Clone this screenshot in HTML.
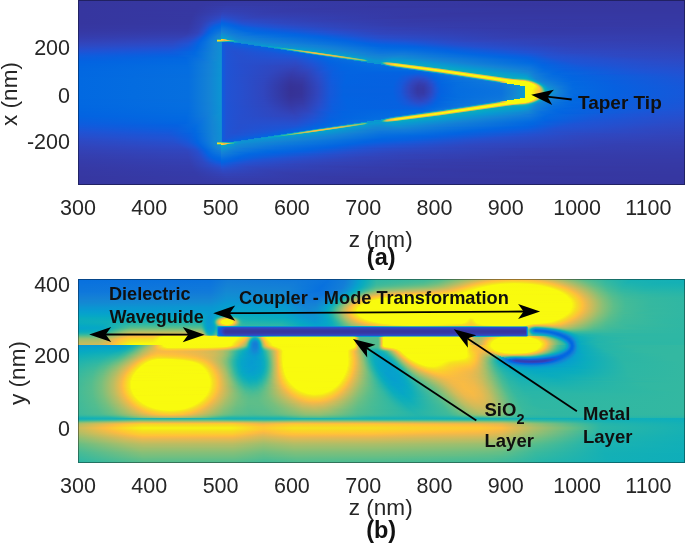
<!DOCTYPE html>
<html><head><meta charset="utf-8"><style>
html,body{margin:0;padding:0;background:#fff;width:685px;height:543px;overflow:hidden}
svg{display:block;position:absolute;left:0;top:0}
.hm{position:absolute;left:78px;width:607px;overflow:hidden}
.hm i{position:absolute;left:0;width:607px;height:1px;display:block}
text{font-family:"Liberation Sans",Arial,sans-serif}
.t{font-size:21.5px;fill:#262626}
.l{font-size:22.6px;fill:#262626}
.b{font-weight:bold;fill:#111;font-size:23.5px}
.ann{font-weight:bold;font-size:18.5px;fill:#101010}
</style></head><body>
<div class="hm" style="top:0;height:185px">
<i style="top:0px;height:3px;background:linear-gradient(90deg,#36369e 0.5px,#3638a2 125.5px,#3639a5 158.5px,#3636a0 571.5px,#3636a0 606.5px)"></i>
<i style="top:3px;height:3px;background:linear-gradient(90deg,#36369e 0.5px,#3638a2 122.5px,#353ba8 151.5px,#36369f 427.5px,#3637a0 606.5px)"></i>
<i style="top:6px;height:2px;background:linear-gradient(90deg,#36369e 0.5px,#3638a2 119.5px,#353dac 148.5px,#3637a1 311.5px,#3637a0 606.5px)"></i>
<i style="top:8px;height:2px;background:linear-gradient(90deg,#36369f 0.5px,#3638a2 118.5px,#343eb0 147.5px,#3639a5 236.5px,#3637a0 572.5px,#3637a1 606.5px)"></i>
<i style="top:10px;height:2px;background:linear-gradient(90deg,#36369f 0.5px,#3637a2 116.5px,#3341b4 146.5px,#353ba9 204.5px,#3637a0 453.5px,#3637a1 606.5px)"></i>
<i style="top:12px;background:linear-gradient(90deg,#36369f 0.5px,#3638a2 116.5px,#3341b4 142.5px,#3243b8 144.5px,#353cac 192.5px,#3637a1 405.5px,#3637a2 606.5px)"></i>
<i style="top:13px;background:linear-gradient(90deg,#36369f 0.5px,#3638a2 115.5px,#3342b7 142.5px,#3144bb 144.5px,#353eae 185.5px,#3637a1 379.5px,#3637a2 606.5px)"></i>
<i style="top:14px;background:linear-gradient(90deg,#36369f 0.5px,#3637a2 114.5px,#3243b9 142.5px,#2f46bf 144.5px,#343fb0 181.5px,#3638a2 363.5px,#3638a2 606.5px)"></i>
<i style="top:15px;background:linear-gradient(90deg,#36369f 0.5px,#3638a2 114.5px,#3145bc 142.5px,#2d48c3 143.5px,#3440b3 178.5px,#3638a3 349.5px,#3638a2 606.5px)"></i>
<i style="top:16px;background:linear-gradient(90deg,#36369f 0.5px,#3637a2 113.5px,#3242b8 133.5px,#2f47c0 142.5px,#2b4bc7 143.5px,#3341b6 175.5px,#3638a4 336.5px,#3638a3 606.5px)"></i>
<i style="top:17px;background:linear-gradient(90deg,#36369f 0.5px,#3638a2 113.5px,#3341b6 130.5px,#2d49c3 142.5px,#274dcb 143.5px,#3243b8 173.5px,#3639a5 325.5px,#3638a3 606.5px)"></i>
<i style="top:18px;background:linear-gradient(90deg,#36369f 0.5px,#3638a2 113.5px,#3342b6 129.5px,#2b4bc7 142.5px,#2351d1 143.5px,#3045bd 167.5px,#363aa6 307.5px,#3638a3 571.5px,#3638a3 606.5px)"></i>
<i style="top:19px;background:linear-gradient(90deg,#36369f 0.5px,#3638a2 112.5px,#3341b4 127.5px,#284dcb 141.5px,#274ecc 142.5px,#1d54d5 143.5px,#2e48c2 164.5px,#353dac 262.5px,#3638a2 462.5px,#3638a4 606.5px)"></i>
<i style="top:20px;background:linear-gradient(90deg,#36369f 0.5px,#3638a3 112.5px,#3341b4 126.5px,#2450cf 140.5px,#2351d0 142.5px,#1559da 143.5px,#2c4ac6 163.5px,#3340b4 232.5px,#3639a6 347.5px,#3638a4 606.5px)"></i>
<i style="top:21px;background:linear-gradient(90deg,#36369f 0.5px,#3638a2 111.5px,#3341b4 125.5px,#1f53d4 140.5px,#1d54d5 142.5px,#0d5dde 143.5px,#1956d8 151.5px,#294cc9 164.5px,#3341b6 231.5px,#363aa7 338.5px,#3639a4 582.5px,#3639a4 606.5px)"></i>
<i style="top:22px;background:linear-gradient(90deg,#36369f 0.5px,#3638a3 111.5px,#3340b4 124.5px,#254fce 134.5px,#1658d9 142.5px,#0661e0 143.5px,#1459db 152.5px,#254fce 163.5px,#2f46bf 199.5px,#353ba9 318.5px,#3638a4 535.5px,#3639a5 606.5px)"></i>
<i style="top:23px;background:linear-gradient(90deg,#36369f 0.5px,#3638a3 111.5px,#3440b3 123.5px,#264ecd 132.5px,#0f5cdd 141.5px,#0e5cde 142.5px,#0265e1 143.5px,#0860df 150.5px,#2251d2 164.5px,#2e48c1 203.5px,#353cab 315.5px,#3639a4 520.5px,#3639a5 606.5px)"></i>
<i style="top:24px;background:linear-gradient(90deg,#3636a0 0.5px,#3638a3 110.5px,#3440b2 122.5px,#284dca 130.5px,#0d5dde 138.5px,#0860df 142.5px,#0268e1 143.5px,#0661e0 152.5px,#1f53d4 167.5px,#2e48c2 212.5px,#353cac 314.5px,#3639a4 510.5px,#3639a5 606.5px)"></i>
<i style="top:25px;background:linear-gradient(90deg,#3637a0 0.5px,#3639a4 110.5px,#3341b4 122.5px,#284dca 129.5px,#0c5dde 136.5px,#0364e1 142.5px,#036ce0 143.5px,#0462e1 154.5px,#1d54d6 171.5px,#2d49c4 219.5px,#353dad 311.5px,#3639a5 498.5px,#363aa6 606.5px)"></i>
<i style="top:26px;background:linear-gradient(90deg,#3637a1 0.5px,#3639a5 110.5px,#3341b6 122.5px,#254fce 129.5px,#0a5fdf 135.5px,#0265e1 139.5px,#0267e1 142.5px,#066fdf 143.5px,#0462e1 157.5px,#1d54d6 179.5px,#3046be 244.5px,#353eae 319.5px,#3639a5 498.5px,#363aa6 606.5px)"></i>
<i style="top:27px;background:linear-gradient(90deg,#3637a1 0.5px,#3639a5 110.5px,#3341b5 121.5px,#254fce 128.5px,#0c5ede 133.5px,#0364e1 136.5px,#026ae1 142.5px,#0a72de 143.5px,#0365e1 158.5px,#2052d3 195.5px,#3243b8 272.5px,#353baa 373.5px,#363aa7 590.5px,#363aa7 606.5px)"></i>
<i style="top:28px;background:linear-gradient(90deg,#3637a2 0.5px,#3639a6 109.5px,#3341b4 120.5px,#264ecd 127.5px,#0b5edf 132.5px,#0265e1 135.5px,#046de0 142.5px,#0d76dc 143.5px,#0266e1 160.5px,#2251d1 213.5px,#3243b8 280.5px,#353aa8 419.5px,#353aa7 606.5px)"></i>
<i style="top:29px;background:linear-gradient(90deg,#3638a3 0.5px,#363aa7 109.5px,#3342b6 120.5px,#274ecc 126.5px,#0b5edf 131.5px,#0266e1 134.5px,#0770df 142.5px,#1079da 143.5px,#0267e1 162.5px,#115bdc 191.5px,#2d49c5 252.5px,#3340b4 312.5px,#363aa7 470.5px,#353ba8 606.5px)"></i>
<i style="top:30px;background:linear-gradient(90deg,#3638a3 0.5px,#353aa8 109.5px,#3243b8 120.5px,#2450cf 126.5px,#0661e0 131.5px,#036ae1 135.5px,#0a72de 142.5px,#137dd8 143.5px,#0268e1 166.5px,#0b5ede 192.5px,#2d49c5 260.5px,#3341b6 313.5px,#353aa8 464.5px,#353ba9 606.5px)"></i>
<i style="top:31px;background:linear-gradient(90deg,#3639a4 0.5px,#353ba9 109.5px,#3244ba 120.5px,#264fcd 125.5px,#0760e0 130.5px,#0269e1 133.5px,#0d75dc 142.5px,#1481d6 143.5px,#0269e1 168.5px,#0760e0 194.5px,#2351d1 243.5px,#3244ba 295.5px,#353ba9 453.5px,#353ba9 606.5px)"></i>
<i style="top:32px;background:linear-gradient(90deg,#3639a6 0.5px,#353cab 109.5px,#3243b9 119.5px,#274ecc 124.5px,#095fdf 129.5px,#0266e1 131.5px,#0f78db 141.5px,#0f78db 142.5px,#1485d4 143.5px,#0c74dd 157.5px,#0268e1 179.5px,#095fdf 210.5px,#254fce 255.5px,#3144bb 306.5px,#353baa 455.5px,#353baa 606.5px)"></i>
<i style="top:33px;background:linear-gradient(90deg,#363aa7 0.5px,#353dac 108.5px,#3045bd 119.5px,#2450d0 124.5px,#0a5fdf 128.5px,#0265e1 130.5px,#117bd9 141.5px,#127bd9 142.5px,#138ad3 143.5px,#1079da 155.5px,#036be0 178.5px,#0661e0 216.5px,#2152d3 255.5px,#3045bd 302.5px,#353cab 455.5px,#353caa 606.5px)"></i>
<i style="top:34px;background:linear-gradient(90deg,#353ba8 0.5px,#353eae 107.5px,#3046be 118.5px,#2350d0 123.5px,#0462e1 128.5px,#056de0 132.5px,#137dd8 140.5px,#137fd7 142.5px,#0f8fd2 143.5px,#137dd8 154.5px,#076fdf 174.5px,#0364e1 218.5px,#1b55d6 255.5px,#2f47c1 300.5px,#353dac 448.5px,#353cab 606.5px)"></i>
<i style="top:35px;background:linear-gradient(90deg,#353caa 0.5px,#343fb1 106.5px,#2f47c0 117.5px,#2351d1 122.5px,#0462e1 127.5px,#056de0 131.5px,#137fd7 139.5px,#1482d5 142.5px,#0b95d2 143.5px,#1484d4 152.5px,#0d75dc 167.5px,#0267e1 215.5px,#0860e0 238.5px,#264ecc 282.5px,#2d48c3 311.5px,#353eaf 430.5px,#353cac 606.5px)"></i>
<i style="top:36px;background:linear-gradient(90deg,#353cac 0.5px,#3440b3 104.5px,#2e48c2 116.5px,#1c55d6 122.5px,#0462e1 126.5px,#056de0 130.5px,#1480d6 138.5px,#1485d4 142.5px,#089ad0 143.5px,#108ed2 150.5px,#137ed7 159.5px,#046ce0 205.5px,#0562e0 242.5px,#264fcd 287.5px,#2c4ac6 312.5px,#343fb1 424.5px,#353dad 606.5px)"></i>
<i style="top:37px;background:linear-gradient(90deg,#353dae 0.5px,#3341b5 102.5px,#2c49c5 115.5px,#1a56d7 121.5px,#0363e1 125.5px,#056de0 129.5px,#1480d6 137.5px,#1388d3 142.5px,#069ece 143.5px,#0d93d2 150.5px,#1483d5 157.5px,#0d75dc 182.5px,#0265e1 242.5px,#1956d8 275.5px,#294cc9 302.5px,#343fb1 433.5px,#353dad 606.5px)"></i>
<i style="top:38px;background:linear-gradient(90deg,#343eb0 0.5px,#3243b8 100.5px,#2b4bc7 114.5px,#1857d8 120.5px,#0363e1 124.5px,#076fdf 129.5px,#1482d5 137.5px,#128ad3 142.5px,#06a7c6 143.5px,#06a1cc 145.5px,#0e92d2 152.5px,#1482d5 161.5px,#0265e1 249.5px,#125adc 274.5px,#254fce 299.5px,#3341b5 415.5px,#353eae 576.5px,#353eae 606.5px)"></i>
<i style="top:39px;background:linear-gradient(90deg,#3440b2 0.5px,#3244ba 98.5px,#2a4bc8 112.5px,#1b55d7 118.5px,#0363e1 123.5px,#066fdf 128.5px,#1482d5 136.5px,#1486d4 138.5px,#3ab99c 139.5px,#35b8a0 141.5px,#2ab6a6 142.5px,#f5e020 143.5px,#fad32a 144.5px,#fdbd3e 145.5px,#d4bb58 146.5px,#9ebe6d 147.5px,#4abc93 148.5px,#09abbf 149.5px,#079ecf 150.5px,#128bd2 157.5px,#137fd7 173.5px,#0364e1 258.5px,#1956d8 288.5px,#2251d1 304.5px,#3243b9 403.5px,#353eaf 540.5px,#353eaf 606.5px)"></i>
<i style="top:40px;background:linear-gradient(90deg,#3341b5 0.5px,#3045bd 96.5px,#284dcb 111.5px,#1957d8 117.5px,#0363e1 122.5px,#066edf 127.5px,#1481d6 135.5px,#1487d3 138.5px,#f5e11f 139.5px,#f5e11f 140.5px,#fbd02c 142.5px,#ffc436 143.5px,#f9bb43 144.5px,#d8ba56 146.5px,#f5ba47 147.5px,#fcbd3f 148.5px,#ebb94d 149.5px,#c8bc5d 150.5px,#96bf71 151.5px,#5abd8b 152.5px,#2cb7a5 154.5px,#23b5ab 155.5px,#0e92d2 156.5px,#1485d4 168.5px,#0364e1 266.5px,#1459da 289.5px,#1e54d5 305.5px,#3046be 386.5px,#343fb1 507.5px,#343eb0 606.5px)"></i>
<i style="top:41px;background:linear-gradient(90deg,#3342b7 0.5px,#2f47c0 95.5px,#264ecd 110.5px,#1757d9 116.5px,#0265e1 122.5px,#0a72de 128.5px,#1484d4 136.5px,#1388d3 138.5px,#8dbf74 139.5px,#8dbf74 140.5px,#86bf77 141.5px,#36b99f 146.5px,#13b0b6 149.5px,#0bacbd 150.5px,#0cadbc 151.5px,#15b0b5 152.5px,#18b1b3 155.5px,#09abbe 157.5px,#089bd0 159.5px,#0f8fd2 160.5px,#137fd7 191.5px,#0365e1 272.5px,#105bdd 290.5px,#1857d8 305.5px,#1f53d4 328.5px,#2f47c1 387.5px,#3440b2 504.5px,#343fb1 606.5px)"></i>
<i style="top:42px;background:linear-gradient(90deg,#3244ba 0.5px,#2e48c2 94.5px,#2450cf 109.5px,#125adc 116.5px,#0365e1 121.5px,#0971de 127.5px,#1483d5 135.5px,#108ed2 142.5px,#1389d3 143.5px,#0364e1 144.5px,#0c5ede 148.5px,#0363e1 154.5px,#046de0 155.5px,#1389d3 156.5px,#128bd3 159.5px,#0d92d2 164.5px,#1483d5 190.5px,#0972de 245.5px,#0364e1 280.5px,#125adc 304.5px,#1658d9 324.5px,#2a4cc9 369.5px,#3341b4 484.5px,#343fb2 606.5px)"></i>
<i style="top:43px;background:linear-gradient(90deg,#3145bd 0.5px,#2c4ac6 94.5px,#2053d4 110.5px,#0364e1 120.5px,#0770df 126.5px,#1483d5 135.5px,#108ed2 142.5px,#1389d3 143.5px,#0e5cde 144.5px,#1459db 145.5px,#0363e1 162.5px,#1388d3 163.5px,#1487d3 167.5px,#0d93d2 170.5px,#1483d5 202.5px,#0a72de 251.5px,#0265e1 286.5px,#0c5ede 305.5px,#125adc 327.5px,#264ecd 368.5px,#3342b7 469.5px,#3440b2 606.5px)"></i>
<i style="top:44px;background:linear-gradient(90deg,#2f47bf 0.5px,#2a4cc8 94.5px,#1c55d6 110.5px,#0265e1 120.5px,#0a73de 127.5px,#1485d4 136.5px,#108ed2 142.5px,#1389d3 143.5px,#0e5cde 144.5px,#1857d8 146.5px,#0363e1 169.5px,#1389d3 170.5px,#1487d3 174.5px,#0c93d2 177.5px,#1484d4 213.5px,#0a73dd 257.5px,#0364e1 291.5px,#0661e0 307.5px,#105bdd 334.5px,#264ecd 377.5px,#3242b8 476.5px,#3340b3 606.5px)"></i>
<i style="top:45px;background:linear-gradient(90deg,#2e48c2 0.5px,#274dcb 94.5px,#1b55d7 109.5px,#0364e1 119.5px,#0971de 126.5px,#1483d4 135.5px,#108ed2 142.5px,#1389d3 143.5px,#0e5cde 144.5px,#1c55d6 147.5px,#0363e1 175.5px,#1389d3 176.5px,#1388d3 180.5px,#079bd0 183.5px,#079bd0 186.5px,#0e91d2 188.5px,#137fd7 238.5px,#0265e1 295.5px,#0661e0 327.5px,#254fce 385.5px,#3243b9 479.5px,#3341b4 606.5px)"></i>
<i style="top:46px;background:linear-gradient(90deg,#2c4ac5 0.5px,#254fce 94.5px,#1956d8 108.5px,#0265e1 119.5px,#0b74dd 127.5px,#1485d4 136.5px,#108ed2 142.5px,#1389d3 143.5px,#0e5cde 144.5px,#1e54d5 148.5px,#0363e1 182.5px,#138ad3 183.5px,#1389d3 186.5px,#06a0cd 189.5px,#06a5c8 192.5px,#0998d1 195.5px,#0d92d2 197.5px,#137ed7 247.5px,#0266e1 299.5px,#0561e0 335.5px,#254fce 395.5px,#3243b9 492.5px,#3341b5 606.5px)"></i>
<i style="top:47px;background:linear-gradient(90deg,#2a4cc8 0.5px,#2251d2 95.5px,#1359db 109.5px,#0265e1 118.5px,#0a72de 126.5px,#1484d4 135.5px,#108ed2 142.5px,#1389d3 143.5px,#0e5cde 144.5px,#1f53d4 148.5px,#0860e0 183.5px,#0267e1 189.5px,#128bd2 190.5px,#128ad3 192.5px,#06a2cb 195.5px,#0dadbb 199.5px,#06a6c7 202.5px,#0a96d1 204.5px,#1480d6 250.5px,#0269e1 304.5px,#0363e1 341.5px,#2450cf 405.5px,#3244ba 498.5px,#3342b6 606.5px)"></i>
<i style="top:48px;background:linear-gradient(90deg,#274dcc 0.5px,#1f53d5 95.5px,#0d5dde 111.5px,#0267e1 119.5px,#1484d4 135.5px,#108ed2 142.5px,#1389d3 143.5px,#0e5cde 144.5px,#1f53d4 148.5px,#1857d8 169.5px,#0364e1 195.5px,#128cd2 196.5px,#128bd2 198.5px,#0e91d2 199.5px,#069fce 200.5px,#06a8c4 201.5px,#1eb3ae 203.5px,#33b8a0 205.5px,#35b8a0 206.5px,#24b5aa 208.5px,#09abbf 210.5px,#0899d1 212.5px,#1481d6 255.5px,#036be0 303.5px,#0268e1 334.5px,#0860df 359.5px,#2450cf 417.5px,#3145bc 499.5px,#3342b7 606.5px)"></i>
<i style="top:49px;background:linear-gradient(90deg,#254fcf 0.5px,#1c55d6 92.5px,#0c5ede 110.5px,#0267e1 118.5px,#1484d4 135.5px,#108ed2 142.5px,#1389d3 143.5px,#0e5cde 144.5px,#1f53d4 148.5px,#2053d4 160.5px,#0a5fdf 192.5px,#0364e1 201.5px,#056de0 202.5px,#118cd2 203.5px,#118cd2 204.5px,#0b95d2 205.5px,#06a3ca 206.5px,#0badbc 207.5px,#53bd8f 210.5px,#65be85 211.5px,#6fbf81 212.5px,#6ebf81 213.5px,#64be86 214.5px,#39b99d 216.5px,#0cadbb 218.5px,#06a5c9 219.5px,#089ad0 220.5px,#1481d5 261.5px,#056ee0 303.5px,#036be1 333.5px,#0761e0 366.5px,#2450cf 428.5px,#3046be 493.5px,#3243b8 606.5px)"></i>
<i style="top:50px;background:linear-gradient(90deg,#2251d2 0.5px,#1956d8 90.5px,#095fdf 110.5px,#0268e1 118.5px,#1484d4 135.5px,#108fd2 142.5px,#1389d3 143.5px,#0e5cde 144.5px,#1f53d4 148.5px,#2251d1 156.5px,#125adb 188.5px,#0364e1 207.5px,#046ce0 208.5px,#118dd2 209.5px,#118dd2 210.5px,#0a96d1 211.5px,#06a5c8 212.5px,#11afb8 213.5px,#2eb7a4 214.5px,#76bf7e 216.5px,#90bf73 217.5px,#9fbe6d 218.5px,#a6be6b 219.5px,#a4be6b 220.5px,#99bf6f 221.5px,#86bf78 222.5px,#67be85 223.5px,#22b4ac 225.5px,#0aacbe 226.5px,#06a2cc 227.5px,#079cd0 229.5px,#1482d5 267.5px,#0870df 303.5px,#066fdf 329.5px,#0363e1 369.5px,#2350d0 439.5px,#2e47c1 485.5px,#3243b9 606.5px)"></i>
<i style="top:51px;background:linear-gradient(90deg,#1f53d4 0.5px,#1459da 92.5px,#0267e1 116.5px,#0e76dc 127.5px,#1388d3 137.5px,#108fd2 142.5px,#1389d3 143.5px,#0e5cde 144.5px,#1f53d4 148.5px,#2350d0 156.5px,#1658d9 189.5px,#0364e1 213.5px,#036ae1 214.5px,#0e76dc 215.5px,#108ed2 216.5px,#0b95d2 217.5px,#06a5c8 218.5px,#13b0b6 219.5px,#36b99f 220.5px,#64be86 221.5px,#8dbf74 222.5px,#aabe69 223.5px,#bfbc61 224.5px,#cbbb5c 225.5px,#cebb5a 226.5px,#cabb5c 227.5px,#bebc61 228.5px,#aabe69 229.5px,#8ebf74 230.5px,#67be85 231.5px,#3cba9b 232.5px,#19b2b2 233.5px,#06a8c4 234.5px,#069ece 235.5px,#1482d5 273.5px,#0a73de 302.5px,#0a73dd 326.5px,#0265e1 372.5px,#2251d2 447.5px,#2d49c3 482.5px,#3244ba 606.5px)"></i>
<i style="top:52px;background:linear-gradient(90deg,#1b55d7 0.5px,#115bdc 92.5px,#0268e1 116.5px,#1485d4 135.5px,#108fd2 142.5px,#1389d3 143.5px,#0e5cde 144.5px,#1f53d4 148.5px,#2450d0 157.5px,#1956d8 191.5px,#0364e1 219.5px,#0267e1 220.5px,#1480d6 222.5px,#06a3cb 224.5px,#0faeb9 225.5px,#33b8a1 226.5px,#65be86 227.5px,#94bf72 228.5px,#b7bd64 229.5px,#d1bb59 230.5px,#e4b951 231.5px,#efb94b 232.5px,#f1b949 233.5px,#ecb94d 234.5px,#dfba53 235.5px,#cabb5c 236.5px,#abbe68 237.5px,#81bf7a 238.5px,#4cbc92 239.5px,#20b4ad 240.5px,#07a9c2 241.5px,#069fce 242.5px,#1482d5 279.5px,#0d75dc 302.5px,#0d76dc 326.5px,#0266e1 376.5px,#0b5edf 405.5px,#2350d0 454.5px,#2d48c3 493.5px,#3144bc 606.5px)"></i>
<i style="top:53px;background:linear-gradient(90deg,#1757d9 0.5px,#0d5dde 95.5px,#0269e1 116.5px,#1485d4 135.5px,#0f8fd2 142.5px,#1389d3 143.5px,#0e5cde 144.5px,#1f53d4 148.5px,#2450cf 158.5px,#1a56d7 196.5px,#0265e1 226.5px,#076fdf 227.5px,#127bd9 228.5px,#0f90d2 229.5px,#079ecf 230.5px,#09abbe 231.5px,#2ab6a6 232.5px,#5dbe89 233.5px,#92bf72 234.5px,#bbbd62 235.5px,#dcba54 236.5px,#f2b949 237.5px,#fcbd40 238.5px,#febf3d 239.5px,#fbbc40 240.5px,#f1b94a 241.5px,#ddba54 242.5px,#c3bc5f 243.5px,#a1be6c 244.5px,#76bf7e 245.5px,#43bb97 246.5px,#1bb2b0 247.5px,#06a8c4 248.5px,#069ece 249.5px,#1482d5 285.5px,#0f78db 301.5px,#117ada 324.5px,#0267e1 384.5px,#0a5fdf 413.5px,#1e54d5 452.5px,#2c4ac6 487.5px,#3045bd 606.5px)"></i>
<i style="top:54px;background:linear-gradient(90deg,#1459db 0.5px,#095fdf 99.5px,#0269e1 116.5px,#1485d4 135.5px,#0f8fd2 142.5px,#1389d3 143.5px,#0e5cde 144.5px,#1f53d4 148.5px,#2450cf 159.5px,#1a56d7 205.5px,#0266e1 231.5px,#036ae1 233.5px,#1484d4 235.5px,#0997d1 236.5px,#06a7c6 237.5px,#19b2b2 238.5px,#41ba98 239.5px,#74bf7f 240.5px,#9fbe6d 241.5px,#c0bc60 242.5px,#d9ba55 243.5px,#ebb94d 244.5px,#f5ba47 245.5px,#f7ba45 246.5px,#f3b948 247.5px,#e6b950 248.5px,#d3bb58 249.5px,#b8bd63 250.5px,#96bf71 251.5px,#6abe83 252.5px,#3bb99c 253.5px,#16b1b4 254.5px,#06a7c6 255.5px,#069ece 256.5px,#1480d6 290.5px,#127dd8 305.5px,#127cd8 326.5px,#0267e1 393.5px,#0a5fdf 424.5px,#1857d8 451.5px,#264fcd 469.5px,#2f47c1 541.5px,#3046be 606.5px)"></i>
<i style="top:55px;background:linear-gradient(90deg,#105bdd 0.5px,#0761e0 98.5px,#046ce0 118.5px,#1484d4 134.5px,#0f90d2 142.5px,#1389d3 143.5px,#0e5cde 144.5px,#1f53d4 148.5px,#254fce 159.5px,#1b55d6 210.5px,#0265e1 234.5px,#0269e1 239.5px,#066fdf 240.5px,#117ad9 241.5px,#1388d3 242.5px,#089ad0 243.5px,#06a8c4 244.5px,#1bb2b0 245.5px,#42bb98 246.5px,#73bf7f 247.5px,#9dbf6e 248.5px,#bcbd62 249.5px,#d3bb58 250.5px,#e4b951 251.5px,#ecb94c 252.5px,#eeb94b 253.5px,#e8b94e 254.5px,#dbba55 255.5px,#c8bc5d 256.5px,#adbe68 257.5px,#8bbf75 258.5px,#33b8a1 260.5px,#12afb7 261.5px,#06a5c8 262.5px,#069ece 263.5px,#1485d4 289.5px,#137fd6 304.5px,#1482d5 323.5px,#0267e1 404.5px,#0a5fdf 436.5px,#1459da 452.5px,#2450cf 470.5px,#2e48c2 543.5px,#2f46bf 606.5px)"></i>
<i style="top:56px;background:linear-gradient(90deg,#0e5dde 0.5px,#0562e0 98.5px,#046de0 118.5px,#1484d4 134.5px,#0f90d2 142.5px,#1389d3 143.5px,#0e5cde 144.5px,#1f53d4 148.5px,#254fce 160.5px,#1d54d5 214.5px,#0265e1 238.5px,#036be1 246.5px,#127cd8 248.5px,#0d92d2 249.5px,#079cd0 250.5px,#07a9c2 251.5px,#1db3af 252.5px,#43bb97 253.5px,#72bf80 254.5px,#99bf70 255.5px,#b7bd64 256.5px,#cdbb5b 257.5px,#dcba54 258.5px,#e3b951 259.5px,#e4b951 260.5px,#deba54 261.5px,#d0bb5a 262.5px,#babd62 263.5px,#9dbe6e 264.5px,#78bf7d 265.5px,#4bbc93 266.5px,#24b5aa 267.5px,#0aacbe 268.5px,#06a1cc 269.5px,#1389d3 289.5px,#1483d5 304.5px,#1487d3 321.5px,#0a73de 371.5px,#0265e1 421.5px,#0d5dde 450.5px,#2252d2 470.5px,#2d49c3 542.5px,#2f47c0 606.5px)"></i>
<i style="top:57px;background:linear-gradient(90deg,#0b5edf 0.5px,#0265e1 106.5px,#0871de 121.5px,#1486d4 135.5px,#0f90d2 142.5px,#1389d3 143.5px,#0e5cde 144.5px,#1f53d4 148.5px,#254fce 161.5px,#2053d4 216.5px,#0265e1 241.5px,#046de0 253.5px,#137ed7 255.5px,#0d93d2 256.5px,#079ecf 257.5px,#07aac1 258.5px,#1eb3ae 259.5px,#43bb97 260.5px,#6fbf81 261.5px,#94bf72 262.5px,#aebe67 263.5px,#c1bc60 264.5px,#cdbb5b 265.5px,#d2bb59 266.5px,#cfbb5a 267.5px,#c7bc5d 268.5px,#b7bd64 269.5px,#a1be6c 270.5px,#83bf79 271.5px,#35b8a0 273.5px,#16b1b4 274.5px,#06a8c5 275.5px,#079dcf 276.5px,#0f90d2 288.5px,#1388d3 295.5px,#1487d3 304.5px,#118dd2 318.5px,#127cd8 353.5px,#0267e1 423.5px,#0760e0 449.5px,#2152d3 473.5px,#2d49c4 554.5px,#2e48c1 606.5px)"></i>
<i style="top:58px;background:linear-gradient(90deg,#095fdf 0.5px,#0267e1 107.5px,#0a73de 122.5px,#1486d3 135.5px,#0f90d2 142.5px,#1389d3 143.5px,#0e5cde 144.5px,#1f53d4 148.5px,#254fce 161.5px,#2251d1 217.5px,#0364e1 243.5px,#066ee0 260.5px,#1480d6 262.5px,#0c94d2 263.5px,#069ece 264.5px,#07a9c2 265.5px,#1ab2b1 266.5px,#39b99d 267.5px,#81bf7a 269.5px,#9abf6f 270.5px,#acbe68 271.5px,#b6bd64 272.5px,#babd63 273.5px,#b7bd64 274.5px,#adbe68 275.5px,#9dbf6e 276.5px,#85bf78 277.5px,#41ba98 279.5px,#22b4ac 280.5px,#0bacbd 281.5px,#06a3cb 282.5px,#079cd0 284.5px,#118dd2 294.5px,#128ad3 303.5px,#0c93d2 315.5px,#1480d6 352.5px,#0267e1 434.5px,#0761e0 452.5px,#2053d3 477.5px,#2c49c5 568.5px,#2e48c2 606.5px)"></i>
<i style="top:59px;background:linear-gradient(90deg,#0760e0 0.5px,#0268e1 108.5px,#0d75dc 124.5px,#1388d3 136.5px,#0e91d2 142.5px,#1389d3 143.5px,#0e5cde 144.5px,#1f53d4 148.5px,#254fce 161.5px,#254fce 217.5px,#1559da 232.5px,#0365e1 247.5px,#066fdf 267.5px,#0d75dc 268.5px,#0b95d2 269.5px,#0b94d2 270.5px,#079cd0 271.5px,#06a7c5 272.5px,#13b0b6 273.5px,#4bbc93 275.5px,#6bbe83 276.5px,#83bf78 277.5px,#94bf72 278.5px,#9ebe6e 279.5px,#a0be6d 280.5px,#9cbf6e 281.5px,#90bf73 282.5px,#7cbf7b 283.5px,#40ba99 285.5px,#07aac1 287.5px,#089ad0 288.5px,#0e91d2 295.5px,#0f8fd2 303.5px,#0899d1 314.5px,#108fd2 334.5px,#137ed7 366.5px,#0267e1 444.5px,#0760e0 455.5px,#1f53d4 481.5px,#2c4ac6 573.5px,#2d49c4 606.5px)"></i>
<i style="top:60px;background:linear-gradient(90deg,#0561e0 0.5px,#0269e1 108.5px,#0f77db 125.5px,#1389d3 136.5px,#0e91d2 142.5px,#1389d3 143.5px,#0e5cde 144.5px,#1f53d4 148.5px,#264fcd 162.5px,#284dcb 217.5px,#1957d8 232.5px,#0364e1 249.5px,#066fdf 274.5px,#0d75dc 275.5px,#0b95d1 276.5px,#089ad0 278.5px,#06a5c8 279.5px,#0cadbb 280.5px,#4fbc90 283.5px,#63be86 284.5px,#71bf80 285.5px,#77bf7e 286.5px,#5ebe89 287.5px,#2bb6a6 288.5px,#08abc0 289.5px,#089ad0 290.5px,#0c94d2 303.5px,#069ece 313.5px,#0997d1 331.5px,#1483d5 363.5px,#0365e1 453.5px,#1e54d5 484.5px,#2b4bc7 577.5px,#2d49c5 606.5px)"></i>
<i style="top:61px;background:linear-gradient(90deg,#0363e1 0.5px,#0269e1 108.5px,#137dd8 129.5px,#0f8fd2 140.5px,#0e91d2 142.5px,#1389d3 143.5px,#0e5cde 144.5px,#1f53d4 148.5px,#264fcd 162.5px,#2a4cc9 217.5px,#1957d8 234.5px,#0364e1 251.5px,#076fdf 281.5px,#0c74dd 282.5px,#0a96d1 283.5px,#0b96d1 285.5px,#06a0cd 286.5px,#06a4c9 287.5px,#079ccf 289.5px,#0c93d2 290.5px,#0d93d2 294.5px,#089ad0 295.5px,#0899d1 303.5px,#06a3ca 314.5px,#089ad0 336.5px,#1483d5 371.5px,#0266e1 454.5px,#1e54d5 490.5px,#2b4bc8 585.5px,#2c4ac6 606.5px)"></i>
<i style="top:62px;background:linear-gradient(90deg,#0363e1 0.5px,#026ae1 108.5px,#137dd7 129.5px,#0f8fd2 140.5px,#0e91d2 142.5px,#1389d3 143.5px,#0e5cde 144.5px,#1f53d4 148.5px,#264fcd 162.5px,#2c4ac6 217.5px,#1a56d7 235.5px,#0363e1 252.5px,#076fdf 288.5px,#0997d1 289.5px,#0d93d2 301.5px,#079dcf 302.5px,#07aac1 303.5px,#1db3af 304.5px,#58bd8c 306.5px,#73bf7f 307.5px,#85bf78 308.5px,#85bf78 309.5px,#4fbc91 312.5px,#18b1b3 315.5px,#0bacbd 316.5px,#06a8c4 317.5px,#0b95d2 351.5px,#1482d5 381.5px,#0269e1 453.5px,#0860df 465.5px,#1d54d5 495.5px,#2a4cc9 586.5px,#2b4bc7 606.5px)"></i>
<i style="top:63px;background:linear-gradient(90deg,#0364e1 0.5px,#036ae1 108.5px,#137ed7 129.5px,#0e91d2 141.5px,#0e92d2 142.5px,#1389d3 143.5px,#0e5cde 144.5px,#1f53d4 148.5px,#264ecd 162.5px,#2d49c4 217.5px,#1f53d4 234.5px,#0562e0 251.5px,#046ce0 285.5px,#0770df 295.5px,#0998d1 296.5px,#0b96d1 302.5px,#06a2cc 303.5px,#14b0b5 304.5px,#43bb97 305.5px,#80bf7a 306.5px,#b2bd66 307.5px,#daba55 308.5px,#f1b94a 309.5px,#fabc42 311.5px,#f5ba47 314.5px,#e2b951 316.5px,#d0bb59 317.5px,#9cbf6e 319.5px,#38b99d 322.5px,#1fb3ae 323.5px,#0cadbc 324.5px,#07a9c3 326.5px,#0b95d2 359.5px,#1482d5 389.5px,#036be1 453.5px,#0661e0 466.5px,#1c55d6 498.5px,#284dcb 580.5px,#2a4bc8 606.5px)"></i>
<i style="top:64px;background:linear-gradient(90deg,#0265e1 0.5px,#036be0 109.5px,#1480d6 130.5px,#0d92d2 142.5px,#1389d3 143.5px,#0e5cde 144.5px,#1f53d4 148.5px,#264ecd 162.5px,#2e48c1 217.5px,#2251d1 233.5px,#0860df 250.5px,#0266e1 264.5px,#0770df 302.5px,#0999d1 303.5px,#079dcf 305.5px,#0dadbb 306.5px,#3bba9c 307.5px,#82bf79 308.5px,#b4bd65 309.5px,#efb94b 311.5px,#ffc238 312.5px,#f5e81a 315.5px,#f7f313 316.5px,#f7f611 317.5px,#f6dc23 320.5px,#fec635 322.5px,#f8bb44 323.5px,#b4bd65 326.5px,#79bf7d 328.5px,#36b99f 330.5px,#1db3af 331.5px,#0cadbc 332.5px,#07a9c3 334.5px,#0b95d2 367.5px,#1482d5 397.5px,#066fdf 451.5px,#0364e1 464.5px,#1a56d7 500.5px,#264ecc 573.5px,#294cc9 606.5px)"></i>
<i style="top:65px;background:linear-gradient(90deg,#0265e1 0.5px,#046ce0 109.5px,#1480d6 130.5px,#0d92d2 142.5px,#1389d3 143.5px,#0e5cde 144.5px,#1f53d4 148.5px,#264ecd 162.5px,#2e47c1 202.5px,#2f47c0 220.5px,#2052d3 236.5px,#0760e0 252.5px,#0267e1 270.5px,#066edf 305.5px,#0b73dd 306.5px,#1482d5 307.5px,#0998d1 308.5px,#06a8c5 309.5px,#19b2b2 310.5px,#3fba99 311.5px,#70bf81 312.5px,#9abf6f 313.5px,#e1ba52 315.5px,#fdbe3e 316.5px,#fcce2e 317.5px,#f5e41d 319.5px,#f8f710 321.5px,#f9fb0e 324.5px,#f6ef16 326.5px,#fbd02c 329.5px,#ffc436 330.5px,#f6ba46 331.5px,#b1bd66 334.5px,#76bf7e 336.5px,#35b8a0 338.5px,#1db3af 339.5px,#0badbc 340.5px,#07a9c3 342.5px,#0b95d2 375.5px,#1483d5 405.5px,#0971de 451.5px,#0265e1 464.5px,#1a56d7 508.5px,#264fcd 576.5px,#284dca 606.5px)"></i>
<i style="top:66px;background:linear-gradient(90deg,#0266e1 0.5px,#046ce0 109.5px,#1480d6 130.5px,#0d92d2 142.5px,#1389d3 143.5px,#0e5cde 144.5px,#1f53d4 148.5px,#264ecd 162.5px,#2f47c0 200.5px,#3045bd 219.5px,#2350d0 235.5px,#0a5fdf 251.5px,#0265e1 264.5px,#056de0 309.5px,#0972de 310.5px,#127dd8 311.5px,#1389d3 312.5px,#0997d1 313.5px,#06a4ca 314.5px,#0dadbb 315.5px,#28b6a7 316.5px,#74bf7f 318.5px,#b5bd64 320.5px,#e9b94e 322.5px,#fcbd3f 323.5px,#fdca31 324.5px,#f5ed17 327.5px,#f9fb0e 329.5px,#f8f810 333.5px,#f7d925 336.5px,#ffc238 338.5px,#f3ba48 339.5px,#aebe67 342.5px,#73bf7f 344.5px,#33b8a0 346.5px,#1cb3b0 347.5px,#0bacbd 348.5px,#06a9c3 351.5px,#0b95d2 383.5px,#1483d5 414.5px,#0b74dd 451.5px,#0267e1 464.5px,#1757d9 506.5px,#2450d0 566.5px,#274dcb 606.5px)"></i>
<i style="top:67px;background:linear-gradient(90deg,#0266e1 0.5px,#046de0 110.5px,#1480d6 130.5px,#0d92d2 142.5px,#1389d3 143.5px,#0e5cde 144.5px,#1f53d4 148.5px,#264ecd 162.5px,#2e47c1 197.5px,#3244ba 217.5px,#264ecc 234.5px,#0b5edf 251.5px,#0364e1 264.5px,#046de0 315.5px,#127cd8 317.5px,#1485d4 318.5px,#079dcf 320.5px,#06a7c6 321.5px,#0faeb9 322.5px,#25b5a9 323.5px,#44bb96 324.5px,#8fbf74 326.5px,#c9bc5c 328.5px,#f8ba44 330.5px,#fec634 331.5px,#f5ea19 334.5px,#f9fb0e 336.5px,#f8f810 341.5px,#f7d826 344.5px,#fec13a 346.5px,#f1b94a 347.5px,#acbe68 350.5px,#71bf80 352.5px,#32b8a1 354.5px,#1bb2b0 355.5px,#0bacbd 356.5px,#07a9c3 359.5px,#0b95d2 391.5px,#1482d5 423.5px,#0e76dc 451.5px,#0268e1 464.5px,#0b5edf 483.5px,#2152d2 554.5px,#264ecd 606.5px)"></i>
<i style="top:68px;background:linear-gradient(90deg,#0267e1 0.5px,#046de0 110.5px,#1480d6 130.5px,#0d93d2 142.5px,#1389d3 143.5px,#0e5cde 144.5px,#1f53d4 148.5px,#264ecd 163.5px,#2f47c0 196.5px,#3242b7 216.5px,#294cc9 233.5px,#0c5ede 251.5px,#0364e1 264.5px,#046ce0 322.5px,#1484d4 325.5px,#079bd0 327.5px,#06a5c8 328.5px,#0cadbc 329.5px,#20b4ad 330.5px,#3dba9b 331.5px,#86bf77 333.5px,#c2bc5f 335.5px,#f2b949 337.5px,#ffc338 338.5px,#f5e81b 341.5px,#f9fb0e 343.5px,#f8f810 349.5px,#f5e21f 351.5px,#febf3c 354.5px,#eeb94b 355.5px,#a9be69 358.5px,#6ebf82 360.5px,#2fb7a3 362.5px,#17b1b3 363.5px,#08aac1 364.5px,#0998d1 395.5px,#1484d4 429.5px,#1078da 451.5px,#0268e1 466.5px,#135adb 508.5px,#2152d2 564.5px,#254fce 606.5px)"></i>
<i style="top:69px;background:linear-gradient(90deg,#0267e1 0.5px,#056de0 110.5px,#1481d6 130.5px,#0d93d2 142.5px,#1389d3 143.5px,#0e5cde 144.5px,#1f53d4 148.5px,#264ecd 163.5px,#2f47c0 195.5px,#3341b5 215.5px,#2d49c4 231.5px,#0e5dde 250.5px,#0364e1 264.5px,#046ce0 329.5px,#1483d5 332.5px,#089ad1 334.5px,#09abbe 336.5px,#1bb2b0 337.5px,#36b99f 338.5px,#7dbf7b 340.5px,#bbbd62 342.5px,#ecb94c 344.5px,#febf3c 345.5px,#f5e41d 348.5px,#f9fb0e 350.5px,#f8f810 357.5px,#f5e11f 359.5px,#fdca31 361.5px,#fcbd3f 362.5px,#cfbb5a 364.5px,#97bf70 366.5px,#31b8a2 369.5px,#18b2b2 370.5px,#09abbf 371.5px,#089ad0 400.5px,#1483d4 438.5px,#1079da 452.5px,#0269e1 467.5px,#0a5fdf 488.5px,#2053d4 561.5px,#244fcf 606.5px)"></i>
<i style="top:70px;background:linear-gradient(90deg,#0267e1 0.5px,#056ee0 110.5px,#1481d6 130.5px,#0d93d2 142.5px,#1389d3 143.5px,#0e5cde 144.5px,#1f53d4 148.5px,#264ecd 163.5px,#2f47c0 193.5px,#3440b3 215.5px,#2f47c0 230.5px,#1658da 246.5px,#0363e1 262.5px,#036be0 336.5px,#1482d5 339.5px,#128cd2 340.5px,#06a2cb 342.5px,#08aac1 343.5px,#17b1b3 344.5px,#2fb7a3 345.5px,#96bf71 348.5px,#e6b950 351.5px,#fabc41 352.5px,#fec832 353.5px,#f5e11f 355.5px,#f9fa0e 357.5px,#f9fb0e 364.5px,#f5e41d 366.5px,#fdca30 368.5px,#fcbd3f 369.5px,#cfbb5a 371.5px,#98bf70 373.5px,#33b8a1 376.5px,#1ab2b1 377.5px,#09acbe 378.5px,#079bd0 406.5px,#1483d5 447.5px,#046ce0 465.5px,#0661e0 486.5px,#1e54d5 560.5px,#2450d0 606.5px)"></i>
<i style="top:71px;background:linear-gradient(90deg,#0268e1 0.5px,#056ee0 110.5px,#1481d6 130.5px,#0d93d2 142.5px,#1389d3 143.5px,#0e5cde 144.5px,#1f53d4 148.5px,#264ecd 163.5px,#2f47c0 192.5px,#343fb0 214.5px,#3045bd 229.5px,#1e54d5 243.5px,#0860df 256.5px,#0364e1 271.5px,#0267e1 342.5px,#0972de 344.5px,#1480d6 346.5px,#138ad3 347.5px,#06a0cd 349.5px,#07a9c3 350.5px,#13b0b6 351.5px,#29b6a7 352.5px,#6cbf83 354.5px,#acbe68 356.5px,#f6ba46 359.5px,#ffc536 360.5px,#f5ed17 363.5px,#f9fb0e 364.5px,#f9fb0e 371.5px,#f5e51d 373.5px,#fdcb30 375.5px,#fcbd3f 376.5px,#d0bb59 378.5px,#99bf6f 380.5px,#35b8a0 383.5px,#1cb3b0 384.5px,#0aacbd 385.5px,#06a0cd 406.5px,#1482d5 450.5px,#066fdf 463.5px,#0364e1 481.5px,#1c55d6 560.5px,#2351d1 606.5px)"></i>
<i style="top:72px;background:linear-gradient(90deg,#0268e1 0.5px,#056ee0 110.5px,#1481d6 130.5px,#0d93d2 142.5px,#1389d3 143.5px,#0e5cde 144.5px,#1f53d4 148.5px,#264ecd 163.5px,#2f47c0 191.5px,#353dae 214.5px,#3243b9 228.5px,#2152d3 242.5px,#095fdf 256.5px,#0364e1 270.5px,#0363e1 332.5px,#0268e1 348.5px,#036ae1 350.5px,#137fd6 353.5px,#1388d3 354.5px,#06a0cd 356.5px,#06a7c5 357.5px,#0faeb9 358.5px,#24b5aa 359.5px,#40ba99 360.5px,#aabe69 363.5px,#e2b951 365.5px,#fabb42 366.5px,#fec931 367.5px,#f5e51c 369.5px,#f7f412 370.5px,#f9fb0e 371.5px,#f9fb0e 378.5px,#f7f313 379.5px,#f7d826 381.5px,#fdcb30 382.5px,#fcbd3f 383.5px,#d1bb59 385.5px,#9bbf6f 387.5px,#37b99e 390.5px,#1eb3ae 391.5px,#0cadbc 392.5px,#06a8c5 399.5px,#0c94d2 434.5px,#1486d4 450.5px,#0971de 462.5px,#0266e1 479.5px,#1c55d6 566.5px,#2251d2 606.5px)"></i>
<i style="top:73px;background:linear-gradient(90deg,#0268e1 0.5px,#056ee0 110.5px,#1481d5 130.5px,#0c93d2 142.5px,#1389d3 143.5px,#0e5cde 144.5px,#1f53d4 148.5px,#264ecd 163.5px,#2f47c0 190.5px,#353cac 213.5px,#3341b6 227.5px,#2450cf 241.5px,#0a5fdf 255.5px,#0364e1 269.5px,#0462e1 327.5px,#0a5fdf 341.5px,#0269e1 352.5px,#0870df 358.5px,#137ed7 360.5px,#1487d3 361.5px,#06a1cc 362.5px,#06a1cc 363.5px,#06a8c4 364.5px,#13b0b6 365.5px,#2cb7a5 366.5px,#76bf7e 368.5px,#b9bd63 370.5px,#eeb94b 372.5px,#fec239 373.5px,#f5ed17 376.5px,#f9fb0e 377.5px,#f9fb0e 385.5px,#f7f412 386.5px,#f7d826 388.5px,#fdcb30 389.5px,#fcbd3f 390.5px,#e9b94e 391.5px,#9cbf6e 394.5px,#39b99d 397.5px,#1fb4ad 398.5px,#0dadbb 399.5px,#07aac1 402.5px,#0a97d1 437.5px,#118cd2 449.5px,#117bd9 456.5px,#0269e1 475.5px,#1459db 537.5px,#2152d3 606.5px)"></i>
<i style="top:74px;background:linear-gradient(90deg,#0268e1 0.5px,#066edf 110.5px,#1481d5 130.5px,#0c93d2 142.5px,#1389d3 143.5px,#0e5cde 144.5px,#1f53d4 148.5px,#264ecc 163.5px,#2f47c0 189.5px,#353baa 213.5px,#3440b2 226.5px,#254fce 241.5px,#0b5edf 255.5px,#0363e1 269.5px,#0562e0 324.5px,#125adc 340.5px,#0267e1 353.5px,#0b73dd 365.5px,#1483d5 367.5px,#118dd2 368.5px,#06a2cb 369.5px,#06a4c9 370.5px,#0bacbd 371.5px,#1fb3ad 372.5px,#3dba9b 373.5px,#89bf76 375.5px,#c7bc5d 377.5px,#f9bb43 379.5px,#fec932 380.5px,#f5e51c 382.5px,#f7f512 383.5px,#f9fb0e 385.5px,#f9fb0e 392.5px,#f7f512 393.5px,#f7d826 395.5px,#fdbe3e 397.5px,#e9b94e 398.5px,#9dbe6e 401.5px,#3bb99c 404.5px,#21b4ac 405.5px,#0eaeba 406.5px,#08abc0 408.5px,#0998d1 444.5px,#108ed2 450.5px,#137dd8 456.5px,#0269e1 476.5px,#0c5dde 520.5px,#2053d3 606.5px)"></i>
<i style="top:75px;background:linear-gradient(90deg,#0268e1 0.5px,#066edf 110.5px,#1481d5 130.5px,#0c93d2 142.5px,#1389d3 143.5px,#0e5cde 144.5px,#1f53d4 148.5px,#264ecc 163.5px,#2f46bf 189.5px,#353aa8 213.5px,#343fb0 226.5px,#284dcb 240.5px,#0c5dde 254.5px,#0363e1 268.5px,#0661e0 322.5px,#1b55d7 340.5px,#0e5cde 348.5px,#0265e1 354.5px,#0e77db 372.5px,#1388d3 374.5px,#06a3ca 376.5px,#07a9c3 377.5px,#14b0b5 378.5px,#2eb7a4 379.5px,#9abf6f 382.5px,#eeb94b 385.5px,#fec13a 386.5px,#f5ed17 389.5px,#f9fb0e 390.5px,#f9fb0e 399.5px,#f7f511 400.5px,#f7d925 402.5px,#fdbe3e 404.5px,#eab94e 405.5px,#9ebe6d 408.5px,#3dba9b 411.5px,#23b5ab 412.5px,#10afb8 413.5px,#09abbf 414.5px,#0899d1 448.5px,#1482d5 455.5px,#0871de 467.5px,#0265e1 488.5px,#1d54d5 595.5px,#1f53d4 606.5px)"></i>
<i style="top:76px;background:linear-gradient(90deg,#0268e1 0.5px,#066edf 110.5px,#1481d5 130.5px,#0c93d2 142.5px,#1389d3 143.5px,#0e5cde 144.5px,#1f53d4 148.5px,#264ecc 163.5px,#2f47bf 188.5px,#3639a6 213.5px,#353eae 226.5px,#294dca 240.5px,#0d5dde 254.5px,#0363e1 268.5px,#0561e0 320.5px,#1857d8 332.5px,#2251d1 340.5px,#1956d8 347.5px,#0364e1 355.5px,#0d76dc 377.5px,#127cd8 379.5px,#1484d4 380.5px,#0f90d2 381.5px,#06a4ca 382.5px,#06a5c8 383.5px,#0cadbb 384.5px,#21b4ac 385.5px,#3fba9a 386.5px,#89bf76 388.5px,#c7bc5d 390.5px,#f9bb43 392.5px,#fec832 393.5px,#f5e51c 395.5px,#f7f511 396.5px,#f9fb0e 398.5px,#f9fb0e 406.5px,#f7f611 407.5px,#f7d925 409.5px,#fdbe3e 411.5px,#eab94d 412.5px,#a0be6d 415.5px,#3fba99 418.5px,#25b5a9 419.5px,#11afb7 420.5px,#09acbe 421.5px,#079ecf 448.5px,#1481d5 456.5px,#066fdf 471.5px,#0364e1 494.5px,#1e54d5 606.5px)"></i>
<i style="top:77px;background:linear-gradient(90deg,#0269e1 0.5px,#066edf 110.5px,#1482d5 130.5px,#0c94d2 142.5px,#1389d3 143.5px,#0e5cde 144.5px,#1f53d4 148.5px,#274ecc 163.5px,#2f47c0 187.5px,#3638a4 212.5px,#353cab 225.5px,#2a4cc9 240.5px,#0d5dde 254.5px,#0363e1 269.5px,#0661e0 319.5px,#1857d8 330.5px,#274ecc 339.5px,#2152d3 347.5px,#0363e1 356.5px,#0b73dd 376.5px,#1079da 385.5px,#128bd3 387.5px,#0a97d1 388.5px,#06a5c9 389.5px,#07aac1 390.5px,#16b1b3 391.5px,#30b7a3 392.5px,#9bbf6f 395.5px,#edb94c 398.5px,#fec13a 399.5px,#f5ed17 402.5px,#f9fb0e 403.5px,#f9fb0e 413.5px,#f8f710 414.5px,#f7d925 416.5px,#fdbe3d 418.5px,#ebb94d 419.5px,#a1be6c 422.5px,#41ba99 425.5px,#26b5a9 426.5px,#13b0b6 427.5px,#0aacbd 428.5px,#06a3cb 448.5px,#0b96d1 452.5px,#1484d4 456.5px,#0a73dd 468.5px,#0266e1 489.5px,#1d54d5 606.5px)"></i>
<i style="top:78px;background:linear-gradient(90deg,#0269e1 0.5px,#066fdf 110.5px,#1482d5 130.5px,#0c94d2 142.5px,#1389d3 143.5px,#0e5cde 144.5px,#1f53d4 148.5px,#274ecc 163.5px,#2f46bf 187.5px,#3638a2 212.5px,#353aa8 224.5px,#2c4ac6 239.5px,#0f5cdd 253.5px,#0363e1 268.5px,#0661e0 318.5px,#1757d9 328.5px,#2b4bc7 338.5px,#294cc9 345.5px,#1a56d7 351.5px,#0363e1 357.5px,#0a72de 376.5px,#0e77db 391.5px,#1486d3 393.5px,#079dcf 395.5px,#06a6c6 396.5px,#0eaeba 397.5px,#23b5ab 398.5px,#41ba99 399.5px,#8abf76 401.5px,#c7bc5d 403.5px,#f8bb44 405.5px,#fec833 406.5px,#f5e51c 408.5px,#f7f611 409.5px,#f9fb0e 411.5px,#f8f710 421.5px,#f7d925 423.5px,#fdbe3d 425.5px,#ebb94d 426.5px,#89bf76 430.5px,#4dbc92 432.5px,#20b4ad 434.5px,#17b1b3 435.5px,#15b1b4 442.5px,#06a8c5 449.5px,#0997d1 453.5px,#1483d4 457.5px,#0a72de 471.5px,#0266e1 493.5px,#1c55d6 606.5px)"></i>
<i style="top:79px;background:linear-gradient(90deg,#0269e1 0.5px,#066fdf 110.5px,#1482d5 130.5px,#0c94d2 142.5px,#1389d3 143.5px,#0e5cde 144.5px,#1f53d4 148.5px,#274ecc 163.5px,#2f47c0 186.5px,#3637a0 212.5px,#363aa6 224.5px,#2b4bc7 240.5px,#105cdd 253.5px,#0363e1 268.5px,#0561e0 317.5px,#1857d9 327.5px,#2d49c3 337.5px,#2e48c2 344.5px,#2053d4 351.5px,#0363e1 358.5px,#0871de 376.5px,#0e77db 397.5px,#1483d5 399.5px,#0899d1 401.5px,#06a6c7 402.5px,#08abc0 403.5px,#19b2b2 404.5px,#32b8a1 405.5px,#9bbf6f 408.5px,#edb94c 411.5px,#fec03a 412.5px,#f5ed17 415.5px,#f9fb0e 416.5px,#f8f810 428.5px,#f6dd22 430.5px,#fec634 432.5px,#fbbd40 433.5px,#cfbb5a 436.5px,#8abf76 440.5px,#74bf7f 441.5px,#65be86 442.5px,#45bb96 446.5px,#0aacbe 451.5px,#079cd0 454.5px,#1484d4 458.5px,#0b73dd 472.5px,#0266e1 493.5px,#1b55d6 606.5px)"></i>
<i style="top:80px;background:linear-gradient(90deg,#0269e1 0.5px,#066fdf 110.5px,#1482d5 130.5px,#0c94d2 142.5px,#1389d3 143.5px,#0e5cde 144.5px,#2053d4 148.5px,#274ecc 163.5px,#2f46bf 186.5px,#36369f 212.5px,#3639a4 224.5px,#2c4ac6 240.5px,#105bdd 253.5px,#0363e1 268.5px,#0661e0 317.5px,#1757d9 326.5px,#2e48c3 335.5px,#3144bb 342.5px,#2a4bc8 349.5px,#0a5fdf 357.5px,#0266e1 361.5px,#0971de 381.5px,#0f78db 404.5px,#1388d3 406.5px,#069fce 408.5px,#06a7c5 409.5px,#10afb8 410.5px,#25b5a9 411.5px,#43bb97 412.5px,#8bbf75 414.5px,#e1ba52 417.5px,#f8bb44 418.5px,#fec832 419.5px,#f5e61c 421.5px,#f8f710 422.5px,#f9fb0e 427.5px,#f9fb0e 437.5px,#f6dd22 441.5px,#fec139 444.5px,#f4ba47 445.5px,#e0ba53 446.5px,#c6bc5e 447.5px,#a1be6c 448.5px,#6dbf82 450.5px,#2fb7a3 452.5px,#18b1b2 453.5px,#09abbf 454.5px,#079cd0 456.5px,#1487d3 459.5px,#1079da 467.5px,#0267e1 492.5px,#0a5edf 534.5px,#1a56d7 606.5px)"></i>
<i style="top:81px;background:linear-gradient(90deg,#0269e1 0.5px,#066fdf 110.5px,#1482d5 130.5px,#0c94d2 142.5px,#1389d3 143.5px,#0e5cde 144.5px,#2053d4 148.5px,#274ecc 163.5px,#2f47c0 185.5px,#36359d 212.5px,#3638a3 224.5px,#2c4ac5 240.5px,#115bdd 253.5px,#0363e1 267.5px,#0661e0 316.5px,#1758d9 325.5px,#2e48c1 334.5px,#3342b6 341.5px,#2e47c1 348.5px,#1c55d6 354.5px,#0363e1 360.5px,#0770df 377.5px,#0f77db 410.5px,#1484d4 412.5px,#089bd0 414.5px,#09acbe 416.5px,#1cb3af 417.5px,#38b99e 418.5px,#85bf78 420.5px,#c8bc5d 422.5px,#e5b950 423.5px,#fdbe3e 424.5px,#f5e020 426.5px,#f6f214 427.5px,#f9fb0e 428.5px,#f9fb0e 447.5px,#f5ea19 448.5px,#f9d528 449.5px,#fcbd3f 450.5px,#d3bb58 451.5px,#87bf77 453.5px,#2db7a4 455.5px,#11afb8 456.5px,#06a7c6 457.5px,#0c94d2 459.5px,#1483d5 462.5px,#036be1 487.5px,#0760e0 527.5px,#1a56d7 606.5px)"></i>
<i style="top:82px;background:linear-gradient(90deg,#0269e1 0.5px,#066fdf 110.5px,#1482d5 130.5px,#0c94d2 142.5px,#1389d3 143.5px,#0e5cde 144.5px,#2053d4 148.5px,#274ecc 163.5px,#2f46bf 185.5px,#36349c 212.5px,#3637a1 224.5px,#2d49c4 240.5px,#115bdc 253.5px,#0363e1 267.5px,#0661e0 316.5px,#1956d8 325.5px,#3046be 334.5px,#343fb2 341.5px,#3145bc 348.5px,#2053d4 354.5px,#0760e0 359.5px,#0269e1 365.5px,#1079da 417.5px,#128ad3 419.5px,#06a0cd 421.5px,#3cba9b 422.5px,#76bf7e 423.5px,#abbe69 424.5px,#d6ba57 425.5px,#fbbc41 426.5px,#fad22a 427.5px,#f5e71b 428.5px,#f9fb0e 429.5px,#f9fb0e 450.5px,#f8f611 451.5px,#f7da25 452.5px,#fcbd3f 453.5px,#d8ba56 454.5px,#adbe68 455.5px,#79bf7d 456.5px,#40ba99 457.5px,#19b2b2 458.5px,#07a9c3 459.5px,#06a0cd 460.5px,#1487d3 463.5px,#127cd8 470.5px,#0268e1 494.5px,#095fdf 535.5px,#1956d8 606.5px)"></i>
<i style="top:83px;background:linear-gradient(90deg,#0269e1 0.5px,#066fdf 110.5px,#1482d5 130.5px,#0c94d2 142.5px,#1389d3 143.5px,#0e5cde 144.5px,#2053d4 148.5px,#274ecc 164.5px,#3046be 186.5px,#36349a 212.5px,#3637a0 224.5px,#2d49c3 240.5px,#115bdc 253.5px,#0363e1 267.5px,#0661e0 315.5px,#1757d9 324.5px,#3046be 333.5px,#353eae 340.5px,#3440b3 346.5px,#264ecc 353.5px,#095fdf 359.5px,#0266e1 363.5px,#0770df 383.5px,#117ada 423.5px,#1486d4 425.5px,#079cd0 427.5px,#06a5c8 428.5px,#f9fb0e 429.5px,#f9fb0e 453.5px,#f5e51d 454.5px,#fdcb30 455.5px,#ebb94d 456.5px,#bcbd62 457.5px,#84bf78 458.5px,#45bb96 459.5px,#1ab2b1 460.5px,#06a8c3 461.5px,#069fce 462.5px,#1487d3 465.5px,#0a73dd 481.5px,#0268e1 496.5px,#095fdf 536.5px,#1857d8 606.5px)"></i>
<i style="top:84px;background:linear-gradient(90deg,#0269e1 0.5px,#066fdf 110.5px,#1482d5 130.5px,#0c94d2 142.5px,#1389d3 143.5px,#0e5cde 144.5px,#2053d4 148.5px,#274ecc 164.5px,#2f46bf 185.5px,#363399 212.5px,#36359d 223.5px,#2f47c0 239.5px,#1459db 252.5px,#0462e1 265.5px,#0661e0 315.5px,#1658da 323.5px,#3046bf 332.5px,#353cab 340.5px,#343eb0 346.5px,#294cca 353.5px,#0b5edf 359.5px,#0265e1 363.5px,#066fdf 382.5px,#0f78db 423.5px,#1485d4 431.5px,#06a1cc 434.5px,#07a9c3 435.5px,#f9fb0e 436.5px,#f9fb0e 455.5px,#f5e51c 456.5px,#fdcb30 457.5px,#e6b94f 458.5px,#b3bd65 459.5px,#76bf7e 460.5px,#37b99e 461.5px,#10afb8 462.5px,#06a5c8 463.5px,#079bd0 464.5px,#1487d3 467.5px,#0c75dc 481.5px,#0268e1 495.5px,#0860df 536.5px,#1857d8 606.5px)"></i>
<i style="top:85px;background:linear-gradient(90deg,#0269e1 0.5px,#066fdf 110.5px,#1482d5 130.5px,#0c94d2 142.5px,#1389d3 143.5px,#0e5cde 144.5px,#2053d4 148.5px,#274ecc 164.5px,#3046be 185.5px,#363398 212.5px,#36359c 223.5px,#2f47c0 239.5px,#1459da 252.5px,#0462e1 265.5px,#0562e0 314.5px,#1758d9 323.5px,#3145bc 332.5px,#353aa8 340.5px,#353dad 346.5px,#2b4bc8 353.5px,#0d5dde 359.5px,#0265e1 363.5px,#066fdf 381.5px,#0e77db 423.5px,#1388d3 434.5px,#0d92d2 439.5px,#06a5c8 441.5px,#f9fb0e 442.5px,#f9fb0e 456.5px,#f6ef16 457.5px,#f8d727 458.5px,#fabc41 459.5px,#cbbb5c 460.5px,#91bf73 461.5px,#4dbc92 462.5px,#1cb3b0 463.5px,#07a9c3 464.5px,#069fce 465.5px,#138ad3 468.5px,#0f78db 480.5px,#0269e1 494.5px,#0760e0 535.5px,#1757d9 606.5px)"></i>
<i style="top:86px;background:linear-gradient(90deg,#0269e1 0.5px,#066fdf 110.5px,#1482d5 130.5px,#0c94d2 142.5px,#1389d3 143.5px,#0e5cde 144.5px,#2053d4 148.5px,#274ecc 164.5px,#3046be 185.5px,#363297 212.5px,#36349c 223.5px,#2f46bf 239.5px,#1459da 252.5px,#0462e0 265.5px,#0561e0 314.5px,#1459da 322.5px,#2e48c2 330.5px,#363aa7 339.5px,#353ba8 345.5px,#2c4ac6 353.5px,#0e5dde 359.5px,#0364e1 363.5px,#066edf 380.5px,#0d76dc 423.5px,#1388d3 435.5px,#079dcf 446.5px,#f9fb0e 447.5px,#f8f80f 456.5px,#f5e81a 458.5px,#f8d627 459.5px,#fdbd3e 460.5px,#d0bb59 461.5px,#97bf70 462.5px,#54bd8e 463.5px,#20b4ad 464.5px,#07aac1 465.5px,#06a1cd 466.5px,#118dd2 469.5px,#127cd9 479.5px,#026ae1 494.5px,#0760e0 536.5px,#1758d9 606.5px)"></i>
<i style="top:87px;background:linear-gradient(90deg,#0269e1 0.5px,#066fdf 110.5px,#1482d5 130.5px,#0c94d2 142.5px,#1389d3 143.5px,#0e5cde 144.5px,#2053d4 148.5px,#274ecc 164.5px,#3046be 185.5px,#363297 212.5px,#36349b 223.5px,#2f46bf 239.5px,#1559da 252.5px,#0462e0 265.5px,#0561e0 314.5px,#1559da 322.5px,#2e48c1 330.5px,#3639a5 339.5px,#363aa6 345.5px,#2f46bf 352.5px,#1b56d7 357.5px,#0363e1 362.5px,#056ee0 378.5px,#0d75dc 423.5px,#1487d3 435.5px,#079bd0 446.5px,#f9fb0e 447.5px,#f9f90f 455.5px,#f6db23 459.5px,#fccd2e 460.5px,#f4ba47 461.5px,#c6bc5e 462.5px,#8dbf75 463.5px,#4abc94 464.5px,#1bb2b0 465.5px,#07a9c3 466.5px,#06a0cd 467.5px,#108ed2 470.5px,#137dd7 479.5px,#036ae1 494.5px,#0760e0 536.5px,#1658d9 606.5px)"></i>
<i style="top:88px;background:linear-gradient(90deg,#0269e1 0.5px,#066fdf 110.5px,#1482d5 130.5px,#0c94d2 142.5px,#1389d3 143.5px,#0e5cde 144.5px,#2053d4 148.5px,#274ecc 164.5px,#3046be 185.5px,#363296 212.5px,#36349a 223.5px,#3046be 239.5px,#1559da 252.5px,#0462e0 265.5px,#0661e0 314.5px,#1658da 322.5px,#2f47c0 330.5px,#3638a4 339.5px,#3639a5 345.5px,#3046be 352.5px,#1c55d6 357.5px,#0462e1 362.5px,#056de0 377.5px,#0c74dd 423.5px,#1487d3 436.5px,#079bd0 446.5px,#f9fb0e 447.5px,#f9fb0e 454.5px,#f6dc23 458.5px,#fcce2d 460.5px,#fec03b 461.5px,#dfba53 462.5px,#afbe67 463.5px,#73bf7f 464.5px,#36b89f 465.5px,#11afb7 466.5px,#06a7c6 467.5px,#0998d1 469.5px,#1487d3 475.5px,#0c74dd 485.5px,#0269e1 497.5px,#0760e0 538.5px,#1658d9 606.5px)"></i>
<i style="top:89px;background:linear-gradient(90deg,#0269e1 0.5px,#066fdf 110.5px,#1482d5 130.5px,#0c94d2 142.5px,#1389d3 143.5px,#0e5cde 144.5px,#2053d4 148.5px,#274ecc 164.5px,#3046be 185.5px,#363296 212.5px,#36349a 223.5px,#3046be 239.5px,#1559da 252.5px,#0562e0 265.5px,#0661e0 314.5px,#1658da 322.5px,#2f47c0 330.5px,#3638a3 339.5px,#3639a4 345.5px,#3046be 352.5px,#1c55d6 357.5px,#0462e1 362.5px,#056de0 377.5px,#0b74dd 423.5px,#1486d4 436.5px,#079bd0 446.5px,#f9fb0e 447.5px,#f8f80f 454.5px,#f5df21 457.5px,#fec13a 461.5px,#eab94d 462.5px,#c2bc5f 463.5px,#8dbf74 464.5px,#4ebc91 465.5px,#1fb3ad 466.5px,#08abc0 467.5px,#079dcf 469.5px,#1389d3 475.5px,#1079da 483.5px,#036ae1 495.5px,#0760e0 538.5px,#1658da 606.5px)"></i>
<i style="top:90px;background:linear-gradient(90deg,#0269e1 0.5px,#066fdf 110.5px,#1482d5 130.5px,#0c94d2 142.5px,#1389d3 143.5px,#0e5cde 144.5px,#2053d4 148.5px,#274ecc 164.5px,#3046be 185.5px,#363196 212.5px,#36349a 223.5px,#3046be 239.5px,#1559da 252.5px,#0562e0 265.5px,#0661e0 314.5px,#1658da 322.5px,#2f47c0 330.5px,#3638a3 339.5px,#3639a4 345.5px,#3046be 352.5px,#1c55d6 357.5px,#0462e1 362.5px,#056de0 377.5px,#0b73dd 423.5px,#1485d4 436.5px,#0998d1 445.5px,#079bd0 446.5px,#f9fb0e 447.5px,#f9fb0e 453.5px,#f6dc23 457.5px,#fdbe3d 461.5px,#edb94c 462.5px,#cabb5c 463.5px,#9bbf6f 464.5px,#5ebe89 465.5px,#2ab6a6 466.5px,#0dadbb 467.5px,#06a6c7 468.5px,#089ad0 470.5px,#1484d4 478.5px,#046ce0 492.5px,#0661e0 536.5px,#1658da 606.5px)"></i>
<i style="top:91px;height:2px;background:linear-gradient(90deg,#0269e1 0.5px,#066fdf 110.5px,#1482d5 130.5px,#0c94d2 142.5px,#1389d3 143.5px,#0e5cde 144.5px,#2053d4 148.5px,#274ecc 164.5px,#3046be 185.5px,#363296 212.5px,#36349a 223.5px,#3046be 239.5px,#1559da 252.5px,#0562e0 265.5px,#0661e0 314.5px,#1558da 322.5px,#2e47c1 330.5px,#3639a4 339.5px,#3639a5 345.5px,#3046be 352.5px,#1c55d6 357.5px,#0462e1 362.5px,#056de0 377.5px,#0b73dd 423.5px,#1485d4 436.5px,#0b95d2 444.5px,#079bd0 446.5px,#f9fb0e 447.5px,#f9fb0e 453.5px,#f7db24 457.5px,#ffc337 460.5px,#fbbd40 461.5px,#edb94c 462.5px,#cdbb5b 463.5px,#a0be6d 464.5px,#66be85 465.5px,#30b7a3 466.5px,#10afb8 467.5px,#06a7c5 468.5px,#079bd0 470.5px,#1485d4 478.5px,#046ce0 492.5px,#0661e0 536.5px,#1658da 606.5px)"></i>
<i style="top:93px;background:linear-gradient(90deg,#0269e1 0.5px,#066fdf 110.5px,#1482d5 130.5px,#0c94d2 142.5px,#1389d3 143.5px,#0e5cde 144.5px,#2053d4 148.5px,#274ecc 164.5px,#3046be 185.5px,#363296 212.5px,#36349a 223.5px,#3046be 239.5px,#1559da 252.5px,#0462e0 265.5px,#0561e0 314.5px,#1559da 322.5px,#2e48c2 330.5px,#363aa6 339.5px,#353aa8 345.5px,#2c4ac5 353.5px,#0e5cde 359.5px,#0364e1 363.5px,#056ee0 380.5px,#0b73dd 423.5px,#1485d4 436.5px,#0998d1 445.5px,#079bd0 446.5px,#f9fb0e 447.5px,#f9fb0e 453.5px,#f6dc23 457.5px,#fdbe3d 461.5px,#edb94c 462.5px,#cabb5c 463.5px,#9bbf6f 464.5px,#5ebe89 465.5px,#2ab6a6 466.5px,#0dadbb 467.5px,#06a6c7 468.5px,#089ad0 470.5px,#1484d4 478.5px,#046ce0 492.5px,#0661e0 536.5px,#1658da 606.5px)"></i>
<i style="top:94px;background:linear-gradient(90deg,#0269e1 0.5px,#066fdf 110.5px,#1482d5 130.5px,#0c94d2 142.5px,#1389d3 143.5px,#0e5cde 144.5px,#2053d4 148.5px,#274ecc 164.5px,#3046be 185.5px,#363297 212.5px,#36349b 223.5px,#2f46bf 239.5px,#1559da 252.5px,#0462e0 265.5px,#0561e0 314.5px,#1459db 322.5px,#2d49c4 330.5px,#353ba9 339.5px,#353baa 345.5px,#2b4ac7 353.5px,#0d5dde 359.5px,#0364e1 363.5px,#056ee0 381.5px,#0b74dd 423.5px,#1486d4 436.5px,#079bd0 446.5px,#f9fb0e 447.5px,#f8f80f 454.5px,#f5df21 457.5px,#fec13a 461.5px,#eab94d 462.5px,#c2bc5f 463.5px,#8dbf74 464.5px,#4ebc91 465.5px,#1fb4ad 466.5px,#08abc0 467.5px,#079dcf 469.5px,#1389d3 475.5px,#1079da 483.5px,#036ae1 495.5px,#0761e0 537.5px,#1658da 606.5px)"></i>
<i style="top:95px;background:linear-gradient(90deg,#0269e1 0.5px,#066fdf 110.5px,#1482d5 130.5px,#0c94d2 142.5px,#1389d3 143.5px,#0e5cde 144.5px,#2053d4 148.5px,#274ecc 164.5px,#3046be 185.5px,#363297 212.5px,#36349c 223.5px,#2f46bf 239.5px,#1459da 252.5px,#0462e0 265.5px,#0661e0 315.5px,#1658d9 323.5px,#3046be 332.5px,#353caa 340.5px,#353eaf 346.5px,#2a4cc9 353.5px,#0c5dde 359.5px,#0265e1 363.5px,#056ee0 381.5px,#0c74dd 423.5px,#1487d3 436.5px,#079bd0 446.5px,#f9fb0e 447.5px,#f9fb0e 454.5px,#f6dc23 458.5px,#fcce2d 460.5px,#fec03b 461.5px,#dfba53 462.5px,#afbe67 463.5px,#73bf7f 464.5px,#36b89f 465.5px,#11afb7 466.5px,#06a7c6 467.5px,#0998d1 469.5px,#1487d3 475.5px,#0c74dd 485.5px,#0269e1 497.5px,#0860e0 539.5px,#1658d9 606.5px)"></i>
<i style="top:96px;background:linear-gradient(90deg,#0269e1 0.5px,#066fdf 110.5px,#1482d5 130.5px,#0c94d2 142.5px,#1389d3 143.5px,#0e5cde 144.5px,#2053d4 148.5px,#274ecc 164.5px,#3046be 185.5px,#363398 212.5px,#36359c 223.5px,#2f47c0 239.5px,#1459da 252.5px,#0462e1 265.5px,#0661e0 315.5px,#1857d8 324.5px,#3045bd 333.5px,#353dad 340.5px,#3440b2 346.5px,#274dcb 353.5px,#0b5edf 359.5px,#0265e1 363.5px,#066edf 382.5px,#0d75dc 423.5px,#1487d3 435.5px,#079bd0 446.5px,#f9fb0e 447.5px,#f9f90f 455.5px,#f6db23 459.5px,#fccd2e 460.5px,#f4ba47 461.5px,#c6bc5e 462.5px,#8dbf75 463.5px,#4abc93 464.5px,#1bb2b0 465.5px,#07a9c3 466.5px,#06a0cd 467.5px,#108fd2 470.5px,#137ed7 479.5px,#036ae1 494.5px,#0761e0 536.5px,#1658d9 606.5px)"></i>
<i style="top:97px;background:linear-gradient(90deg,#0269e1 0.5px,#066fdf 110.5px,#1482d5 130.5px,#0c94d2 142.5px,#1389d3 143.5px,#0e5cde 144.5px,#2053d4 148.5px,#274ecc 164.5px,#2f46bf 185.5px,#363399 212.5px,#36359d 223.5px,#2f47c0 239.5px,#1459db 252.5px,#0462e1 265.5px,#0661e0 315.5px,#1658d9 324.5px,#2f47c0 333.5px,#343fb1 341.5px,#3144bb 348.5px,#2152d2 354.5px,#0661e0 360.5px,#036be0 369.5px,#0d76dc 423.5px,#1388d3 435.5px,#079dcf 446.5px,#f9fb0e 447.5px,#f8f80f 456.5px,#f5e81a 458.5px,#f8d627 459.5px,#fdbd3e 460.5px,#d0bb59 461.5px,#98bf70 462.5px,#54bd8e 463.5px,#20b4ad 464.5px,#07aac1 465.5px,#06a1cd 466.5px,#118dd2 469.5px,#127cd9 479.5px,#026ae1 494.5px,#0760e0 536.5px,#1758d9 606.5px)"></i>
<i style="top:98px;background:linear-gradient(90deg,#0269e1 0.5px,#066fdf 110.5px,#1482d5 130.5px,#0c94d2 142.5px,#1389d3 143.5px,#0e5cde 144.5px,#2053d4 148.5px,#274ecc 164.5px,#3046be 186.5px,#36349a 212.5px,#3637a0 224.5px,#2d49c3 240.5px,#115bdc 253.5px,#0363e1 267.5px,#0661e0 316.5px,#1857d8 325.5px,#2f47c0 334.5px,#3341b5 341.5px,#2f46bf 348.5px,#1e54d5 354.5px,#0462e1 360.5px,#056ee0 376.5px,#0e77db 423.5px,#1388d3 434.5px,#0d92d2 439.5px,#06a5c8 441.5px,#f9fb0e 442.5px,#f9fb0e 456.5px,#f6ef16 457.5px,#f8d727 458.5px,#fbbc41 459.5px,#cbbb5c 460.5px,#91bf73 461.5px,#4dbc92 462.5px,#1cb3b0 463.5px,#07a9c3 464.5px,#069fce 465.5px,#138ad3 468.5px,#0f78db 480.5px,#0269e1 494.5px,#0860e0 536.5px,#1757d9 606.5px)"></i>
<i style="top:99px;background:linear-gradient(90deg,#0268e1 0.5px,#066edf 110.5px,#1482d5 130.5px,#0c94d2 142.5px,#1389d3 143.5px,#0e5cde 144.5px,#2053d4 148.5px,#274ecc 163.5px,#2f46bf 185.5px,#36349c 212.5px,#3637a1 224.5px,#2d49c4 240.5px,#115bdc 253.5px,#0363e1 267.5px,#0661e0 316.5px,#1957d8 326.5px,#2e48c1 335.5px,#3243b9 342.5px,#2c4ac6 349.5px,#1558da 355.5px,#0363e1 360.5px,#066edf 378.5px,#0f78db 423.5px,#1485d4 431.5px,#06a1cc 434.5px,#07a9c3 435.5px,#f9fb0e 436.5px,#f9fb0e 455.5px,#f5e51c 456.5px,#fdcb30 457.5px,#e6b94f 458.5px,#b3bd65 459.5px,#76bf7e 460.5px,#37b99e 461.5px,#11afb8 462.5px,#06a5c8 463.5px,#079bd0 464.5px,#1487d3 467.5px,#0d75dc 481.5px,#0269e1 495.5px,#0860df 536.5px,#1757d9 606.5px)"></i>
<i style="top:100px;background:linear-gradient(90deg,#0268e1 0.5px,#066edf 110.5px,#1482d5 130.5px,#0c94d2 142.5px,#1389d3 143.5px,#0e5cde 144.5px,#2053d4 148.5px,#274ecc 163.5px,#2f47c0 185.5px,#36359d 212.5px,#3638a3 224.5px,#2c4ac5 240.5px,#115bdd 253.5px,#0363e1 267.5px,#0561e0 316.5px,#1658d9 326.5px,#2d49c3 336.5px,#3046bf 343.5px,#264fcd 350.5px,#0a5fdf 357.5px,#0265e1 361.5px,#076fdf 381.5px,#117ada 423.5px,#1486d4 425.5px,#079cd0 427.5px,#06a5c8 428.5px,#f9fb0e 429.5px,#f9fb0e 453.5px,#f5e51d 454.5px,#fdcb30 455.5px,#ebb94d 456.5px,#bcbd62 457.5px,#84bf78 458.5px,#46bb96 459.5px,#1ab2b1 460.5px,#07a9c3 461.5px,#069fce 462.5px,#1487d3 465.5px,#0b73dd 481.5px,#0267e1 497.5px,#095fdf 537.5px,#1857d8 606.5px)"></i>
<i style="top:101px;background:linear-gradient(90deg,#0268e1 0.5px,#066edf 110.5px,#1482d5 130.5px,#0c94d2 142.5px,#1389d3 143.5px,#0e5cde 144.5px,#2053d4 148.5px,#274ecc 163.5px,#2f46bf 186.5px,#36369f 212.5px,#3639a4 224.5px,#2c4ac6 240.5px,#105bdd 253.5px,#0363e1 268.5px,#0661e0 317.5px,#1658d9 327.5px,#2c4ac6 337.5px,#2d49c4 344.5px,#1f53d4 351.5px,#0462e1 358.5px,#056ee0 371.5px,#1079da 417.5px,#128ad3 419.5px,#06a0cd 421.5px,#3dba9b 422.5px,#76bf7e 423.5px,#abbe69 424.5px,#d6ba57 425.5px,#fbbc41 426.5px,#fad22a 427.5px,#f5e71b 428.5px,#f9fb0e 429.5px,#f9fb0e 450.5px,#f8f611 451.5px,#f7da25 452.5px,#fcbd3f 453.5px,#d8ba56 454.5px,#adbe68 455.5px,#7abf7d 456.5px,#41ba99 457.5px,#19b2b2 458.5px,#07a9c3 459.5px,#06a0cd 460.5px,#1487d3 463.5px,#127cd8 470.5px,#0268e1 494.5px,#095fdf 535.5px,#1957d8 606.5px)"></i>
<i style="top:102px;background:linear-gradient(90deg,#0268e1 0.5px,#066ee0 110.5px,#1481d5 130.5px,#0c94d2 142.5px,#1389d3 143.5px,#0e5cde 144.5px,#1f53d4 148.5px,#274ecc 163.5px,#2f47c0 186.5px,#3637a0 212.5px,#363aa6 224.5px,#2b4ac7 240.5px,#105bdd 253.5px,#0363e1 268.5px,#0661e0 318.5px,#1957d8 329.5px,#2a4cc8 339.5px,#254fce 347.5px,#0562e0 357.5px,#046de0 368.5px,#0f77db 410.5px,#1484d4 412.5px,#089bd0 414.5px,#09acbe 416.5px,#1cb3af 417.5px,#38b99e 418.5px,#85bf78 420.5px,#c8bc5d 422.5px,#e5b950 423.5px,#fdbe3e 424.5px,#f5e020 426.5px,#f6f214 427.5px,#f9fb0e 428.5px,#f9fb0e 447.5px,#f5ea19 448.5px,#f9d528 449.5px,#fcbd3f 450.5px,#d3bb58 451.5px,#87bf77 453.5px,#2eb7a4 455.5px,#11afb7 456.5px,#06a7c6 457.5px,#0b95d2 459.5px,#1484d4 462.5px,#036be0 487.5px,#0760e0 528.5px,#1956d8 606.5px)"></i>
<i style="top:103px;background:linear-gradient(90deg,#0268e1 0.5px,#056ee0 110.5px,#1481d5 130.5px,#0c94d2 142.5px,#1389d3 143.5px,#0e5cde 144.5px,#1f53d4 148.5px,#274ecc 163.5px,#2f46bf 187.5px,#3638a2 212.5px,#353aa8 224.5px,#2b4bc8 240.5px,#0f5cdd 253.5px,#0363e1 268.5px,#0661e0 319.5px,#1857d9 330.5px,#264fcd 339.5px,#2052d3 347.5px,#0363e1 357.5px,#0871de 378.5px,#0f78db 404.5px,#1388d3 406.5px,#069fce 408.5px,#06a7c5 409.5px,#10afb8 410.5px,#25b5a9 411.5px,#43bb97 412.5px,#8bbf75 414.5px,#e1ba52 417.5px,#f8bb44 418.5px,#fec832 419.5px,#f5e61c 421.5px,#f8f710 422.5px,#f9fb0e 427.5px,#f9fb0e 437.5px,#f6dd22 441.5px,#fec139 444.5px,#f4ba47 445.5px,#e0ba53 446.5px,#c6bc5e 447.5px,#a2be6c 448.5px,#6ebf82 450.5px,#30b7a2 452.5px,#19b2b2 453.5px,#09abbf 454.5px,#079ccf 456.5px,#1487d3 459.5px,#117ada 467.5px,#0268e1 492.5px,#0a5fdf 534.5px,#1a56d7 606.5px)"></i>
<i style="top:104px;background:linear-gradient(90deg,#0268e1 0.5px,#056ee0 110.5px,#1481d5 130.5px,#0c94d2 142.5px,#1389d3 143.5px,#0e5cde 144.5px,#1f53d4 148.5px,#274ecc 163.5px,#2f47c0 187.5px,#3638a4 212.5px,#353cab 225.5px,#2a4cc9 240.5px,#0d5dde 254.5px,#0363e1 269.5px,#0561e0 319.5px,#1857d8 332.5px,#2152d2 341.5px,#1757d9 348.5px,#0364e1 356.5px,#0972de 378.5px,#0e77db 397.5px,#1483d5 399.5px,#0899d1 401.5px,#06a7c6 402.5px,#08abc0 403.5px,#19b2b2 404.5px,#32b8a1 405.5px,#9bbf6f 408.5px,#edb94c 411.5px,#fec03a 412.5px,#f5ed17 415.5px,#f9fb0e 416.5px,#f8f810 428.5px,#f6dd22 430.5px,#fec634 432.5px,#fbbd40 433.5px,#cfbb5a 436.5px,#8abf76 440.5px,#74bf7f 441.5px,#65be85 442.5px,#46bb96 446.5px,#0aacbd 451.5px,#06a2cb 453.5px,#1484d4 458.5px,#0b74dd 472.5px,#0267e1 493.5px,#0b5edf 534.5px,#1b55d7 606.5px)"></i>
<i style="top:105px;background:linear-gradient(90deg,#0267e1 0.5px,#056ee0 110.5px,#1481d6 130.5px,#0c93d2 142.5px,#1389d3 143.5px,#0e5cde 144.5px,#1f53d4 148.5px,#264ecc 163.5px,#2f47bf 188.5px,#3639a5 213.5px,#353eae 226.5px,#294cca 240.5px,#0d5dde 254.5px,#0363e1 269.5px,#0661e0 321.5px,#1b55d6 341.5px,#0a5fdf 351.5px,#0266e1 357.5px,#0d75dc 385.5px,#0e77db 391.5px,#1486d3 393.5px,#079dcf 395.5px,#06a6c6 396.5px,#0eaeba 397.5px,#23b5ab 398.5px,#41ba99 399.5px,#8abf76 401.5px,#c7bc5d 403.5px,#f8bb44 405.5px,#fec833 406.5px,#f5e51c 408.5px,#f7f611 409.5px,#f9fb0e 411.5px,#f8f710 421.5px,#f7d925 423.5px,#fdbe3d 425.5px,#ebb94d 426.5px,#89bf76 430.5px,#4dbc92 432.5px,#20b4ad 434.5px,#18b1b2 435.5px,#16b1b4 442.5px,#06a8c4 449.5px,#0998d1 453.5px,#1484d4 457.5px,#0a73de 471.5px,#0266e1 493.5px,#0d5dde 539.5px,#1c55d6 606.5px)"></i>
<i style="top:106px;background:linear-gradient(90deg,#0267e1 0.5px,#056ee0 110.5px,#1481d6 130.5px,#0c93d2 142.5px,#1389d3 143.5px,#0e5cde 144.5px,#1f53d4 148.5px,#264ecc 163.5px,#2f46bf 189.5px,#353aa8 213.5px,#343fb0 226.5px,#264ecd 241.5px,#0b5ede 255.5px,#0363e1 270.5px,#0661e0 323.5px,#1559da 341.5px,#0265e1 354.5px,#0d75dc 381.5px,#1079da 385.5px,#128bd3 387.5px,#0a97d1 388.5px,#06a5c8 389.5px,#07aac1 390.5px,#16b1b3 391.5px,#30b7a3 392.5px,#9bbf6f 395.5px,#edb94c 398.5px,#fec13a 399.5px,#f5ed17 402.5px,#f9fb0e 403.5px,#f9fb0e 413.5px,#f8f710 414.5px,#f7d925 416.5px,#fdbe3d 418.5px,#ebb94d 419.5px,#a1be6c 422.5px,#41ba99 425.5px,#26b5a9 426.5px,#13b0b6 427.5px,#0bacbd 428.5px,#06a3ca 448.5px,#0e92d2 453.5px,#1482d5 457.5px,#066edf 475.5px,#0364e1 502.5px,#1c55d6 606.5px)"></i>
<i style="top:107px;background:linear-gradient(90deg,#0267e1 0.5px,#056de0 110.5px,#1481d6 130.5px,#0c93d2 142.5px,#1389d3 143.5px,#0e5cde 144.5px,#1f53d4 148.5px,#264ecc 163.5px,#2f47c0 189.5px,#353baa 213.5px,#3440b2 226.5px,#254fce 241.5px,#0b5edf 255.5px,#0363e1 270.5px,#0661e0 326.5px,#0d5dde 342.5px,#0267e1 354.5px,#0e76dc 378.5px,#1484d4 380.5px,#0f90d2 381.5px,#06a4c9 382.5px,#06a5c8 383.5px,#0cadbb 384.5px,#21b4ac 385.5px,#3fba9a 386.5px,#89bf76 388.5px,#c7bc5d 390.5px,#f9bb43 392.5px,#fec832 393.5px,#f5e51c 395.5px,#f7f511 396.5px,#f9fb0e 398.5px,#f9fb0e 406.5px,#f7f611 407.5px,#f7d925 409.5px,#fdbe3e 411.5px,#eab94d 412.5px,#a0be6d 415.5px,#3fba99 418.5px,#25b5a9 419.5px,#11afb7 420.5px,#0aacbe 421.5px,#079cd0 449.5px,#1482d5 456.5px,#0770df 471.5px,#0265e1 494.5px,#1d54d5 606.5px)"></i>
<i style="top:108px;background:linear-gradient(90deg,#0266e1 0.5px,#056de0 110.5px,#1481d6 130.5px,#0c93d2 142.5px,#1389d3 143.5px,#0e5cde 144.5px,#1f53d4 148.5px,#264ecd 163.5px,#2f47c0 190.5px,#353cac 213.5px,#3341b6 227.5px,#2450cf 241.5px,#0b5edf 255.5px,#0363e1 270.5px,#0661e0 330.5px,#0760e0 343.5px,#036ae1 355.5px,#0e77db 372.5px,#1388d3 374.5px,#0b95d2 375.5px,#06a4ca 376.5px,#07a9c3 377.5px,#14b0b5 378.5px,#2eb7a4 379.5px,#9abf6f 382.5px,#eeb94b 385.5px,#fec13a 386.5px,#f5ed17 389.5px,#f9fb0e 390.5px,#f9fb0e 399.5px,#f7f511 400.5px,#f7d925 402.5px,#fdbe3e 404.5px,#eab94e 405.5px,#9ebe6d 408.5px,#3dba9b 411.5px,#23b5ab 412.5px,#10afb8 413.5px,#09abbf 415.5px,#089ad1 448.5px,#1483d5 455.5px,#0a72de 466.5px,#0266e1 487.5px,#1e54d5 606.5px)"></i>
<i style="top:109px;background:linear-gradient(90deg,#0266e1 0.5px,#046de0 110.5px,#1481d6 130.5px,#0c93d2 142.5px,#1389d3 143.5px,#0e5cde 144.5px,#1f53d4 148.5px,#264ecd 163.5px,#2f47c0 191.5px,#353dae 214.5px,#3243b9 228.5px,#1f53d4 243.5px,#095fdf 256.5px,#0364e1 271.5px,#0265e1 346.5px,#0b74dd 365.5px,#1483d5 367.5px,#118dd2 368.5px,#06a3cb 369.5px,#06a4c9 370.5px,#0bacbd 371.5px,#1fb3ad 372.5px,#3dba9b 373.5px,#89bf76 375.5px,#c7bc5d 377.5px,#f9bb43 379.5px,#fec932 380.5px,#f5e51c 382.5px,#f7f512 383.5px,#f9fb0e 385.5px,#f9fb0e 392.5px,#f7f512 393.5px,#f7d826 395.5px,#fdbe3e 397.5px,#e9b94e 398.5px,#9dbe6e 401.5px,#3bb99c 404.5px,#21b4ac 405.5px,#0eaeba 406.5px,#09abbf 408.5px,#0998d1 445.5px,#118cd2 451.5px,#127cd8 457.5px,#0269e1 478.5px,#0a5fdf 518.5px,#1f53d4 606.5px)"></i>
<i style="top:110px;background:linear-gradient(90deg,#0266e1 0.5px,#046ce0 109.5px,#137fd7 129.5px,#0d93d2 142.5px,#1389d3 143.5px,#0e5cde 144.5px,#1f53d4 148.5px,#264ecd 163.5px,#2f47c0 192.5px,#343fb0 214.5px,#3045bd 229.5px,#1e54d5 243.5px,#0960df 256.5px,#0364e1 271.5px,#0268e1 346.5px,#0971de 358.5px,#137ed7 360.5px,#1487d3 361.5px,#06a2cb 362.5px,#06a2cb 363.5px,#06a8c4 364.5px,#13b0b6 365.5px,#2cb7a5 366.5px,#76bf7e 368.5px,#b9bd63 370.5px,#eeb94b 372.5px,#fec239 373.5px,#f5ed17 376.5px,#f9fb0e 377.5px,#f9fb0e 385.5px,#f7f412 386.5px,#f7d826 388.5px,#fdcb30 389.5px,#fcbd3f 390.5px,#e9b94e 391.5px,#9cbf6e 394.5px,#39b99d 397.5px,#1fb4ad 398.5px,#0dadbb 399.5px,#07a9c2 404.5px,#0a96d1 440.5px,#118ed2 449.5px,#127cd8 456.5px,#0269e1 476.5px,#0b5edf 516.5px,#2053d4 604.5px,#2052d3 606.5px)"></i>
<i style="top:111px;background:linear-gradient(90deg,#0265e1 0.5px,#046ce0 109.5px,#137fd7 129.5px,#0d93d2 142.5px,#1389d3 143.5px,#0e5cde 144.5px,#1f53d4 148.5px,#264ecd 163.5px,#2f47c0 193.5px,#3440b2 215.5px,#2f47c0 230.5px,#1459da 247.5px,#0363e1 263.5px,#036be1 346.5px,#0871de 351.5px,#137fd6 353.5px,#1388d3 354.5px,#06a1cc 356.5px,#06a7c5 357.5px,#0faeb9 358.5px,#24b5aa 359.5px,#40ba99 360.5px,#aabe69 363.5px,#e2b951 365.5px,#fabb42 366.5px,#fec931 367.5px,#f5e51c 369.5px,#f7f412 370.5px,#f9fb0e 371.5px,#f9fb0e 378.5px,#f7f313 379.5px,#f7d826 381.5px,#fdcb30 382.5px,#fcbd3f 383.5px,#d1bb59 385.5px,#9bbf6f 387.5px,#37b99e 390.5px,#1eb3ae 391.5px,#0cadbc 392.5px,#06a5c8 405.5px,#0e91d2 440.5px,#1487d3 450.5px,#0a72de 462.5px,#0266e1 480.5px,#1d54d6 580.5px,#2152d2 606.5px)"></i>
<i style="top:112px;background:linear-gradient(90deg,#0265e1 0.5px,#036ce0 109.5px,#137ed7 129.5px,#0d93d2 142.5px,#1389d3 143.5px,#0e5cde 144.5px,#1f53d4 148.5px,#264ecd 163.5px,#2f47c0 195.5px,#3341b5 215.5px,#2d49c4 231.5px,#0e5cde 250.5px,#0363e1 265.5px,#046ce0 343.5px,#1480d6 346.5px,#138ad3 347.5px,#06a0cd 349.5px,#07a9c3 350.5px,#13b0b6 351.5px,#29b6a7 352.5px,#6cbf83 354.5px,#acbe68 356.5px,#f6ba46 359.5px,#ffc536 360.5px,#f5ed17 363.5px,#f9fb0e 364.5px,#f9fb0e 371.5px,#f5e51d 373.5px,#fdcb30 375.5px,#fcbd3f 376.5px,#d0bb59 378.5px,#99bf6f 380.5px,#35b8a0 383.5px,#1cb3b0 384.5px,#0aacbd 385.5px,#069fce 409.5px,#1484d4 450.5px,#0870df 463.5px,#0265e1 482.5px,#1c55d6 569.5px,#2251d2 606.5px)"></i>
<i style="top:113px;background:linear-gradient(90deg,#0364e1 0.5px,#036be0 109.5px,#137ed7 129.5px,#0d92d2 141.5px,#0d93d2 142.5px,#1389d3 143.5px,#0e5cde 144.5px,#1f53d4 148.5px,#264ecd 163.5px,#2f47c0 196.5px,#3342b7 216.5px,#2a4cc9 233.5px,#0c5dde 251.5px,#0364e1 265.5px,#046ce0 336.5px,#1482d5 339.5px,#128cd2 340.5px,#06a2cb 342.5px,#08aac1 343.5px,#17b1b3 344.5px,#2fb7a3 345.5px,#96bf71 348.5px,#e6b950 351.5px,#fabc41 352.5px,#fec832 353.5px,#f5e11f 355.5px,#f9fa0e 357.5px,#f9fb0e 364.5px,#f5e41d 366.5px,#fdca30 368.5px,#fcbd3f 369.5px,#cfbb5a 371.5px,#98bf70 373.5px,#33b8a1 376.5px,#1ab2b1 377.5px,#09acbe 378.5px,#079bd0 408.5px,#1481d6 450.5px,#056de0 465.5px,#0462e0 488.5px,#1c55d6 563.5px,#2351d1 606.5px)"></i>
<i style="top:114px;background:linear-gradient(90deg,#0364e1 0.5px,#036be1 109.5px,#137ed7 129.5px,#0e91d2 140.5px,#0d93d2 142.5px,#1389d3 143.5px,#0e5cde 144.5px,#1f53d4 148.5px,#264ecd 162.5px,#2f47c1 197.5px,#3244ba 217.5px,#264fcd 235.5px,#0a5fdf 252.5px,#0364e1 266.5px,#046de0 329.5px,#1483d5 332.5px,#089ad1 334.5px,#09abbe 336.5px,#1bb2b0 337.5px,#36b99f 338.5px,#7dbf7b 340.5px,#bbbd62 342.5px,#ecb94c 344.5px,#febf3c 345.5px,#f5e41d 348.5px,#f9fb0e 350.5px,#f8f810 357.5px,#f5e11f 359.5px,#fdca31 361.5px,#fcbd3f 362.5px,#cfbb5a 364.5px,#97bf70 366.5px,#31b8a2 369.5px,#18b2b2 370.5px,#09abbf 371.5px,#0998d1 405.5px,#1483d5 442.5px,#0f77db 454.5px,#0268e1 471.5px,#1b55d7 546.5px,#2350d0 606.5px)"></i>
<i style="top:115px;background:linear-gradient(90deg,#0363e1 0.5px,#036ae1 108.5px,#127cd8 128.5px,#118ed2 138.5px,#0d92d2 142.5px,#1389d3 143.5px,#0e5cde 144.5px,#1f53d4 148.5px,#264ecd 162.5px,#2f47c0 200.5px,#3045bd 219.5px,#2450cf 235.5px,#0a5fdf 252.5px,#0364e1 265.5px,#046de0 322.5px,#1484d4 325.5px,#079bd0 327.5px,#06a5c8 328.5px,#0cadbc 329.5px,#20b4ad 330.5px,#3dba9b 331.5px,#86bf77 333.5px,#c2bc5f 335.5px,#f2b949 337.5px,#ffc338 338.5px,#f5e81b 341.5px,#f9fb0e 343.5px,#f8f810 349.5px,#f5e21f 351.5px,#febf3c 354.5px,#eeb94b 355.5px,#a9be69 358.5px,#6ebf82 360.5px,#2fb7a3 362.5px,#17b1b3 363.5px,#08aac0 364.5px,#0997d1 398.5px,#1483d4 433.5px,#117ada 451.5px,#0269e1 468.5px,#1559da 523.5px,#2251d1 586.5px,#2450cf 606.5px)"></i>
<i style="top:116px;background:linear-gradient(90deg,#0363e1 0.5px,#026ae1 108.5px,#127cd8 128.5px,#118dd2 138.5px,#0d92d2 142.5px,#1389d3 143.5px,#0e5cde 144.5px,#1f53d4 148.5px,#264ecd 162.5px,#2f47c0 202.5px,#2f47c0 220.5px,#2152d2 236.5px,#0960df 252.5px,#0265e1 266.5px,#056de0 315.5px,#127cd8 317.5px,#1485d4 318.5px,#079dcf 320.5px,#06a7c6 321.5px,#0faeb9 322.5px,#25b5a9 323.5px,#44bb96 324.5px,#8fbf74 326.5px,#c9bc5c 328.5px,#f8ba44 330.5px,#fec634 331.5px,#f5ea19 334.5px,#f9fb0e 336.5px,#f8f810 341.5px,#f7d826 344.5px,#fec13a 346.5px,#f1b94a 347.5px,#acbe68 350.5px,#71bf80 352.5px,#32b8a1 354.5px,#1bb2b0 355.5px,#0bacbd 356.5px,#06a3ca 371.5px,#128ad3 410.5px,#1079da 450.5px,#0268e1 467.5px,#1559da 519.5px,#2251d2 574.5px,#254fce 606.5px)"></i>
<i style="top:117px;background:linear-gradient(90deg,#0562e0 0.5px,#0269e1 108.5px,#117ad9 127.5px,#128cd2 137.5px,#0d92d2 142.5px,#1389d3 143.5px,#0e5cde 144.5px,#1f53d4 148.5px,#264ecd 162.5px,#2e47c1 217.5px,#2350d0 233.5px,#0960df 251.5px,#0265e1 265.5px,#056de0 309.5px,#0972de 310.5px,#127dd8 311.5px,#1389d3 312.5px,#0997d1 313.5px,#06a4ca 314.5px,#0dadbb 315.5px,#28b6a7 316.5px,#74bf7f 318.5px,#b5bd64 320.5px,#e9b94e 322.5px,#fcbd3f 323.5px,#fdca31 324.5px,#f5ed17 327.5px,#f9fb0e 329.5px,#f8f810 333.5px,#f7d925 336.5px,#ffc238 338.5px,#f3ba48 339.5px,#aebe67 342.5px,#73bf7f 344.5px,#33b8a0 346.5px,#1cb3b0 347.5px,#0bacbd 348.5px,#06a7c5 355.5px,#0c93d2 388.5px,#1482d5 420.5px,#0d75dc 451.5px,#0268e1 465.5px,#1559da 513.5px,#2251d2 565.5px,#264ecd 606.5px)"></i>
<i style="top:118px;background:linear-gradient(90deg,#0661e0 0.5px,#0269e1 108.5px,#0f77db 125.5px,#1389d3 136.5px,#0d92d2 142.5px,#1389d3 143.5px,#0e5cde 144.5px,#1f53d4 148.5px,#264ecd 162.5px,#2d48c3 217.5px,#1f53d4 235.5px,#0661e0 252.5px,#026ae1 288.5px,#066edf 305.5px,#0b73dd 306.5px,#1482d5 307.5px,#0998d1 308.5px,#06a8c5 309.5px,#19b2b2 310.5px,#3fba99 311.5px,#70bf81 312.5px,#9abf6f 313.5px,#e1ba52 315.5px,#fdbe3e 316.5px,#fcce2e 317.5px,#f5e41d 319.5px,#f8f710 321.5px,#f9fb0e 324.5px,#f6ef16 326.5px,#fbd02c 329.5px,#ffc436 330.5px,#f6ba46 331.5px,#b1bd66 334.5px,#76bf7e 336.5px,#35b8a0 338.5px,#1db3af 339.5px,#0badbc 340.5px,#07a9c3 344.5px,#0b95d2 378.5px,#1482d5 410.5px,#0b73dd 451.5px,#0267e1 465.5px,#1857d8 517.5px,#2350d0 569.5px,#274ecc 606.5px)"></i>
<i style="top:119px;background:linear-gradient(90deg,#0760e0 0.5px,#0268e1 108.5px,#0f77db 125.5px,#1389d3 136.5px,#0e92d2 142.5px,#1389d3 143.5px,#0e5cde 144.5px,#1f53d4 148.5px,#264ecd 162.5px,#2c4ac5 217.5px,#1d55d6 235.5px,#0462e1 253.5px,#056ee0 296.5px,#0770df 302.5px,#089ad0 303.5px,#079dcf 305.5px,#0dadbb 306.5px,#3bba9c 307.5px,#82bf79 308.5px,#b4bd65 309.5px,#efb94b 311.5px,#ffc238 312.5px,#f5e81a 315.5px,#f7f313 316.5px,#f7f611 317.5px,#f6dc23 320.5px,#fec635 322.5px,#f8bb44 323.5px,#b4bd65 326.5px,#79bf7d 328.5px,#36b99f 330.5px,#1db3af 331.5px,#0cadbc 332.5px,#07a9c2 335.5px,#0b96d1 369.5px,#1482d5 401.5px,#0871de 451.5px,#0265e1 466.5px,#1d54d5 525.5px,#284dcb 606.5px)"></i>
<i style="top:120px;background:linear-gradient(90deg,#0960df 0.5px,#0268e1 108.5px,#0c74dd 123.5px,#1487d3 135.5px,#0e92d2 142.5px,#1389d3 143.5px,#0e5cde 144.5px,#1f53d4 148.5px,#264fcd 162.5px,#2a4bc8 218.5px,#1857d8 236.5px,#0364e1 254.5px,#0770df 295.5px,#089ad0 296.5px,#0998d1 302.5px,#06a2cc 303.5px,#14b0b5 304.5px,#43bb97 305.5px,#80bf7a 306.5px,#b2bd66 307.5px,#daba55 308.5px,#f1b94a 309.5px,#fabc42 311.5px,#f5ba47 314.5px,#e2b951 316.5px,#d0bb59 317.5px,#9cbf6e 319.5px,#38b99d 322.5px,#1fb3ae 323.5px,#0cadbc 324.5px,#07a9c2 327.5px,#0b96d1 361.5px,#1483d5 392.5px,#056ee0 452.5px,#0363e1 468.5px,#1956d7 508.5px,#264fcd 573.5px,#294cca 606.5px)"></i>
<i style="top:121px;background:linear-gradient(90deg,#0a5fdf 0.5px,#0267e1 107.5px,#0a73dd 122.5px,#1485d4 134.5px,#0e91d2 142.5px,#1389d3 143.5px,#0e5cde 144.5px,#1f53d4 148.5px,#264fcd 162.5px,#284dca 218.5px,#1957d8 234.5px,#0364e1 253.5px,#076fdf 288.5px,#0899d1 289.5px,#0b95d2 301.5px,#079ecf 302.5px,#07aac1 303.5px,#1db3af 304.5px,#58bd8c 306.5px,#73bf7f 307.5px,#85bf78 308.5px,#85bf78 309.5px,#4fbc91 312.5px,#18b1b3 315.5px,#0bacbd 316.5px,#07a9c3 317.5px,#0b95d1 353.5px,#1483d5 384.5px,#036ae1 454.5px,#0760e0 469.5px,#1c55d6 510.5px,#294cca 593.5px,#2a4cc9 606.5px)"></i>
<i style="top:122px;background:linear-gradient(90deg,#0c5ede 0.5px,#0266e1 107.5px,#0a72de 122.5px,#1485d4 134.5px,#0e91d2 142.5px,#1389d3 143.5px,#0e5cde 144.5px,#1f53d4 148.5px,#264fcd 162.5px,#264ecd 218.5px,#1757d9 233.5px,#0364e1 251.5px,#076fdf 281.5px,#0c74dd 282.5px,#0999d1 283.5px,#0998d1 285.5px,#06a4c9 287.5px,#0a96d1 290.5px,#0c94d2 294.5px,#079cd0 295.5px,#079bd0 303.5px,#06a4c9 315.5px,#0c93d2 348.5px,#1481d6 379.5px,#0268e1 454.5px,#095fdf 468.5px,#1d54d5 506.5px,#2a4bc8 598.5px,#2b4bc8 606.5px)"></i>
<i style="top:123px;background:linear-gradient(90deg,#0d5dde 0.5px,#0265e1 106.5px,#0871de 121.5px,#1485d4 134.5px,#0e91d2 142.5px,#1389d3 143.5px,#0e5cde 144.5px,#1f53d4 148.5px,#264fcd 162.5px,#2450cf 218.5px,#125adc 234.5px,#0365e1 249.5px,#076fdf 274.5px,#0d75dc 275.5px,#0998d1 276.5px,#089ad0 278.5px,#06a5c8 279.5px,#0cadbb 280.5px,#4fbc90 283.5px,#63be86 284.5px,#71bf80 285.5px,#77bf7e 286.5px,#5ebe89 287.5px,#2bb6a6 288.5px,#08abc0 289.5px,#079cd0 290.5px,#0a97d1 303.5px,#06a0cd 315.5px,#108fd2 346.5px,#137dd7 380.5px,#0266e1 454.5px,#1d54d6 497.5px,#2a4cc9 583.5px,#2c4ac6 606.5px)"></i>
<i style="top:124px;background:linear-gradient(90deg,#0f5cde 0.5px,#0462e1 98.5px,#056de0 118.5px,#1484d4 134.5px,#0e91d2 142.5px,#1389d3 143.5px,#0e5cde 144.5px,#1f53d4 148.5px,#254fce 161.5px,#2251d1 217.5px,#0364e1 245.5px,#066fdf 267.5px,#0d75dc 268.5px,#0997d1 269.5px,#079cd0 271.5px,#06a7c5 272.5px,#13b0b6 273.5px,#4bbc93 275.5px,#6bbe83 276.5px,#83bf78 277.5px,#94bf72 278.5px,#9ebe6e 279.5px,#a0be6d 280.5px,#9cbf6e 281.5px,#90bf73 282.5px,#7cbf7b 283.5px,#40ba99 285.5px,#07aac1 287.5px,#079ccf 288.5px,#0d93d2 296.5px,#0e92d2 303.5px,#089bd0 314.5px,#0f90d2 336.5px,#137ed7 369.5px,#0265e1 454.5px,#1e54d5 493.5px,#2b4bc7 584.5px,#2c4ac5 606.5px)"></i>
<i style="top:125px;background:linear-gradient(90deg,#115bdc 0.5px,#0561e0 98.5px,#046de0 118.5px,#1484d4 134.5px,#0e91d2 142.5px,#1389d3 143.5px,#0e5cde 144.5px,#1f53d4 148.5px,#254fce 161.5px,#2053d4 217.5px,#0364e1 243.5px,#066edf 260.5px,#1480d6 262.5px,#0a97d1 263.5px,#069ece 264.5px,#07a9c2 265.5px,#1ab2b1 266.5px,#39b99d 267.5px,#81bf7a 269.5px,#9abf6f 270.5px,#acbe68 271.5px,#b6bd64 272.5px,#babd63 273.5px,#b7bd64 274.5px,#adbe68 275.5px,#9dbf6e 276.5px,#85bf78 277.5px,#41ba98 279.5px,#22b4ac 280.5px,#0bacbd 281.5px,#06a3cb 282.5px,#0f90d2 293.5px,#118dd2 303.5px,#0b96d1 315.5px,#1481d5 354.5px,#0267e1 447.5px,#0860df 458.5px,#1f53d4 491.5px,#2c4ac6 587.5px,#2d49c4 606.5px)"></i>
<i style="top:126px;background:linear-gradient(90deg,#135adb 0.5px,#0661e0 99.5px,#046ce0 118.5px,#1484d4 134.5px,#0e90d2 142.5px,#1389d3 143.5px,#0e5cde 144.5px,#1f53d4 148.5px,#254fce 161.5px,#1d54d5 215.5px,#0265e1 240.5px,#046de0 253.5px,#137ed7 255.5px,#0a96d1 256.5px,#079ecf 257.5px,#07aac1 258.5px,#1eb3ae 259.5px,#43bb97 260.5px,#6fbf81 261.5px,#94bf72 262.5px,#aebe67 263.5px,#c1bc60 264.5px,#cdbb5b 265.5px,#d2bb59 266.5px,#cfbb5a 267.5px,#c7bc5d 268.5px,#b7bd64 269.5px,#a1be6c 270.5px,#83bf79 271.5px,#35b8a0 273.5px,#16b1b4 274.5px,#06a8c5 275.5px,#069fce 276.5px,#0d93d2 288.5px,#138ad3 296.5px,#128ad3 305.5px,#108fd2 320.5px,#137ed7 354.5px,#0267e1 436.5px,#0561e0 453.5px,#1e54d5 483.5px,#2c4ac6 573.5px,#2d49c3 606.5px)"></i>
<i style="top:127px;background:linear-gradient(90deg,#1558da 0.5px,#0860df 99.5px,#036be1 117.5px,#1484d4 134.5px,#0f90d2 142.5px,#1389d3 143.5px,#0e5cde 144.5px,#1f53d4 148.5px,#254fce 160.5px,#1b55d6 212.5px,#0265e1 237.5px,#036be0 246.5px,#127cd8 248.5px,#0b95d2 249.5px,#079cd0 250.5px,#07a9c2 251.5px,#1db3af 252.5px,#43bb97 253.5px,#72bf80 254.5px,#99bf70 255.5px,#b7bd64 256.5px,#cdbb5b 257.5px,#dcba54 258.5px,#e3b951 259.5px,#e4b951 260.5px,#deba54 261.5px,#d0bb5a 262.5px,#babd62 263.5px,#9dbe6e 264.5px,#78bf7d 265.5px,#4bbc93 266.5px,#24b5aa 267.5px,#0aacbe 268.5px,#06a1cc 269.5px,#108ed2 288.5px,#1485d4 298.5px,#1389d3 322.5px,#0c74dd 372.5px,#0266e1 429.5px,#0661e0 450.5px,#1f53d4 480.5px,#2c4ac5 569.5px,#2e48c2 606.5px)"></i>
<i style="top:128px;background:linear-gradient(90deg,#1857d9 0.5px,#0a5fdf 98.5px,#0269e1 116.5px,#1484d4 134.5px,#0f90d2 142.5px,#1389d3 143.5px,#0e5cde 144.5px,#1f53d4 148.5px,#254fce 159.5px,#1a56d7 207.5px,#0266e1 234.5px,#0269e1 239.5px,#066fdf 240.5px,#117ad9 241.5px,#1388d3 242.5px,#089ad0 243.5px,#06a8c4 244.5px,#1bb2b0 245.5px,#42bb98 246.5px,#73bf7f 247.5px,#9dbf6e 248.5px,#bcbd62 249.5px,#d3bb58 250.5px,#e4b951 251.5px,#ecb94c 252.5px,#eeb94b 253.5px,#e8b94e 254.5px,#dbba55 255.5px,#c8bc5d 256.5px,#adbe68 257.5px,#8bbf75 258.5px,#33b8a1 260.5px,#12afb7 261.5px,#06a5c8 262.5px,#069fce 264.5px,#1488d3 289.5px,#1482d5 304.5px,#1484d4 323.5px,#0267e1 417.5px,#0860e0 448.5px,#2152d3 477.5px,#2d49c4 567.5px,#2e47c1 606.5px)"></i>
<i style="top:129px;background:linear-gradient(90deg,#1a56d7 0.5px,#0c5dde 96.5px,#0269e1 116.5px,#1484d4 134.5px,#0f90d2 142.5px,#1389d3 143.5px,#0e5cde 144.5px,#1f53d4 148.5px,#2450cf 159.5px,#1a56d7 200.5px,#0266e1 230.5px,#036ae1 233.5px,#1484d4 235.5px,#0997d1 236.5px,#06a7c6 237.5px,#19b2b2 238.5px,#41ba98 239.5px,#74bf7f 240.5px,#9fbe6d 241.5px,#c0bc60 242.5px,#d9ba55 243.5px,#ebb94d 244.5px,#f5ba47 245.5px,#f7ba45 246.5px,#f3b948 247.5px,#e6b950 248.5px,#d3bb58 249.5px,#b8bd63 250.5px,#96bf71 251.5px,#6abe83 252.5px,#3bb99c 253.5px,#16b1b4 254.5px,#06a7c6 255.5px,#06a0cd 256.5px,#1480d6 294.5px,#1480d6 307.5px,#127dd8 331.5px,#0267e1 405.5px,#0a5fdf 443.5px,#2251d1 477.5px,#2e48c3 567.5px,#2f47c0 606.5px)"></i>
<i style="top:130px;background:linear-gradient(90deg,#1c55d6 0.5px,#0f5cdd 93.5px,#0269e1 117.5px,#1483d4 134.5px,#0f90d2 142.5px,#1389d3 143.5px,#0e5cde 144.5px,#1f53d4 148.5px,#2450cf 158.5px,#1a56d7 193.5px,#0266e1 226.5px,#076fdf 227.5px,#127bd9 228.5px,#0d93d2 229.5px,#079ecf 230.5px,#09abbe 231.5px,#2ab6a6 232.5px,#5dbe89 233.5px,#92bf72 234.5px,#bbbd62 235.5px,#dcba54 236.5px,#f2b949 237.5px,#fcbd40 238.5px,#febf3d 239.5px,#fbbc40 240.5px,#f1b94a 241.5px,#ddba54 242.5px,#c3bc5f 243.5px,#a1be6c 244.5px,#76bf7e 245.5px,#43bb97 246.5px,#1bb2b0 247.5px,#06a8c4 248.5px,#06a0cd 249.5px,#1480d6 289.5px,#127cd8 305.5px,#117ad9 328.5px,#0267e1 396.5px,#0a5fdf 432.5px,#1459da 452.5px,#2450cf 475.5px,#2e48c1 566.5px,#2f46bf 606.5px)"></i>
<i style="top:131px;background:linear-gradient(90deg,#1f53d5 0.5px,#115adc 92.5px,#0268e1 116.5px,#1485d4 135.5px,#0f90d2 142.5px,#1389d3 143.5px,#0e5cde 144.5px,#1f53d4 148.5px,#2450d0 157.5px,#1957d8 190.5px,#0267e1 220.5px,#1480d6 222.5px,#06a3cb 224.5px,#0faeb9 225.5px,#33b8a1 226.5px,#65be86 227.5px,#94bf72 228.5px,#b7bd64 229.5px,#d1bb59 230.5px,#e4b951 231.5px,#efb94b 232.5px,#f1b949 233.5px,#ecb94d 234.5px,#dfba53 235.5px,#cabb5c 236.5px,#abbe68 237.5px,#81bf7a 238.5px,#4cbc92 239.5px,#20b4ad 240.5px,#07a9c2 241.5px,#06a0cd 242.5px,#1482d5 284.5px,#0f78db 302.5px,#0f78db 326.5px,#0267e1 387.5px,#0b5edf 422.5px,#1957d8 452.5px,#264ecc 478.5px,#2f46bf 586.5px,#3046be 606.5px)"></i>
<i style="top:132px;background:linear-gradient(90deg,#2152d3 0.5px,#1459db 92.5px,#0267e1 116.5px,#1485d4 135.5px,#0f8fd2 142.5px,#1389d3 143.5px,#0e5cde 144.5px,#1f53d4 148.5px,#2350d0 156.5px,#1658d9 188.5px,#0265e1 213.5px,#036ae1 214.5px,#0e76dc 215.5px,#0e92d2 216.5px,#0b95d2 217.5px,#06a5c8 218.5px,#13b0b6 219.5px,#36b99f 220.5px,#64be86 221.5px,#8dbf74 222.5px,#aabe69 223.5px,#bfbc61 224.5px,#cbbb5c 225.5px,#cebb5a 226.5px,#cabb5c 227.5px,#bebc61 228.5px,#aabe69 229.5px,#8ebf74 230.5px,#67be85 231.5px,#3cba9b 232.5px,#19b2b2 233.5px,#06a8c4 234.5px,#06a0cd 235.5px,#1482d5 278.5px,#0d76dc 303.5px,#0b74dd 330.5px,#0265e1 382.5px,#135adb 433.5px,#294dca 480.5px,#3045bd 595.5px,#3045bd 606.5px)"></i>
<i style="top:133px;background:linear-gradient(90deg,#2251d1 0.5px,#1758d9 90.5px,#0561e0 111.5px,#036be0 120.5px,#1483d5 134.5px,#0f8fd2 142.5px,#1389d3 143.5px,#0e5cde 144.5px,#1f53d4 148.5px,#2251d1 156.5px,#135adb 187.5px,#0365e1 207.5px,#046ce0 208.5px,#0e91d2 209.5px,#0a96d1 211.5px,#06a5c8 212.5px,#11afb8 213.5px,#2eb7a4 214.5px,#76bf7e 216.5px,#90bf73 217.5px,#9fbe6d 218.5px,#a6be6b 219.5px,#a4be6b 220.5px,#99bf6f 221.5px,#86bf78 222.5px,#67be85 223.5px,#22b4ac 225.5px,#0aacbe 226.5px,#06a2cc 227.5px,#1481d5 272.5px,#0b73dd 303.5px,#0871de 330.5px,#0364e1 377.5px,#2052d3 451.5px,#2d49c4 500.5px,#3144bc 606.5px)"></i>
<i style="top:134px;background:linear-gradient(90deg,#2450cf 0.5px,#1956d7 89.5px,#0960df 110.5px,#0268e1 118.5px,#1483d5 134.5px,#0f8fd2 142.5px,#1389d3 143.5px,#0e5cde 144.5px,#1f53d4 148.5px,#2053d4 160.5px,#0a5fdf 191.5px,#0365e1 201.5px,#056de0 202.5px,#0f90d2 203.5px,#0b95d2 205.5px,#06a3ca 206.5px,#0badbc 207.5px,#53bd8f 210.5px,#65be85 211.5px,#6fbf81 212.5px,#6ebf81 213.5px,#64be86 214.5px,#39b99d 216.5px,#0cadbb 218.5px,#06a5c9 219.5px,#079dcf 220.5px,#1481d6 266.5px,#0870df 303.5px,#046de0 335.5px,#0462e1 376.5px,#254fce 456.5px,#2f47c0 521.5px,#3244bb 606.5px)"></i>
<i style="top:135px;background:linear-gradient(90deg,#254fce 0.5px,#1b55d6 90.5px,#0a5fdf 110.5px,#0268e1 118.5px,#1485d4 135.5px,#108fd2 142.5px,#1389d3 143.5px,#0e5cde 144.5px,#1f53d4 148.5px,#1857d8 169.5px,#0365e1 195.5px,#0f90d2 196.5px,#0e91d2 199.5px,#069fce 200.5px,#06a8c4 201.5px,#1eb3ae 203.5px,#33b8a0 205.5px,#35b8a0 206.5px,#24b5aa 208.5px,#09abbf 210.5px,#089bd0 212.5px,#1481d6 260.5px,#066edf 304.5px,#0267e1 346.5px,#0960df 375.5px,#2450d0 446.5px,#2e48c2 494.5px,#3243b9 606.5px)"></i>
<i style="top:136px;background:linear-gradient(90deg,#274ecc 0.5px,#1d54d6 92.5px,#0b5ede 110.5px,#0267e1 118.5px,#1485d4 135.5px,#108fd2 142.5px,#1389d3 143.5px,#0e5cde 144.5px,#1f53d4 148.5px,#0860df 182.5px,#0267e1 189.5px,#108fd2 190.5px,#0f8fd2 193.5px,#089bd0 194.5px,#08aac0 197.5px,#0bacbd 200.5px,#06a0cd 203.5px,#0998d1 204.5px,#1480d6 254.5px,#046ce0 304.5px,#0363e1 352.5px,#2450d0 432.5px,#2f47c0 499.5px,#3243b8 606.5px)"></i>
<i style="top:137px;background:linear-gradient(90deg,#294dca 0.5px,#1e54d5 94.5px,#0d5dde 110.5px,#0265e1 117.5px,#0972de 125.5px,#1485d4 135.5px,#108fd2 142.5px,#1389d3 143.5px,#0e5cde 144.5px,#1e54d5 148.5px,#0363e1 182.5px,#108ed2 183.5px,#0f90d2 187.5px,#06a0cd 189.5px,#06a5c8 192.5px,#0a96d1 196.5px,#1480d6 248.5px,#026ae1 304.5px,#0661e0 351.5px,#2450cf 420.5px,#3046be 505.5px,#3242b7 606.5px)"></i>
<i style="top:138px;background:linear-gradient(90deg,#2a4bc8 0.5px,#2053d4 95.5px,#0e5cde 110.5px,#0266e1 118.5px,#0d75dc 127.5px,#1487d3 136.5px,#108fd2 142.5px,#1389d3 143.5px,#0e5cde 144.5px,#1c55d6 147.5px,#0363e1 175.5px,#118dd2 176.5px,#108fd2 181.5px,#079dcf 184.5px,#0c94d2 190.5px,#1480d6 241.5px,#0267e1 303.5px,#0761e0 342.5px,#2450cf 409.5px,#3145bc 510.5px,#3342b7 606.5px)"></i>
<i style="top:139px;background:linear-gradient(90deg,#2c4ac6 0.5px,#2152d2 95.5px,#125adc 109.5px,#0265e1 118.5px,#0a73dd 126.5px,#1485d4 135.5px,#108fd2 142.5px,#1389d3 143.5px,#0e5cde 144.5px,#1857d8 146.5px,#0363e1 169.5px,#118cd2 170.5px,#118dd2 175.5px,#0c94d2 179.5px,#1481d6 229.5px,#0265e1 298.5px,#0761e0 332.5px,#2450cf 398.5px,#3244bb 509.5px,#3341b6 606.5px)"></i>
<i style="top:140px;background:linear-gradient(90deg,#2d49c5 0.5px,#2351d1 95.5px,#1658d9 108.5px,#0266e1 119.5px,#0e76dc 128.5px,#1388d3 137.5px,#108fd2 142.5px,#1389d3 143.5px,#0e5cde 144.5px,#1459db 145.5px,#0363e1 162.5px,#128cd2 163.5px,#118cd2 168.5px,#0d93d2 172.5px,#1482d5 215.5px,#0770df 265.5px,#0363e1 298.5px,#095fdf 327.5px,#254fce 388.5px,#3244ba 496.5px,#3341b5 606.5px)"></i>
<i style="top:141px;background:linear-gradient(90deg,#2d48c3 0.5px,#254fce 94.5px,#1956d8 108.5px,#0265e1 119.5px,#0b74dd 127.5px,#1486d3 136.5px,#108fd2 142.5px,#1389d3 143.5px,#0364e1 144.5px,#0c5ede 148.5px,#0363e1 154.5px,#046de0 155.5px,#118cd2 156.5px,#128bd2 159.5px,#0d93d2 165.5px,#1482d5 203.5px,#0971de 254.5px,#0364e1 289.5px,#0860df 307.5px,#1758d9 342.5px,#294cc9 397.5px,#3342b7 521.5px,#3340b4 606.5px)"></i>
<i style="top:142px;background:linear-gradient(90deg,#2e48c1 0.5px,#274ecc 94.5px,#1a56d7 109.5px,#0364e1 119.5px,#0871de 126.5px,#1484d4 135.5px,#1389d3 138.5px,#8dbf74 139.5px,#8dbf74 140.5px,#86bf77 141.5px,#36b99f 146.5px,#13b0b6 149.5px,#0bacbd 150.5px,#0cadbc 151.5px,#15b0b5 152.5px,#18b1b3 155.5px,#09abbe 157.5px,#089bd0 159.5px,#0d93d2 160.5px,#1483d5 189.5px,#0871de 248.5px,#0364e1 284.5px,#0d5dde 306.5px,#1658d9 332.5px,#294cc9 385.5px,#3342b7 511.5px,#3440b3 606.5px)"></i>
<i style="top:143px;background:linear-gradient(90deg,#2f47c0 0.5px,#274dcb 97.5px,#1c55d6 110.5px,#0364e1 120.5px,#0972de 127.5px,#1485d4 136.5px,#1389d3 138.5px,#f5e11f 139.5px,#f5e11f 140.5px,#fbd02c 142.5px,#ffc436 143.5px,#f9bb43 144.5px,#d8ba56 146.5px,#f5ba47 147.5px,#fcbd3f 148.5px,#ebb94d 149.5px,#c8bc5d 150.5px,#96bf71 151.5px,#5abd8b 152.5px,#2cb7a5 154.5px,#23b5ab 155.5px,#0b95d2 156.5px,#1388d3 169.5px,#0a73dd 235.5px,#0365e1 275.5px,#125adc 305.5px,#1d54d5 334.5px,#2e48c2 404.5px,#3340b3 547.5px,#3440b2 606.5px)"></i>
<i style="top:144px;background:linear-gradient(90deg,#3046be 0.5px,#294cca 99.5px,#1c55d6 112.5px,#0364e1 121.5px,#0870df 127.5px,#1484d4 136.5px,#1388d3 138.5px,#3ab99c 139.5px,#35b8a0 141.5px,#2ab6a6 142.5px,#f5e020 143.5px,#fad32a 144.5px,#fdbd3e 145.5px,#d4bb58 146.5px,#9ebe6d 147.5px,#4abc93 148.5px,#09abbf 149.5px,#079ece 150.5px,#1388d3 162.5px,#0972de 229.5px,#0364e1 269.5px,#1857d8 305.5px,#2e48c2 391.5px,#3440b3 530.5px,#343fb1 606.5px)"></i>
<i style="top:145px;background:linear-gradient(90deg,#3145bd 0.5px,#2b4bc8 100.5px,#1e54d5 113.5px,#0364e1 122.5px,#0871de 128.5px,#1482d5 136.5px,#128cd2 142.5px,#06a7c6 143.5px,#069fce 148.5px,#1388d3 159.5px,#0e76dc 199.5px,#0265e1 260.5px,#1359db 288.5px,#1d54d5 306.5px,#2f47c0 390.5px,#343fb2 536.5px,#343fb0 606.5px)"></i>
<i style="top:146px;background:linear-gradient(90deg,#3144bb 0.5px,#2c4ac6 102.5px,#1e54d5 115.5px,#0364e1 123.5px,#0971de 129.5px,#1483d5 137.5px,#138ad3 142.5px,#06a0cd 143.5px,#0b96d1 150.5px,#1485d4 158.5px,#0d75dc 194.5px,#0364e1 254.5px,#1a56d7 289.5px,#2252d2 310.5px,#3046be 390.5px,#343fb0 544.5px,#343eaf 606.5px)"></i>
<i style="top:147px;background:linear-gradient(90deg,#3243ba 0.5px,#2d49c5 104.5px,#2053d4 116.5px,#0364e1 124.5px,#0971de 130.5px,#1482d5 138.5px,#1487d3 142.5px,#079cd0 143.5px,#0e91d2 150.5px,#1482d5 158.5px,#0971de 198.5px,#0363e1 249.5px,#1f53d4 289.5px,#3046be 378.5px,#343fb0 524.5px,#353eaf 606.5px)"></i>
<i style="top:148px;background:linear-gradient(90deg,#3243b8 0.5px,#2d48c3 106.5px,#2152d2 117.5px,#0364e1 125.5px,#076fdf 130.5px,#1481d5 139.5px,#1484d4 142.5px,#0997d1 143.5px,#138ad3 151.5px,#1079da 165.5px,#0267e1 229.5px,#0860df 250.5px,#274dcb 301.5px,#3340b3 442.5px,#353dae 606.5px)"></i>
<i style="top:149px;background:linear-gradient(90deg,#3342b7 0.5px,#2e47c1 107.5px,#254fce 117.5px,#0e5cde 123.5px,#0266e1 127.5px,#1480d6 140.5px,#1481d5 142.5px,#0d92d2 143.5px,#137fd7 155.5px,#0871de 180.5px,#0364e1 231.5px,#2053d4 276.5px,#2b4bc8 311.5px,#3440b2 441.5px,#353dad 606.5px)"></i>
<i style="top:150px;background:linear-gradient(90deg,#3341b5 0.5px,#2f46bf 108.5px,#264fcd 118.5px,#1359db 123.5px,#0364e1 127.5px,#0972de 133.5px,#137ed7 142.5px,#118dd2 143.5px,#117bd9 156.5px,#046ce0 189.5px,#0661e0 230.5px,#264ecd 284.5px,#2f47c0 334.5px,#343eaf 473.5px,#353dac 606.5px)"></i>
<i style="top:151px;background:linear-gradient(90deg,#3341b4 0.5px,#3046be 109.5px,#264ecd 119.5px,#135adb 124.5px,#0364e1 128.5px,#0b73dd 135.5px,#127bd9 142.5px,#1388d3 143.5px,#0f77db 157.5px,#0269e1 189.5px,#0760e0 223.5px,#2450cf 271.5px,#2e48c2 311.5px,#353eaf 455.5px,#353cac 606.5px)"></i>
<i style="top:152px;background:linear-gradient(90deg,#3440b3 0.5px,#3145bc 109.5px,#284dcb 119.5px,#1758d9 124.5px,#0363e1 128.5px,#076fdf 134.5px,#1078da 142.5px,#1484d4 143.5px,#0871de 161.5px,#0265e1 195.5px,#115bdc 232.5px,#284dcb 272.5px,#3045bd 325.5px,#353dad 472.5px,#353cab 606.5px)"></i>
<i style="top:153px;background:linear-gradient(90deg,#343fb2 0.5px,#3144bb 109.5px,#284dcb 120.5px,#1559da 125.5px,#0363e1 129.5px,#0972de 137.5px,#0d76dc 142.5px,#1480d6 143.5px,#036ae1 170.5px,#0760e0 201.5px,#2251d1 250.5px,#3046be 304.5px,#353dac 467.5px,#353caa 606.5px)"></i>
<i style="top:154px;background:linear-gradient(90deg,#343fb0 0.5px,#3243b9 109.5px,#294cc9 120.5px,#1956d8 125.5px,#0364e1 130.5px,#0b73dd 142.5px,#127cd8 143.5px,#0268e1 168.5px,#0960df 194.5px,#2c4ac6 268.5px,#3342b7 334.5px,#353cab 493.5px,#353baa 606.5px)"></i>
<i style="top:155px;background:linear-gradient(90deg,#343eaf 0.5px,#3243b8 109.5px,#294cca 121.5px,#1857d8 126.5px,#0364e1 131.5px,#0871df 142.5px,#1079da 143.5px,#0267e1 165.5px,#0b5ede 190.5px,#2b4bc7 258.5px,#3342b7 322.5px,#353caa 482.5px,#353ba9 606.5px)"></i>
<i style="top:156px;background:linear-gradient(90deg,#353eae 0.5px,#3342b7 110.5px,#2b4bc7 121.5px,#1757d9 127.5px,#0363e1 132.5px,#056ee0 142.5px,#0d76dc 143.5px,#0266e1 162.5px,#2251d1 224.5px,#3145bc 285.5px,#353baa 449.5px,#353ba9 606.5px)"></i>
<i style="top:157px;background:linear-gradient(90deg,#353dad 0.5px,#3342b6 110.5px,#2b4bc8 122.5px,#1757d9 128.5px,#0364e1 134.5px,#036be0 142.5px,#0a72de 143.5px,#0265e1 160.5px,#2251d1 213.5px,#3243ba 285.5px,#353ba9 455.5px,#353ba8 606.5px)"></i>
<i style="top:158px;background:linear-gradient(90deg,#353dac 0.5px,#3341b5 110.5px,#2c4ac5 122.5px,#1757d9 129.5px,#0363e1 135.5px,#0268e1 142.5px,#076fdf 143.5px,#0363e1 159.5px,#2052d3 196.5px,#3244ba 276.5px,#353ba9 440.5px,#353aa8 606.5px)"></i>
<i style="top:159px;background:linear-gradient(90deg,#353cab 0.5px,#3340b3 110.5px,#2c4ac5 123.5px,#1857d8 130.5px,#0363e1 137.5px,#0266e1 142.5px,#046ce0 143.5px,#0562e0 157.5px,#1f53d4 185.5px,#3145bc 257.5px,#353dad 357.5px,#363aa7 559.5px,#363aa7 606.5px)"></i>
<i style="top:160px;background:linear-gradient(90deg,#353caa 0.5px,#3440b3 111.5px,#2c4ac5 124.5px,#1658d9 132.5px,#0462e0 140.5px,#0363e1 142.5px,#0269e1 143.5px,#0661e0 154.5px,#1f53d4 176.5px,#2e48c2 231.5px,#343eaf 325.5px,#363aa7 516.5px,#363aa7 606.5px)"></i>
<i style="top:161px;background:linear-gradient(90deg,#353baa 0.5px,#343fb2 111.5px,#2d48c3 124.5px,#1558da 134.5px,#095fdf 142.5px,#0266e1 143.5px,#0661e0 151.5px,#1f53d4 169.5px,#2e48c3 216.5px,#353dae 324.5px,#363aa6 522.5px,#363aa6 606.5px)"></i>
<i style="top:162px;background:linear-gradient(90deg,#353ba9 0.5px,#343fb0 111.5px,#2e48c2 125.5px,#125adb 138.5px,#0e5cde 142.5px,#0363e1 143.5px,#1957d8 158.5px,#264ecd 176.5px,#3342b7 255.5px,#353ba8 389.5px,#3639a6 606.5px)"></i>
<i style="top:163px;background:linear-gradient(90deg,#353ba8 0.5px,#343fb0 112.5px,#2e48c2 126.5px,#1956d8 138.5px,#1558da 142.5px,#095fdf 143.5px,#1758d9 153.5px,#254fce 167.5px,#3145bd 220.5px,#353cab 335.5px,#3639a5 556.5px,#3639a5 606.5px)"></i>
<i style="top:164px;background:linear-gradient(90deg,#363aa7 0.5px,#353eaf 112.5px,#2e48c1 127.5px,#1d54d5 140.5px,#1c55d6 142.5px,#0f5cdd 143.5px,#264ecd 162.5px,#3144bb 214.5px,#353baa 340.5px,#3639a5 577.5px,#3639a5 606.5px)"></i>
<i style="top:165px;background:linear-gradient(90deg,#363aa7 0.5px,#353dae 112.5px,#2e47c1 128.5px,#2251d2 141.5px,#2152d2 142.5px,#1758d9 143.5px,#2b4bc7 166.5px,#3341b4 241.5px,#363aa6 386.5px,#3639a4 606.5px)"></i>
<i style="top:166px;background:linear-gradient(90deg,#363aa6 0.5px,#353dad 113.5px,#2d48c3 131.5px,#254fce 142.5px,#1d54d5 143.5px,#2d48c3 168.5px,#343eaf 259.5px,#3638a4 469.5px,#3639a4 606.5px)"></i>
<i style="top:167px;background:linear-gradient(90deg,#3639a5 0.5px,#353dac 113.5px,#294cca 142.5px,#2351d1 143.5px,#2f46bf 170.5px,#353cab 282.5px,#3638a3 523.5px,#3638a4 606.5px)"></i>
<i style="top:168px;background:linear-gradient(90deg,#3639a5 0.5px,#353cac 114.5px,#2c4ac6 142.5px,#274ecc 143.5px,#3244ba 179.5px,#363aa7 332.5px,#3638a3 606.5px)"></i>
<i style="top:169px;background:linear-gradient(90deg,#3639a4 0.5px,#353cab 114.5px,#2d48c3 142.5px,#2a4bc8 144.5px,#3342b7 182.5px,#3639a6 346.5px,#3638a3 606.5px)"></i>
<i style="top:170px;background:linear-gradient(90deg,#3638a4 0.5px,#353cab 115.5px,#2f47c0 142.5px,#2d49c4 144.5px,#3341b4 186.5px,#3639a4 366.5px,#3638a3 606.5px)"></i>
<i style="top:171px;background:linear-gradient(90deg,#3638a3 0.5px,#353baa 115.5px,#3045bd 142.5px,#2e47c1 144.5px,#343fb1 193.5px,#3638a3 394.5px,#3638a2 606.5px)"></i>
<i style="top:172px;background:linear-gradient(90deg,#3638a3 0.5px,#353ba9 116.5px,#3244ba 142.5px,#3046be 145.5px,#353eae 201.5px,#3637a2 441.5px,#3638a2 606.5px)"></i>
<i style="top:173px;background:linear-gradient(90deg,#3638a3 0.5px,#353ba9 117.5px,#3244ba 146.5px,#353dac 208.5px,#3637a1 463.5px,#3638a2 606.5px)"></i>
<i style="top:174px;height:2px;background:linear-gradient(90deg,#3638a2 0.5px,#353ba8 118.5px,#3342b7 147.5px,#353caa 218.5px,#3637a1 489.5px,#3637a2 606.5px)"></i>
<i style="top:176px;height:2px;background:linear-gradient(90deg,#3637a1 0.5px,#363aa7 119.5px,#3440b2 148.5px,#363aa6 247.5px,#3637a1 589.5px,#3637a1 606.5px)"></i>
<i style="top:178px;height:2px;background:linear-gradient(90deg,#3637a1 0.5px,#363aa7 121.5px,#353eae 149.5px,#3638a3 284.5px,#3637a1 606.5px)"></i>
<i style="top:180px;height:2px;background:linear-gradient(90deg,#3637a0 0.5px,#363aa6 123.5px,#353cab 151.5px,#3637a1 351.5px,#3637a0 606.5px)"></i>
<i style="top:182px;height:3px;background:linear-gradient(90deg,#3637a0 0.5px,#3639a5 126.5px,#353aa8 157.5px,#3636a0 499.5px,#3637a0 606.5px)"></i>
</div>
<div class="hm" style="top:279px;height:184px">
<i style="top:0px;background:linear-gradient(90deg,#0770df 0.5px,#0a72de 132.5px,#127dd8 150.5px,#1078da 219.5px,#0b73dd 251.5px,#137dd8 267.5px,#118ed2 274.5px,#06a2cb 281.5px,#0cadbc 287.5px,#31b8a2 299.5px,#3fba99 348.5px,#55bd8d 364.5px,#89bf76 382.5px,#d9ba56 408.5px,#f7ba45 424.5px,#fcbd3f 440.5px,#efb94b 454.5px,#c3bc5f 472.5px,#55bd8d 506.5px,#2ab6a6 531.5px,#15b1b4 555.5px,#13b0b6 606.5px)"></i>
<i style="top:1px;background:linear-gradient(90deg,#0871de 0.5px,#0b73dd 132.5px,#137dd7 150.5px,#1079da 218.5px,#0a73de 249.5px,#137ed7 267.5px,#108fd2 274.5px,#06a3cb 281.5px,#0dadbb 287.5px,#30b7a3 298.5px,#43bb97 348.5px,#5abd8b 363.5px,#95bf71 382.5px,#e9b94e 408.5px,#fdbe3e 418.5px,#fec931 434.5px,#fec239 451.5px,#f4ba47 460.5px,#b8bd63 480.5px,#59bd8b 507.5px,#2fb7a3 529.5px,#17b1b3 553.5px,#13b0b6 606.5px)"></i>
<i style="top:2px;background:linear-gradient(90deg,#0971de 0.5px,#0b74dd 132.5px,#137ed7 149.5px,#117ad9 216.5px,#0a72de 248.5px,#127dd8 266.5px,#118dd2 273.5px,#06a1cc 280.5px,#0aacbd 286.5px,#32b8a2 298.5px,#46bb96 346.5px,#5ebe89 361.5px,#97bf70 379.5px,#f7ba45 407.5px,#ffc436 414.5px,#f8d628 432.5px,#fbd02c 449.5px,#fdbe3d 462.5px,#dbba55 474.5px,#5bbd8b 509.5px,#32b8a1 528.5px,#19b2b2 551.5px,#14b0b6 606.5px)"></i>
<i style="top:3px;background:linear-gradient(90deg,#0972de 0.5px,#0c74dd 132.5px,#137fd6 149.5px,#127bd9 215.5px,#0972de 247.5px,#137dd8 266.5px,#118ed2 273.5px,#06a2cb 280.5px,#0cadbc 286.5px,#34b8a0 298.5px,#4bbc93 345.5px,#64be86 360.5px,#a3be6c 379.5px,#f8ba45 402.5px,#fec536 408.5px,#f5e21f 428.5px,#f5e31e 443.5px,#fdc931 462.5px,#fabc41 469.5px,#c4bc5e 484.5px,#5fbe89 510.5px,#36b99f 527.5px,#1bb2b0 549.5px,#15b0b5 587.5px,#14b0b5 606.5px)"></i>
<i style="top:4px;background:linear-gradient(90deg,#0a72de 0.5px,#0d75dc 132.5px,#1480d6 149.5px,#127cd8 214.5px,#0972de 246.5px,#137ed7 266.5px,#108fd2 273.5px,#06a3ca 280.5px,#0dadbb 286.5px,#36b99f 298.5px,#52bd8f 345.5px,#6bbf83 359.5px,#acbe68 378.5px,#f9bb43 398.5px,#fec833 404.5px,#f5eb18 422.5px,#f8f710 436.5px,#f5eb18 450.5px,#fdca30 467.5px,#fcbd40 473.5px,#d2bb59 484.5px,#63be87 511.5px,#39b99d 527.5px,#1db3af 548.5px,#16b1b3 580.5px,#15b1b4 606.5px)"></i>
<i style="top:5px;background:linear-gradient(90deg,#0b73dd 0.5px,#0d76dc 132.5px,#1481d6 149.5px,#137dd8 213.5px,#0971de 245.5px,#137fd7 266.5px,#118dd2 272.5px,#06a2cb 279.5px,#0cadbc 285.5px,#3bb99c 298.5px,#5bbe8a 345.5px,#7abf7d 360.5px,#bcbd61 379.5px,#f9bb43 394.5px,#fec634 399.5px,#f5eb18 414.5px,#f9fb0e 422.5px,#f8f810 453.5px,#f7db24 465.5px,#febe3d 476.5px,#dfba53 484.5px,#63be87 513.5px,#3bba9c 527.5px,#21b4ac 546.5px,#18b2b2 571.5px,#17b1b3 606.5px)"></i>
<i style="top:6px;background:linear-gradient(90deg,#0b74dd 0.5px,#0e76dc 132.5px,#1482d5 149.5px,#137ed7 212.5px,#0871de 244.5px,#137ed7 265.5px,#108fd2 272.5px,#06a1cc 278.5px,#0bacbd 284.5px,#40ba99 298.5px,#69be84 346.5px,#89bf76 361.5px,#cebb5a 380.5px,#fabc41 391.5px,#fec932 396.5px,#f5ea19 408.5px,#f9fb0e 414.5px,#f8f810 460.5px,#f7d925 470.5px,#fec03b 479.5px,#e8b94f 485.5px,#66be85 514.5px,#3fba9a 527.5px,#24b5aa 544.5px,#1ab2b1 567.5px,#18b2b2 606.5px)"></i>
<i style="top:7px;background:linear-gradient(90deg,#0c74dd 0.5px,#0e77db 132.5px,#1483d5 149.5px,#137fd7 211.5px,#0871de 243.5px,#137dd8 264.5px,#118ed2 271.5px,#06a3cb 278.5px,#0aacbd 283.5px,#48bb95 298.5px,#62be87 324.5px,#7cbf7b 349.5px,#a0be6d 364.5px,#ecb94c 384.5px,#febf3c 389.5px,#f6f015 405.5px,#f9fb0e 409.5px,#f8f80f 465.5px,#f6dc23 473.5px,#fec03b 482.5px,#e7b94f 488.5px,#69be84 515.5px,#40ba99 528.5px,#26b5a9 545.5px,#1cb3af 569.5px,#1ab2b1 606.5px)"></i>
<i style="top:8px;background:linear-gradient(90deg,#0c75dc 0.5px,#0f78db 132.5px,#1484d4 148.5px,#1480d6 210.5px,#0871de 242.5px,#137dd8 263.5px,#118dd2 270.5px,#06a2cb 277.5px,#0aacbd 282.5px,#4ebc91 297.5px,#5ebe89 305.5px,#8ebf74 350.5px,#b2bd66 365.5px,#f2b949 382.5px,#ffc338 387.5px,#f5ed17 400.5px,#f9fb0e 404.5px,#f8f90f 469.5px,#f7d925 477.5px,#febf3c 485.5px,#e4b951 491.5px,#6cbf82 516.5px,#43bb97 528.5px,#29b6a7 544.5px,#1eb3ae 567.5px,#1cb3b0 606.5px)"></i>
<i style="top:9px;background:linear-gradient(90deg,#0d75dc 0.5px,#0f78db 132.5px,#1485d4 148.5px,#1481d6 210.5px,#0871de 242.5px,#137ed7 263.5px,#0f90d2 270.5px,#06a2cb 276.5px,#0badbc 281.5px,#5bbe8a 297.5px,#6dbf82 305.5px,#8ebf74 334.5px,#a7be6a 354.5px,#cebb5a 369.5px,#f8ba45 380.5px,#ffc437 384.5px,#f5eb18 396.5px,#f9fb0e 400.5px,#f9fb0e 472.5px,#f6dd22 479.5px,#fec03b 487.5px,#eab94e 492.5px,#6fbf81 517.5px,#45bb96 529.5px,#2bb6a5 544.5px,#20b4ad 567.5px,#1eb3ae 606.5px)"></i>
<i style="top:10px;background:linear-gradient(90deg,#0d76dc 0.5px,#1079da 132.5px,#1486d4 148.5px,#1482d5 209.5px,#0871de 241.5px,#137ed7 261.5px,#118cd2 268.5px,#06a3cb 275.5px,#09abbf 279.5px,#32b8a1 287.5px,#6bbf83 297.5px,#80bf7a 305.5px,#9fbe6d 329.5px,#b9bd63 354.5px,#deba53 369.5px,#fcbd3f 378.5px,#fbd12b 385.5px,#f5ec17 393.5px,#f9fb0e 397.5px,#f9fb0e 475.5px,#f6db24 482.5px,#fec13a 489.5px,#efb94a 493.5px,#75bf7e 517.5px,#48bb94 529.5px,#2fb7a3 543.5px,#23b4ab 565.5px,#20b4ad 606.5px)"></i>
<i style="top:11px;background:linear-gradient(90deg,#0e76db 0.5px,#1079da 132.5px,#1487d3 148.5px,#1483d5 208.5px,#0871de 240.5px,#137dd8 259.5px,#118dd2 267.5px,#06a1cc 273.5px,#0bacbd 278.5px,#39b99d 286.5px,#75bf7f 295.5px,#8dbf74 302.5px,#b0bd66 324.5px,#d0bb5a 356.5px,#f5ba47 371.5px,#ffc436 377.5px,#f5ee16 390.5px,#f9fb0e 393.5px,#f8f90f 478.5px,#f6dc23 484.5px,#fec13a 491.5px,#efb94b 495.5px,#77bf7e 518.5px,#4cbc92 529.5px,#32b8a2 543.5px,#25b5a9 566.5px,#22b4ac 606.5px)"></i>
<i style="top:12px;background:linear-gradient(90deg,#0e77db 0.5px,#117ad9 132.5px,#1388d3 148.5px,#1485d4 207.5px,#0971de 239.5px,#127cd8 257.5px,#108ed2 266.5px,#06a2cb 272.5px,#09acbe 276.5px,#2bb6a5 282.5px,#77bf7d 292.5px,#9abf6f 299.5px,#c0bc60 318.5px,#e7b94f 358.5px,#fdbe3e 369.5px,#f9d429 379.5px,#f6ef16 387.5px,#f9fb0e 391.5px,#f9fb0e 480.5px,#f6dc23 486.5px,#fec03b 493.5px,#edb94c 497.5px,#78bf7d 519.5px,#4dbc92 530.5px,#34b8a0 543.5px,#28b6a8 565.5px,#24b5aa 606.5px)"></i>
<i style="top:13px;background:linear-gradient(90deg,#0f78db 0.5px,#117bd9 132.5px,#1389d3 148.5px,#1486d4 207.5px,#0b73dd 232.5px,#0d76dc 249.5px,#1389d3 263.5px,#06a1cd 270.5px,#09abbf 274.5px,#24b5aa 279.5px,#80bf7a 290.5px,#a7be6a 297.5px,#c7bc5d 309.5px,#e5b950 329.5px,#fabc41 358.5px,#fdcb30 370.5px,#f5ea19 382.5px,#f9fb0e 387.5px,#f9fb0e 482.5px,#f6dc23 488.5px,#febf3c 495.5px,#e4b950 500.5px,#75bf7f 521.5px,#4cbc93 532.5px,#34b8a0 546.5px,#29b6a7 573.5px,#26b5a9 606.5px)"></i>
<i style="top:14px;background:linear-gradient(90deg,#117ada 0.5px,#127cd8 132.5px,#128bd3 148.5px,#1487d3 206.5px,#0d76dc 228.5px,#0c74dd 245.5px,#1487d3 260.5px,#06a0cd 268.5px,#0badbc 273.5px,#2cb7a5 278.5px,#80bf7a 287.5px,#afbe67 294.5px,#cebb5a 302.5px,#f3ba48 320.5px,#fec13a 337.5px,#fbcf2c 364.5px,#f5e81b 377.5px,#f9fb0e 383.5px,#f9fa0e 484.5px,#f5de21 489.5px,#fec13a 496.5px,#edb94c 500.5px,#7fbf7a 520.5px,#52bd8f 531.5px,#3ab99d 543.5px,#2cb7a5 565.5px,#28b6a8 606.5px)"></i>
<i style="top:15px;background:linear-gradient(90deg,#117bd9 0.5px,#137ed7 132.5px,#128cd2 148.5px,#1388d3 206.5px,#0e77db 227.5px,#0c75dd 243.5px,#1487d3 258.5px,#06a2cc 267.5px,#0aacbd 271.5px,#2db7a4 276.5px,#87bf77 285.5px,#babd63 292.5px,#deba53 300.5px,#fcbd3f 312.5px,#fcce2d 329.5px,#f6de22 364.5px,#f7f412 376.5px,#f9fb0e 380.5px,#f8f810 486.5px,#f6dc23 491.5px,#fdbe3d 498.5px,#dcba54 504.5px,#75bf7e 523.5px,#4dbc92 534.5px,#37b99e 548.5px,#2cb6a5 582.5px,#2ab6a7 606.5px)"></i>
<i style="top:16px;background:linear-gradient(90deg,#127dd8 0.5px,#137fd6 132.5px,#118dd2 148.5px,#138ad3 205.5px,#0f78db 226.5px,#0d75dc 242.5px,#1487d3 256.5px,#06a1cc 265.5px,#09acbe 269.5px,#24b5aa 273.5px,#6fbf81 280.5px,#a8be6a 286.5px,#dbba55 294.5px,#fabc41 302.5px,#fdca31 310.5px,#f5e41d 332.5px,#f6ef15 364.5px,#f9fb0e 374.5px,#f9fb0e 487.5px,#f6dd22 492.5px,#febf3c 499.5px,#e3b951 504.5px,#7fbf7a 522.5px,#53bd8f 533.5px,#3bb99c 546.5px,#2fb7a3 573.5px,#2bb6a6 606.5px)"></i>
<i style="top:17px;background:linear-gradient(90deg,#137ed7 0.5px,#1481d6 132.5px,#108ed2 148.5px,#128bd2 205.5px,#1079da 225.5px,#0e76dc 241.5px,#1486d3 254.5px,#06a1cd 263.5px,#09abbf 267.5px,#24b5aa 271.5px,#5bbd8b 276.5px,#9ebe6e 282.5px,#daba55 290.5px,#fabc42 296.5px,#fec832 301.5px,#f5eb18 318.5px,#f9fb0e 330.5px,#f9fb0e 488.5px,#f5de21 493.5px,#febf3c 500.5px,#e3b951 505.5px,#7ebf7b 523.5px,#53bd8e 534.5px,#3cba9b 547.5px,#30b7a3 577.5px,#2db7a5 606.5px)"></i>
<i style="top:18px;background:linear-gradient(90deg,#1480d6 0.5px,#1482d5 132.5px,#0f90d2 148.5px,#118dd2 204.5px,#117bd9 224.5px,#0e77db 239.5px,#1486d3 252.5px,#06a1cd 261.5px,#08abc0 265.5px,#23b4ab 269.5px,#5cbe8a 274.5px,#99bf70 279.5px,#d5ba57 286.5px,#fbbc41 292.5px,#fdca31 296.5px,#f5ec18 308.5px,#f9fb0e 314.5px,#f9fb0e 489.5px,#f5de21 494.5px,#febf3d 501.5px,#e2b952 506.5px,#82bf79 523.5px,#56bd8d 534.5px,#3fba9a 546.5px,#32b8a1 572.5px,#2eb7a4 606.5px)"></i>
<i style="top:19px;background:linear-gradient(90deg,#1481d5 0.5px,#1484d4 132.5px,#0e91d2 148.5px,#118ed2 204.5px,#127cd8 223.5px,#0f78db 238.5px,#1388d3 251.5px,#06a0cd 259.5px,#08aac0 263.5px,#19b2b2 266.5px,#41bb98 270.5px,#91bf73 276.5px,#d4bb58 283.5px,#f9bb44 288.5px,#fec634 291.5px,#f5eb18 301.5px,#f9fb0e 306.5px,#f9fb0e 490.5px,#f6de22 495.5px,#fec238 501.5px,#f3ba48 504.5px,#9abf6f 519.5px,#62be87 531.5px,#46bb96 542.5px,#36b99f 561.5px,#2fb7a3 606.5px)"></i>
<i style="top:20px;background:linear-gradient(90deg,#1483d5 0.5px,#1486d4 132.5px,#0d92d2 148.5px,#108fd2 204.5px,#137dd8 223.5px,#1079da 238.5px,#128ad3 250.5px,#06a3cb 258.5px,#0bacbd 262.5px,#28b6a7 266.5px,#5abd8b 270.5px,#9dbe6e 275.5px,#e1b952 282.5px,#fdbe3e 286.5px,#f5e61b 295.5px,#f9fb0e 300.5px,#f9fb0e 491.5px,#f6dc22 496.5px,#fec13a 502.5px,#ebb94d 506.5px,#89bf76 523.5px,#5abd8b 534.5px,#42bb98 546.5px,#34b8a0 571.5px,#2fb7a3 606.5px)"></i>
<i style="top:21px;background:linear-gradient(90deg,#1485d4 0.5px,#1388d3 132.5px,#0c94d2 148.5px,#0f90d2 204.5px,#137ed7 223.5px,#117ad9 237.5px,#118cd2 249.5px,#06a2cb 256.5px,#0aacbe 260.5px,#26b5a9 264.5px,#57bd8d 268.5px,#9dbf6e 273.5px,#e4b950 280.5px,#fbbd40 283.5px,#fdcc30 286.5px,#f5ea19 292.5px,#f9fb0e 295.5px,#f8f90f 492.5px,#f7db24 497.5px,#febf3c 503.5px,#e2b952 508.5px,#86bf77 524.5px,#59bd8c 535.5px,#41ba98 547.5px,#34b8a0 573.5px,#2fb7a3 606.5px)"></i>
<i style="top:22px;background:linear-gradient(90deg,#1486d3 0.5px,#1389d3 132.5px,#0b96d1 148.5px,#0d92d2 204.5px,#137fd7 223.5px,#127cd8 237.5px,#128bd2 247.5px,#06a1cc 254.5px,#09abbf 258.5px,#23b4ab 262.5px,#44bb97 265.5px,#9abf6f 271.5px,#e6b950 278.5px,#fdbe3d 281.5px,#f6f015 290.5px,#f9fb0e 292.5px,#f9fb0e 492.5px,#f6dd22 497.5px,#fec13a 503.5px,#ebb94d 507.5px,#88bf76 524.5px,#5abd8b 535.5px,#42bb98 547.5px,#34b8a0 573.5px,#2fb7a3 606.5px)"></i>
<i style="top:23px;background:linear-gradient(90deg,#1388d3 0.5px,#128bd3 131.5px,#0998d1 148.5px,#0c94d2 204.5px,#1480d6 223.5px,#137dd8 236.5px,#118dd2 246.5px,#06a2cb 253.5px,#0bacbd 257.5px,#28b6a8 261.5px,#4bbc93 264.5px,#a2be6c 270.5px,#eeb94b 277.5px,#fdbe3d 279.5px,#f5ee16 287.5px,#f9fb0e 289.5px,#f8f90f 493.5px,#f7da24 498.5px,#fdbe3d 504.5px,#e0ba52 509.5px,#85bf78 525.5px,#58bd8c 536.5px,#41ba98 548.5px,#34b8a0 575.5px,#30b7a3 606.5px)"></i>
<i style="top:24px;background:linear-gradient(90deg,#128ad3 0.5px,#118dd2 131.5px,#0899d1 148.5px,#0a96d1 204.5px,#1481d6 224.5px,#1480d6 237.5px,#108ed2 245.5px,#06a3ca 252.5px,#0dadbb 256.5px,#2cb7a5 260.5px,#60be88 264.5px,#a8be6a 269.5px,#f5ba47 276.5px,#ffc337 278.5px,#f5e81a 284.5px,#f9fb0e 287.5px,#f9fb0e 493.5px,#f6db23 498.5px,#febf3c 504.5px,#e8b94e 508.5px,#8bbf75 524.5px,#5cbe8a 535.5px,#43bb97 547.5px,#35b8a0 572.5px,#30b7a3 606.5px)"></i>
<i style="top:25px;background:linear-gradient(90deg,#118dd2 0.5px,#0f90d2 132.5px,#079bd0 149.5px,#0998d1 204.5px,#1481d6 225.5px,#1482d5 237.5px,#0e92d2 245.5px,#06a4ca 251.5px,#09abbe 254.5px,#25b5a9 258.5px,#55bd8e 262.5px,#acbe68 268.5px,#f9bb43 275.5px,#fec734 277.5px,#f5e71b 282.5px,#f9fb0e 285.5px,#f9fb0e 493.5px,#f6dc23 498.5px,#fec03b 504.5px,#e9b94e 508.5px,#8cbf75 524.5px,#5dbe8a 535.5px,#43bb97 547.5px,#35b8a0 572.5px,#30b7a3 606.5px)"></i>
<i style="top:26px;background:linear-gradient(90deg,#0f8fd2 0.5px,#0d92d2 132.5px,#079dcf 149.5px,#0899d1 204.5px,#1482d5 226.5px,#1483d4 237.5px,#0b95d2 245.5px,#06a7c6 251.5px,#0eaeba 254.5px,#31b8a2 258.5px,#75bf7e 263.5px,#c6bc5e 269.5px,#f3b948 273.5px,#ffc338 275.5px,#f5eb18 281.5px,#f9fb0e 283.5px,#f9fb0e 493.5px,#f6dc23 498.5px,#fec03b 504.5px,#eab94e 508.5px,#8cbf75 524.5px,#5dbe89 535.5px,#44bb97 547.5px,#35b89f 571.5px,#30b7a3 606.5px)"></i>
<i style="top:27px;background:linear-gradient(90deg,#0d92d2 0.5px,#0b95d2 133.5px,#069ece 149.5px,#089ad0 205.5px,#1483d5 227.5px,#1487d3 238.5px,#06a1cc 248.5px,#09abbe 252.5px,#26b5a9 256.5px,#57bd8d 260.5px,#babd63 267.5px,#f3ba48 272.5px,#ffc337 274.5px,#f5e61c 279.5px,#f9fb0e 282.5px,#f9fb0e 493.5px,#f6dc23 498.5px,#fec03b 504.5px,#e9b94e 508.5px,#8cbf75 524.5px,#5ebe89 535.5px,#44bb97 547.5px,#35b89f 572.5px,#30b7a3 606.5px)"></i>
<i style="top:28px;background:linear-gradient(90deg,#0b95d2 0.5px,#0997d1 134.5px,#069fce 150.5px,#079cd0 205.5px,#1484d4 228.5px,#1389d3 238.5px,#06a1cd 247.5px,#09abbf 251.5px,#24b5aa 255.5px,#54bd8e 259.5px,#b7bd64 266.5px,#f2b949 271.5px,#ffc338 273.5px,#f5e61c 278.5px,#f8f710 280.5px,#f9fb0e 285.5px,#f9fa0e 493.5px,#f6db24 498.5px,#febf3c 504.5px,#e8b94e 508.5px,#8cbf75 524.5px,#5dbe89 535.5px,#44bb97 547.5px,#35b89f 572.5px,#30b7a3 606.5px)"></i>
<i style="top:29px;background:linear-gradient(90deg,#0a97d1 0.5px,#0998d1 134.5px,#06a1cc 149.5px,#079dcf 205.5px,#1484d4 230.5px,#118dd2 239.5px,#06a2cb 247.5px,#0badbd 251.5px,#2ab6a6 255.5px,#5ebe89 259.5px,#bfbc60 266.5px,#f9bb43 271.5px,#fec833 273.5px,#f5ec17 278.5px,#f9fb0e 280.5px,#f9fb0e 492.5px,#f5df21 497.5px,#ffc238 503.5px,#f3ba48 506.5px,#9abf6f 521.5px,#64be86 533.5px,#48bb94 544.5px,#38b99e 564.5px,#30b7a3 606.5px)"></i>
<i style="top:30px;background:linear-gradient(90deg,#0899d1 0.5px,#0899d1 134.5px,#06a2cb 148.5px,#069ece 206.5px,#1486d4 230.5px,#108ed2 239.5px,#06a4ca 247.5px,#09abbf 250.5px,#25b5aa 254.5px,#56bd8d 258.5px,#b9bd63 265.5px,#f4ba47 270.5px,#fcbd3f 271.5px,#fdcb30 273.5px,#f5e81a 277.5px,#f9fa0e 279.5px,#f9fb0e 492.5px,#f6dc23 497.5px,#fec13a 503.5px,#ebb94d 507.5px,#8abf76 524.5px,#5cbe8a 535.5px,#44bb97 547.5px,#35b89f 573.5px,#30b7a3 606.5px)"></i>
<i style="top:31px;background:linear-gradient(90deg,#079cd0 0.5px,#0998d1 129.5px,#06a3ca 148.5px,#06a0cd 206.5px,#1487d3 230.5px,#0f90d2 239.5px,#06a2cb 246.5px,#0aacbd 250.5px,#28b6a7 254.5px,#5bbe8a 258.5px,#b0bd66 264.5px,#f7ba45 270.5px,#febf3c 271.5px,#f5eb18 277.5px,#f9fb0e 279.5px,#f9fb0e 491.5px,#f5df21 496.5px,#febf3d 503.5px,#e2b952 508.5px,#88bf77 524.5px,#5bbe8a 535.5px,#43bb97 547.5px,#35b89f 573.5px,#30b7a3 606.5px)"></i>
<i style="top:32px;background:linear-gradient(90deg,#079ecf 0.5px,#089bd0 127.5px,#089ad0 134.5px,#06a5c9 144.5px,#06a2cc 206.5px,#0f90d2 222.5px,#1389d3 233.5px,#0999d1 242.5px,#08aac0 249.5px,#18b2b2 252.5px,#42bb98 256.5px,#a6be6b 263.5px,#f8bb44 270.5px,#fec733 272.5px,#f5ec18 277.5px,#f9fb0e 279.5px,#f8f90f 491.5px,#f6db23 496.5px,#fec03b 502.5px,#ebb94d 506.5px,#8bbf75 523.5px,#5dbe89 534.5px,#44bb97 546.5px,#35b89f 571.5px,#30b7a3 606.5px)"></i>
<i style="top:33px;background:linear-gradient(90deg,#06a0cd 0.5px,#079dcf 126.5px,#0899d1 133.5px,#06a6c7 143.5px,#06a4ca 205.5px,#0c93d2 221.5px,#128bd2 233.5px,#0899d1 242.5px,#08abc0 249.5px,#22b4ac 253.5px,#50bc90 257.5px,#b2bd65 264.5px,#f8ba44 270.5px,#fec734 272.5px,#f5eb18 277.5px,#f9fb0e 279.5px,#f9fa0e 490.5px,#f6dc23 495.5px,#fec139 501.5px,#f3b948 504.5px,#97bf70 520.5px,#62be87 532.5px,#48bb94 543.5px,#37b99e 564.5px,#30b7a3 606.5px)"></i>
<i style="top:34px;background:linear-gradient(90deg,#06a2cc 0.5px,#06a0cd 125.5px,#0899d1 133.5px,#06a7c6 142.5px,#06a5c8 204.5px,#0c94d2 222.5px,#118cd2 233.5px,#079ccf 243.5px,#08abc0 249.5px,#21b4ac 253.5px,#4fbc91 257.5px,#b0bd66 264.5px,#f6ba46 270.5px,#fdbe3d 271.5px,#f6f015 278.5px,#f8f90f 279.5px,#f9fa0e 489.5px,#f6dd22 494.5px,#fec239 500.5px,#f4ba47 503.5px,#9ebe6e 518.5px,#64be86 531.5px,#49bc94 542.5px,#38b99e 562.5px,#30b7a3 606.5px)"></i>
<i style="top:35px;background:linear-gradient(90deg,#06a4c9 0.5px,#06a2cc 125.5px,#0998d1 132.5px,#07a9c3 142.5px,#06a7c6 204.5px,#0b95d2 223.5px,#108ed2 234.5px,#06a1cc 245.5px,#0cadbc 250.5px,#29b6a7 254.5px,#5abd8b 258.5px,#b9bd63 265.5px,#f1b949 270.5px,#fec239 272.5px,#f5eb18 278.5px,#f9fb0e 280.5px,#f8f90f 488.5px,#f6dc23 493.5px,#fdbe3d 500.5px,#dcba54 506.5px,#82bf79 523.5px,#58bd8c 534.5px,#41ba98 547.5px,#34b8a0 578.5px,#30b7a3 606.5px)"></i>
<i style="top:36px;background:linear-gradient(90deg,#06a6c7 0.5px,#06a5c9 124.5px,#0998d1 132.5px,#06a3ca 137.5px,#10afb8 146.5px,#0daeba 153.5px,#08aac0 167.5px,#06a7c5 206.5px,#0b95d1 224.5px,#0f90d2 235.5px,#06a1cc 245.5px,#0bacbd 250.5px,#26b5a9 254.5px,#55bd8e 258.5px,#b3bd65 265.5px,#f5ba46 271.5px,#ffc436 273.5px,#f5ec18 279.5px,#f9fb0e 281.5px,#f9fb0e 486.5px,#f6db23 492.5px,#fec239 498.5px,#eeb94b 502.5px,#8cbf75 520.5px,#5cbe8a 532.5px,#44bb97 544.5px,#35b89f 570.5px,#30b7a3 606.5px)"></i>
<i style="top:37px;background:linear-gradient(90deg,#06a8c4 0.5px,#06a6c7 124.5px,#0998d1 131.5px,#06a1cc 136.5px,#09abbf 139.5px,#3dba9b 147.5px,#3dba9b 150.5px,#12afb7 157.5px,#09acbe 163.5px,#07a9c3 205.5px,#0a96d1 225.5px,#0e92d2 236.5px,#06a3ca 246.5px,#09acbe 250.5px,#23b4ab 254.5px,#4ebc91 258.5px,#b8bd63 266.5px,#f7ba45 272.5px,#ffc536 274.5px,#f5eb18 280.5px,#f9fa0e 282.5px,#f9f90f 485.5px,#f5de21 490.5px,#fec13a 497.5px,#edb94c 501.5px,#88bf77 520.5px,#5abd8b 532.5px,#42bb98 545.5px,#34b8a0 575.5px,#30b7a3 606.5px)"></i>
<i style="top:38px;background:linear-gradient(90deg,#08aac1 0.5px,#07a9c2 123.5px,#0998d1 130.5px,#079bd0 134.5px,#06a8c4 137.5px,#0badbc 138.5px,#26b5a9 140.5px,#79bf7d 144.5px,#98bf70 146.5px,#a5be6b 148.5px,#a1be6c 150.5px,#8bbf75 152.5px,#3bba9c 156.5px,#20b4ad 158.5px,#0faeb9 161.5px,#0badbc 188.5px,#06a7c5 211.5px,#0c94d2 229.5px,#0b95d1 239.5px,#06a5c9 247.5px,#0cadbc 251.5px,#27b5a8 255.5px,#54bd8e 259.5px,#afbe67 266.5px,#f7ba45 273.5px,#ffc436 275.5px,#f5e81b 281.5px,#f9fb0e 284.5px,#f9fb0e 483.5px,#f6db23 489.5px,#febf3c 496.5px,#e6b950 501.5px,#83bf79 520.5px,#57bd8c 532.5px,#40ba99 546.5px,#33b8a1 580.5px,#30b7a3 606.5px)"></i>
<i style="top:39px;background:linear-gradient(90deg,#09acbe 0.5px,#08abc0 123.5px,#089ad1 129.5px,#0899d1 133.5px,#06a7c6 136.5px,#0cadbc 137.5px,#1fb3ae 138.5px,#3bb99c 139.5px,#83bf79 141.5px,#bdbd61 143.5px,#e6b94f 145.5px,#f4ba47 146.5px,#febf3c 148.5px,#fcbd40 150.5px,#f4ba47 151.5px,#d4bb58 153.5px,#a3be6c 155.5px,#47bb95 158.5px,#32b8a2 159.5px,#1ab2b1 161.5px,#0faeb9 164.5px,#09abbf 206.5px,#0899d1 226.5px,#0c94d2 237.5px,#06a4c9 247.5px,#0aacbd 251.5px,#22b4ab 255.5px,#4bbc93 259.5px,#b0bd66 267.5px,#f5ba46 274.5px,#fec238 276.5px,#f5e91a 283.5px,#f9fb0e 286.5px,#f9fb0e 390.5px,#f6f115 392.5px,#f8f611 394.5px,#f9fb0e 397.5px,#f9fb0e 481.5px,#f6dd22 487.5px,#fec13a 494.5px,#eeb94b 498.5px,#87bf77 518.5px,#5abd8b 530.5px,#42bb98 543.5px,#34b8a0 572.5px,#2fb7a3 606.5px)"></i>
<i style="top:40px;background:linear-gradient(90deg,#0bacbd 0.5px,#0aacbd 123.5px,#079ccf 128.5px,#0998d1 132.5px,#06a4c9 135.5px,#09abbf 136.5px,#1eb3ae 137.5px,#43bb97 138.5px,#74bf7f 139.5px,#a1be6c 140.5px,#e7b94f 142.5px,#fec03b 143.5px,#f6de21 145.5px,#f6f313 147.5px,#f8f810 149.5px,#f5ea19 151.5px,#fbd02c 153.5px,#fec03b 154.5px,#e8b94f 155.5px,#81bf79 158.5px,#5cbe8a 159.5px,#3eba9a 160.5px,#2bb6a6 161.5px,#19b2b2 163.5px,#12afb7 168.5px,#0daeba 204.5px,#06a2cc 221.5px,#0b95d1 236.5px,#06a4ca 247.5px,#09abbf 251.5px,#1eb3ae 255.5px,#4fbc91 260.5px,#b1bd66 268.5px,#f9bb43 276.5px,#fec931 279.5px,#f5e81a 285.5px,#f9fb0e 288.5px,#f9fb0e 389.5px,#f5e919 392.5px,#f5ee16 394.5px,#f9fb0e 396.5px,#f9fa0e 479.5px,#f6dd22 485.5px,#fdbe3d 493.5px,#e0ba52 499.5px,#7dbf7b 519.5px,#54bd8e 531.5px,#3eba9a 546.5px,#31b8a2 587.5px,#2fb7a3 606.5px)"></i>
<i style="top:41px;background:linear-gradient(90deg,#0bacbd 0.5px,#11afb7 102.5px,#10afb8 122.5px,#06a5c8 126.5px,#0998d1 130.5px,#079cd0 133.5px,#06a8c5 135.5px,#13b0b6 136.5px,#36b99f 137.5px,#6dbf82 138.5px,#a3be6b 139.5px,#d0bb5a 140.5px,#f6ba46 141.5px,#fccd2e 142.5px,#f5e21e 143.5px,#f8f810 144.5px,#f8f810 153.5px,#f5e21e 154.5px,#fcce2e 155.5px,#f7ba45 156.5px,#5fbe89 160.5px,#40ba99 161.5px,#2db7a5 162.5px,#1cb3b0 164.5px,#16b1b4 171.5px,#11afb7 204.5px,#06a5c8 220.5px,#0a97d1 236.5px,#06a3ca 247.5px,#0bacbd 252.5px,#29b6a7 257.5px,#5dbe89 262.5px,#afbe67 269.5px,#f4ba47 277.5px,#ffc436 280.5px,#f5ea19 288.5px,#f9fb0e 291.5px,#f9fb0e 388.5px,#f8f710 389.5px,#f5e61c 391.5px,#f5e31e 393.5px,#f6ef16 395.5px,#f9fa0e 396.5px,#f9fb0e 476.5px,#f6dc23 483.5px,#febf3c 491.5px,#e2b952 497.5px,#7cbf7c 518.5px,#54bd8e 530.5px,#3eba9a 545.5px,#31b8a2 587.5px,#2fb7a3 606.5px)"></i>
<i style="top:42px;background:linear-gradient(90deg,#0aacbd 0.5px,#10afb8 36.5px,#17b1b3 66.5px,#15b1b4 122.5px,#06a6c7 126.5px,#089ad0 129.5px,#079dcf 133.5px,#07aac1 135.5px,#1bb2b0 136.5px,#48bb94 137.5px,#87bf77 138.5px,#bcbd62 139.5px,#e8b94e 140.5px,#fec833 141.5px,#f5df21 142.5px,#f8f80f 143.5px,#f8f80f 154.5px,#f5df21 155.5px,#fec832 156.5px,#ecb94d 157.5px,#75bf7e 160.5px,#51bc90 161.5px,#38b99d 162.5px,#2ab6a6 163.5px,#1eb3ae 165.5px,#15b1b4 204.5px,#06a6c7 221.5px,#0899d1 236.5px,#06a5c9 248.5px,#0dadbb 253.5px,#2cb6a5 258.5px,#5ebe89 263.5px,#acbe68 270.5px,#f4ba47 279.5px,#ffc338 282.5px,#f5ed17 292.5px,#f9fb0e 295.5px,#f9fb0e 387.5px,#f8f710 388.5px,#f5e020 391.5px,#f6dd22 393.5px,#f6f115 396.5px,#f9fb0e 397.5px,#f9fb0e 473.5px,#f5de21 480.5px,#febf3d 489.5px,#e2b951 495.5px,#7abf7c 517.5px,#53bd8e 529.5px,#3eba9a 544.5px,#31b8a2 586.5px,#2fb7a3 606.5px)"></i>
<i style="top:43px;background:linear-gradient(90deg,#0aacbe 0.5px,#0eaeba 30.5px,#20b4ad 57.5px,#1db3af 122.5px,#0aacbe 125.5px,#079dcf 128.5px,#0899d1 131.5px,#06a3cb 134.5px,#07aac1 135.5px,#1db3af 136.5px,#4bbc93 137.5px,#8abf76 138.5px,#bfbc61 139.5px,#ebb94d 140.5px,#fec932 141.5px,#f5e020 142.5px,#f8f90f 143.5px,#f9f90f 154.5px,#f5e020 155.5px,#fec931 156.5px,#eeb94b 157.5px,#7bbf7c 160.5px,#57bd8c 161.5px,#3eba9a 162.5px,#30b7a3 163.5px,#23b5ab 165.5px,#1ab2b1 204.5px,#06a7c6 222.5px,#079bd0 237.5px,#06a5c9 248.5px,#0badbc 253.5px,#26b5a9 258.5px,#54bd8e 263.5px,#a0be6d 270.5px,#deba53 278.5px,#fbbc41 283.5px,#fdca30 287.5px,#f5ec17 296.5px,#f9fb0e 300.5px,#f9fb0e 386.5px,#f5de21 390.5px,#f7d826 393.5px,#f5e81b 396.5px,#f9fb0e 398.5px,#f9fa0e 469.5px,#f7db24 478.5px,#fec13a 486.5px,#ecb94c 491.5px,#7cbf7c 515.5px,#54bd8e 527.5px,#3eba9a 542.5px,#32b8a2 582.5px,#2fb7a3 606.5px)"></i>
<i style="top:44px;background:linear-gradient(90deg,#09abbf 0.5px,#0dadbb 28.5px,#29b6a7 55.5px,#28b6a8 121.5px,#21b4ac 123.5px,#06a8c3 126.5px,#089bd0 129.5px,#079dcf 133.5px,#06a8c4 135.5px,#16b1b4 136.5px,#3eba9a 137.5px,#79bf7d 138.5px,#adbe67 139.5px,#d8ba56 140.5px,#fbbc41 141.5px,#fbd12b 142.5px,#f5e51c 143.5px,#f9fa0e 144.5px,#f9fa0e 153.5px,#f5e51c 154.5px,#fbbd40 156.5px,#b8bd63 158.5px,#71bf80 160.5px,#53bd8f 161.5px,#3eba9a 162.5px,#2bb6a6 164.5px,#25b5aa 169.5px,#21b4ac 202.5px,#06a8c4 223.5px,#079dcf 238.5px,#06a6c7 249.5px,#0eaeba 254.5px,#30b7a2 260.5px,#6abe83 266.5px,#acbe68 273.5px,#ebb94d 283.5px,#fdbe3e 287.5px,#f7da24 296.5px,#f9f90f 305.5px,#f8f810 383.5px,#f6dc23 389.5px,#fad22a 392.5px,#f7d925 395.5px,#f8f611 399.5px,#f9fb0e 402.5px,#f9f90f 458.5px,#f7da24 474.5px,#febf3d 484.5px,#e1ba52 491.5px,#75bf7e 515.5px,#51bd90 527.5px,#3dba9b 543.5px,#30b7a3 593.5px,#2fb7a3 606.5px)"></i>
<i style="top:45px;background:linear-gradient(90deg,#07aac1 0.5px,#0aacbd 26.5px,#32b8a1 54.5px,#32b8a1 121.5px,#29b6a7 123.5px,#07aac1 126.5px,#069fce 128.5px,#089ad0 132.5px,#06a0cd 134.5px,#06a6c7 135.5px,#0dadbb 136.5px,#29b6a7 137.5px,#8bbf75 139.5px,#b4bd65 140.5px,#f3ba48 142.5px,#fec634 143.5px,#f5e31e 145.5px,#f8f710 147.5px,#f9fb0e 149.5px,#f5ef16 151.5px,#f9d528 153.5px,#fec634 154.5px,#f3ba48 155.5px,#5ebe89 160.5px,#48bb94 161.5px,#33b8a1 163.5px,#2bb6a6 167.5px,#26b5a9 202.5px,#09abbe 221.5px,#06a0cd 236.5px,#06a5c8 248.5px,#0dadbb 254.5px,#2cb6a5 260.5px,#5fbe88 266.5px,#9ebe6e 273.5px,#daba55 283.5px,#fcbd3f 291.5px,#fbd02c 298.5px,#f5ee16 309.5px,#f9fb0e 315.5px,#f8f90f 364.5px,#f5e21f 385.5px,#fccd2e 392.5px,#f8d726 396.5px,#f6f313 401.5px,#f9fb0e 404.5px,#f9fb0e 450.5px,#f6dd22 455.5px,#fad32a 460.5px,#fdca31 475.5px,#fabc41 482.5px,#bebc61 496.5px,#6bbe83 516.5px,#4cbc92 528.5px,#3ab99d 546.5px,#2fb7a3 606.5px)"></i>
<i style="top:46px;background:linear-gradient(90deg,#06a8c4 0.5px,#08abc0 25.5px,#1bb2b0 37.5px,#3cba9b 53.5px,#3cba9b 121.5px,#32b8a1 123.5px,#09abbe 126.5px,#06a0cd 128.5px,#089ad0 132.5px,#06a3ca 135.5px,#08aac1 136.5px,#19b2b2 137.5px,#38b99e 138.5px,#86bf77 140.5px,#bdbd61 142.5px,#e6b94f 144.5px,#f6ba46 145.5px,#fec03c 146.5px,#fec832 148.5px,#fec535 150.5px,#fec03c 151.5px,#f6ba46 152.5px,#d3bb58 154.5px,#5cbe8a 159.5px,#40ba99 161.5px,#32b8a1 164.5px,#2bb6a6 203.5px,#0aacbe 223.5px,#06a2cc 238.5px,#06a8c3 250.5px,#10afb8 255.5px,#35b89f 262.5px,#91bf73 273.5px,#c9bc5d 283.5px,#f9bb43 295.5px,#fec833 301.5px,#f5ea19 318.5px,#f9fa0e 333.5px,#f7f313 349.5px,#f7da25 376.5px,#fad32a 386.5px,#fec734 392.5px,#f9d329 397.5px,#f5ed17 405.5px,#f9fb0e 414.5px,#f8f80f 447.5px,#f6db23 450.5px,#ffc337 453.5px,#eeb94b 456.5px,#e6b950 459.5px,#f7ba45 474.5px,#ebb94d 482.5px,#65be86 516.5px,#48bb95 529.5px,#37b99e 551.5px,#2fb7a3 606.5px)"></i>
<i style="top:47px;background:linear-gradient(90deg,#06a7c6 0.5px,#07a9c2 24.5px,#15b1b4 34.5px,#46bb96 52.5px,#49bc94 73.5px,#48bb94 121.5px,#3cba9b 123.5px,#0cadbb 126.5px,#06a7c5 127.5px,#089bd0 130.5px,#079dcf 134.5px,#06a8c4 136.5px,#10afb8 137.5px,#20b4ad 138.5px,#06a8c4 140.5px,#0badbc 150.5px,#069ece 157.5px,#0a96d1 165.5px,#0e91d2 212.5px,#1481d5 240.5px,#118cd2 256.5px,#06a2cc 271.5px,#0cadbb 286.5px,#42bb98 323.5px,#47bb95 341.5px,#32b8a1 380.5px,#29b6a7 393.5px,#48bb95 407.5px,#5fbe88 430.5px,#5cbe8a 444.5px,#48bb94 447.5px,#53bd8f 448.5px,#b3bd65 449.5px,#f5ba46 450.5px,#f0b94a 451.5px,#abbe68 455.5px,#96bf71 457.5px,#93bf72 459.5px,#d3bb58 475.5px,#d8ba56 481.5px,#c4bc5e 489.5px,#65be86 514.5px,#48bb95 527.5px,#37b99e 549.5px,#2fb7a3 606.5px)"></i>
<i style="top:48px;background:linear-gradient(90deg,#06a5c8 0.5px,#06a8c4 24.5px,#11afb8 32.5px,#51bd90 52.5px,#56bd8d 63.5px,#54bd8e 121.5px,#48bb95 123.5px,#11afb8 126.5px,#07a9c3 127.5px,#069ece 129.5px,#079bd0 133.5px,#06a8c4 136.5px,#14b0b5 138.5px,#079cd0 139.5px,#0d76dc 140.5px,#046de0 142.5px,#0363e1 144.5px,#1e54d5 146.5px,#264fcd 148.5px,#2350d0 447.5px,#036ae1 448.5px,#19b2b2 449.5px,#bdbd61 450.5px,#bbbd62 451.5px,#5abd8b 454.5px,#3fba9a 455.5px,#2db7a5 456.5px,#23b4ab 457.5px,#21b4ac 459.5px,#3ab99c 464.5px,#7bbf7c 471.5px,#a3be6c 476.5px,#b8bd63 481.5px,#b7bd63 487.5px,#88bf76 501.5px,#58bd8c 516.5px,#40ba99 531.5px,#33b8a1 563.5px,#2fb7a3 606.5px)"></i>
<i style="top:49px;background:linear-gradient(90deg,#06a5c8 0.5px,#06a8c4 23.5px,#11afb7 31.5px,#41ba98 43.5px,#63be86 52.5px,#69be84 61.5px,#67be85 121.5px,#5abd8b 123.5px,#48bb94 124.5px,#19b2b2 126.5px,#09abbf 127.5px,#06a0cd 129.5px,#079dcf 133.5px,#07a9c2 136.5px,#10afb8 137.5px,#14b0b5 138.5px,#0998d1 139.5px,#0770df 140.5px,#0268e1 141.5px,#095fdf 143.5px,#274ecc 145.5px,#3243ba 147.5px,#3144bb 446.5px,#3045bd 447.5px,#0363e1 448.5px,#0aacbe 449.5px,#92bf72 450.5px,#82bf79 451.5px,#50bc90 452.5px,#26b5a9 453.5px,#0cadbc 454.5px,#06a5c8 455.5px,#0a97d1 457.5px,#089ad0 461.5px,#07a9c3 467.5px,#14b0b5 470.5px,#3bb99c 474.5px,#7fbf7a 480.5px,#97bf70 484.5px,#9cbf6e 489.5px,#81bf7a 499.5px,#53bd8f 515.5px,#3dba9b 532.5px,#31b8a2 577.5px,#2eb7a4 606.5px)"></i>
<i style="top:50px;background:linear-gradient(90deg,#06a7c5 0.5px,#07a9c2 22.5px,#12b0b7 29.5px,#39b99d 38.5px,#72bf80 49.5px,#80bf7a 55.5px,#80bf7a 121.5px,#73bf80 123.5px,#5fbe88 124.5px,#26b5a9 126.5px,#10afb9 127.5px,#06a8c4 128.5px,#069fcd 130.5px,#06a2cc 134.5px,#09abbf 136.5px,#15b1b4 137.5px,#18b2b2 138.5px,#0a97d1 139.5px,#036be0 140.5px,#0661e0 141.5px,#0c5dde 142.5px,#284dcb 144.5px,#343fb2 146.5px,#353caa 148.5px,#353cac 446.5px,#343eaf 447.5px,#105bdd 448.5px,#06a7c6 449.5px,#6ebf82 450.5px,#50bc90 451.5px,#1fb3ae 452.5px,#06a8c4 453.5px,#0999d1 454.5px,#1487d3 455.5px,#0e77db 457.5px,#1480d6 465.5px,#108ed2 469.5px,#06a2cb 473.5px,#07aac1 475.5px,#1eb3ae 478.5px,#62be87 484.5px,#77bf7e 487.5px,#7fbf7a 491.5px,#6cbf82 500.5px,#49bc94 516.5px,#37b99e 537.5px,#2eb7a4 606.5px)"></i>
<i style="top:51px;background:linear-gradient(90deg,#07aac2 0.5px,#09acbe 22.5px,#1ab2b1 29.5px,#43bb97 37.5px,#80bf7a 47.5px,#95bf71 54.5px,#96bf71 121.5px,#8abf76 123.5px,#78bf7d 124.5px,#37b99e 126.5px,#1ab2b1 127.5px,#09abbe 128.5px,#06a2cb 130.5px,#06a1cc 133.5px,#07a9c3 135.5px,#0eaeba 136.5px,#1db3af 137.5px,#1fb3ae 138.5px,#0a97d1 139.5px,#0268e1 140.5px,#0e5cde 141.5px,#2450d0 143.5px,#3341b4 145.5px,#3638a2 147.5px,#3638a3 446.5px,#363aa6 447.5px,#1c55d6 448.5px,#06a4c9 449.5px,#5bbd8b 450.5px,#3ab99d 451.5px,#0eaeba 452.5px,#069fce 453.5px,#138ad3 454.5px,#117bd9 455.5px,#036be1 457.5px,#0870df 467.5px,#1486d3 474.5px,#069fce 478.5px,#0bacbd 481.5px,#4ebc91 488.5px,#60be88 492.5px,#5ebe89 498.5px,#40ba99 518.5px,#33b8a1 548.5px,#2eb7a4 606.5px)"></i>
<i style="top:52px;background:linear-gradient(90deg,#0bacbd 0.5px,#0eaeba 21.5px,#21b4ac 28.5px,#47bb95 35.5px,#8bbf75 45.5px,#a6be6b 52.5px,#abbe68 61.5px,#aabe69 121.5px,#9fbe6d 123.5px,#8fbf73 124.5px,#73bf7f 125.5px,#29b6a7 127.5px,#11afb7 128.5px,#07a9c2 129.5px,#06a3ca 132.5px,#09acbe 135.5px,#26b5a9 137.5px,#26b5a9 138.5px,#0998d1 139.5px,#0268e1 140.5px,#115adc 141.5px,#264ecd 143.5px,#343fb1 145.5px,#36369f 147.5px,#36369f 446.5px,#3637a2 447.5px,#2251d1 448.5px,#06a3ca 449.5px,#5dbe89 450.5px,#41ba99 451.5px,#14b0b5 452.5px,#06a3ca 453.5px,#1480d6 455.5px,#0972de 457.5px,#0269e1 469.5px,#0d75dc 475.5px,#1388d3 479.5px,#06a3ca 483.5px,#0aacbe 485.5px,#3ab99c 491.5px,#49bc94 495.5px,#3fba99 510.5px,#33b8a1 543.5px,#2eb7a4 606.5px)"></i>
<i style="top:53px;background:linear-gradient(90deg,#12b0b6 0.5px,#15b0b5 20.5px,#29b6a7 27.5px,#53bd8e 34.5px,#93bf72 43.5px,#b3bd65 50.5px,#bebc61 57.5px,#bdbd61 121.5px,#b4bd65 123.5px,#a5be6b 124.5px,#8cbf75 125.5px,#3dba9b 127.5px,#1fb3ae 128.5px,#0dadbb 129.5px,#06a7c6 131.5px,#08abc0 134.5px,#10afb8 135.5px,#32b8a1 137.5px,#2fb7a3 138.5px,#089bd0 139.5px,#0269e1 140.5px,#0e5cde 141.5px,#2450d0 143.5px,#3341b4 145.5px,#3638a2 147.5px,#3638a3 447.5px,#2351d0 448.5px,#06a3ca 449.5px,#68be84 450.5px,#53bd8e 451.5px,#26b5a9 452.5px,#09acbe 453.5px,#06a0cd 454.5px,#1389d3 456.5px,#0f78db 464.5px,#0268e1 473.5px,#0871de 478.5px,#1483d5 482.5px,#06a1cd 486.5px,#07aac1 488.5px,#2eb7a4 494.5px,#38b99e 499.5px,#2eb7a4 606.5px)"></i>
<i style="top:54px;background:linear-gradient(90deg,#1fb3ae 0.5px,#22b4ac 20.5px,#3ab99c 27.5px,#71bf80 35.5px,#acbe68 44.5px,#cabb5c 52.5px,#cfbb5a 61.5px,#ccbb5b 122.5px,#c7bc5d 123.5px,#babd62 124.5px,#a4be6b 125.5px,#82bf79 126.5px,#31b8a2 128.5px,#19b2b1 129.5px,#0dadbb 130.5px,#08aac0 132.5px,#0faeb9 134.5px,#2cb7a5 136.5px,#3fba99 137.5px,#3ab99d 138.5px,#079ecf 139.5px,#046ce0 140.5px,#0661e0 141.5px,#0c5dde 142.5px,#284dcb 144.5px,#343fb2 146.5px,#353caa 148.5px,#353caa 447.5px,#1e54d5 448.5px,#06a4c9 449.5px,#74bf7f 450.5px,#6dbf82 451.5px,#44bb97 452.5px,#23b5ab 453.5px,#0eaeba 454.5px,#06a8c4 455.5px,#06a1cd 458.5px,#0f90d2 464.5px,#1480d6 468.5px,#0269e1 476.5px,#046ce0 480.5px,#1483d5 485.5px,#06a1cc 489.5px,#0cadbb 492.5px,#25b5a9 497.5px,#2eb7a4 507.5px,#2eb7a4 606.5px)"></i>
<i style="top:55px;background:linear-gradient(90deg,#31b8a2 0.5px,#33b8a1 19.5px,#46bb96 25.5px,#82bf79 34.5px,#bfbc61 44.5px,#dcba54 52.5px,#e1ba52 62.5px,#deba53 122.5px,#d9ba56 123.5px,#cebb5a 124.5px,#babd62 125.5px,#9dbe6e 126.5px,#4bbc93 128.5px,#2cb7a5 129.5px,#1bb2b0 130.5px,#12b0b6 131.5px,#14b0b6 133.5px,#2ab6a6 135.5px,#50bc90 137.5px,#46bb96 138.5px,#06a1cc 139.5px,#0871de 140.5px,#0268e1 141.5px,#095fdf 143.5px,#274ecc 145.5px,#3243ba 147.5px,#3243b9 447.5px,#105bdd 448.5px,#06a5c8 449.5px,#7dbf7b 450.5px,#80bf7a 451.5px,#47bb95 453.5px,#31b8a2 454.5px,#23b4ab 455.5px,#19b2b2 457.5px,#06a8c4 464.5px,#0b96d1 469.5px,#1484d4 472.5px,#0269e1 479.5px,#0269e1 482.5px,#137fd7 487.5px,#108fd2 489.5px,#069fce 491.5px,#09abbe 494.5px,#1fb3ad 500.5px,#2db7a4 525.5px,#2eb7a4 606.5px)"></i>
<i style="top:56px;background:linear-gradient(90deg,#47bb95 0.5px,#49bc94 19.5px,#5fbe89 25.5px,#c7bc5d 42.5px,#ebb94d 51.5px,#f2b949 58.5px,#f6ba46 77.5px,#ffc238 89.5px,#fec239 122.5px,#fabb42 124.5px,#edb94c 125.5px,#bfbc61 127.5px,#88bf77 129.5px,#72bf80 130.5px,#65be86 131.5px,#61be88 132.5px,#65be86 133.5px,#9bbf6f 137.5px,#8bbf75 138.5px,#0aacbd 139.5px,#0f78db 140.5px,#066fdf 141.5px,#0363e1 144.5px,#1e54d5 146.5px,#264fcd 148.5px,#264fcd 447.5px,#0364e1 448.5px,#06a6c7 449.5px,#7ebf7b 450.5px,#8abf76 451.5px,#55bd8e 454.5px,#49bc94 455.5px,#22b4ac 464.5px,#07aac1 469.5px,#0999d1 473.5px,#1483d5 476.5px,#036be0 481.5px,#0268e1 484.5px,#0a73de 487.5px,#1486d4 490.5px,#069fce 493.5px,#09abbf 496.5px,#1ab2b1 502.5px,#2cb6a5 527.5px,#2eb7a4 606.5px)"></i>
<i style="top:57px;background:linear-gradient(90deg,#60be88 0.5px,#62be87 19.5px,#78bf7d 25.5px,#e2b951 44.5px,#fabc42 51.5px,#febf3c 60.5px,#ffc238 74.5px,#f6db23 80.5px,#f9fb0e 85.5px,#f9fb0e 137.5px,#f7f611 138.5px,#f4ba48 139.5px,#94bf72 140.5px,#7fbf7a 141.5px,#5bbe8a 147.5px,#46bb95 158.5px,#29b6a7 167.5px,#09acbe 171.5px,#069fce 174.5px,#089ad1 177.5px,#06a5c9 180.5px,#0daeba 182.5px,#36b99f 186.5px,#4cbc92 191.5px,#5cbe8a 201.5px,#5dbe89 274.5px,#53bd8e 275.5px,#2db7a4 277.5px,#16b1b4 278.5px,#07aac1 279.5px,#069fce 281.5px,#069fce 300.5px,#08abc0 302.5px,#18b1b2 303.5px,#45bb96 305.5px,#55bd8d 306.5px,#5fbe89 307.5px,#61be88 386.5px,#5dbe8a 388.5px,#44bb97 390.5px,#1ab2b1 393.5px,#0aacbd 395.5px,#06a8c4 399.5px,#0cadbb 407.5px,#2fb7a3 416.5px,#5dbe89 427.5px,#6cbf83 436.5px,#64be86 445.5px,#5fbe88 447.5px,#75bf7f 448.5px,#ddba54 449.5px,#f6dc23 450.5px,#f6dd22 451.5px,#fec634 453.5px,#fcbd3f 454.5px,#ecb94d 456.5px,#b5bd65 462.5px,#7fbf7a 466.5px,#2ab6a6 471.5px,#10afb8 473.5px,#08aac0 474.5px,#0997d1 477.5px,#1485d4 479.5px,#0269e1 484.5px,#0267e1 486.5px,#0b73dd 489.5px,#1480d6 491.5px,#0d92d2 493.5px,#06a1cc 495.5px,#0dadbb 499.5px,#20b4ad 511.5px,#2eb7a4 539.5px,#2eb7a4 606.5px)"></i>
<i style="top:58px;background:linear-gradient(90deg,#79bf7d 0.5px,#7bbf7c 19.5px,#94bf72 26.5px,#f7ba45 45.5px,#ffc437 50.5px,#fdca30 60.5px,#fcce2e 74.5px,#f5e31e 79.5px,#f9fa0e 82.5px,#f9fb0e 159.5px,#f6db23 165.5px,#fccd2e 167.5px,#ffc238 168.5px,#f2b949 169.5px,#b7bd64 171.5px,#45bb96 174.5px,#2fb7a3 175.5px,#25b5a9 176.5px,#26b5a9 177.5px,#32b8a1 178.5px,#4cbc92 179.5px,#a0be6d 181.5px,#ebb94d 183.5px,#ffc437 184.5px,#f5e21f 186.5px,#f8f810 188.5px,#f9fb0e 276.5px,#f7da24 277.5px,#f2b949 278.5px,#b7bd64 279.5px,#82bf79 280.5px,#60be88 281.5px,#54bd8e 282.5px,#55bd8e 299.5px,#61be87 300.5px,#85bf78 301.5px,#babd63 302.5px,#f4ba47 303.5px,#f6dc23 304.5px,#f9fb0e 305.5px,#f9fb0e 389.5px,#f6f213 390.5px,#f7da25 391.5px,#fec535 392.5px,#f0b94a 393.5px,#c0bc60 395.5px,#aebe67 396.5px,#a2be6c 397.5px,#a2be6c 401.5px,#babd63 405.5px,#f2b949 411.5px,#fec13a 413.5px,#f5eb18 420.5px,#f9fb0e 423.5px,#f8f810 451.5px,#f7da24 454.5px,#febe3d 459.5px,#e4b951 462.5px,#a8be6a 467.5px,#67be85 471.5px,#21b4ac 475.5px,#09abbf 477.5px,#069fce 479.5px,#138ad3 481.5px,#1079da 483.5px,#0269e1 486.5px,#0268e1 488.5px,#137dd7 492.5px,#0f8fd2 494.5px,#06a0cd 496.5px,#0eaeba 501.5px,#24b5aa 519.5px,#2eb7a3 553.5px,#2eb7a4 606.5px)"></i>
<i style="top:59px;background:linear-gradient(90deg,#90bf73 0.5px,#92bf72 19.5px,#a9be69 26.5px,#f6ba46 41.5px,#ffc337 45.5px,#f9d528 55.5px,#f7d825 74.5px,#f5ed17 79.5px,#f9fa0e 81.5px,#f9fb0e 158.5px,#f5de21 163.5px,#fdcc2f 166.5px,#ffc338 167.5px,#f5ba47 168.5px,#dcba54 169.5px,#bcbd61 170.5px,#95bf71 171.5px,#38b99e 173.5px,#1bb2b0 174.5px,#0cadbb 175.5px,#08aac0 177.5px,#0eaeba 178.5px,#1fb3ad 179.5px,#41ba98 180.5px,#a8be6a 182.5px,#d2bb59 183.5px,#f5ba46 184.5px,#fdca31 185.5px,#f5e51c 187.5px,#f8f90f 189.5px,#f9fb0e 276.5px,#f7da24 277.5px,#f2b949 278.5px,#b6bd64 279.5px,#82bf79 280.5px,#5fbe89 281.5px,#54bd8e 282.5px,#54bd8e 299.5px,#60be88 300.5px,#83bf78 301.5px,#b8bd63 302.5px,#f3ba48 303.5px,#f6db23 304.5px,#f9fb0e 305.5px,#f9fb0e 389.5px,#f6ef15 390.5px,#ffc337 392.5px,#eeb94b 393.5px,#c1bc60 395.5px,#b0bd67 396.5px,#a5be6b 397.5px,#a3be6c 400.5px,#b1bd66 403.5px,#ebb94d 409.5px,#fdbe3e 411.5px,#f5ee16 418.5px,#f9fb0e 420.5px,#f9fb0e 453.5px,#f6db23 458.5px,#fec239 462.5px,#f0b94a 464.5px,#a5be6b 470.5px,#63be87 474.5px,#1db3af 478.5px,#07a9c2 480.5px,#0899d1 482.5px,#1482d5 484.5px,#046ce0 487.5px,#0267e1 489.5px,#066edf 491.5px,#1485d4 494.5px,#06a1cc 497.5px,#0eaeba 502.5px,#25b5a9 521.5px,#2eb7a4 556.5px,#2db7a4 606.5px)"></i>
<i style="top:60px;background:linear-gradient(90deg,#a0be6d 0.5px,#a1be6c 19.5px,#bbbd62 27.5px,#f8ba45 39.5px,#fec535 43.5px,#f6dd22 54.5px,#f5e11f 74.5px,#f7f512 79.5px,#f9fb0e 81.5px,#f9fa0e 157.5px,#f6db23 162.5px,#ffc338 166.5px,#f7ba45 167.5px,#e2b951 168.5px,#c6bc5e 169.5px,#a0be6d 170.5px,#6fbf81 171.5px,#3bb99c 172.5px,#17b1b3 173.5px,#07a9c3 174.5px,#069ece 176.5px,#06a3cb 178.5px,#08aac1 179.5px,#1db3af 180.5px,#49bc94 181.5px,#86bf78 182.5px,#b9bd63 183.5px,#e1b952 184.5px,#febf3c 185.5px,#fbd02c 186.5px,#f5e81b 188.5px,#f8f90f 190.5px,#f9fb0e 276.5px,#f7da24 277.5px,#f1b949 278.5px,#b6bd64 279.5px,#81bf79 280.5px,#5fbe89 281.5px,#54bd8e 282.5px,#54bd8e 299.5px,#5fbe88 300.5px,#82bf79 301.5px,#b7bd64 302.5px,#f2b949 303.5px,#f7db24 304.5px,#f9fb0e 305.5px,#f9fb0e 389.5px,#f5ec17 390.5px,#fec239 392.5px,#edb94c 393.5px,#c3bc5f 395.5px,#a9be69 397.5px,#a8be6a 400.5px,#b8bd63 403.5px,#edb94c 408.5px,#fec03b 410.5px,#f5ee16 416.5px,#f9fb0e 418.5px,#f8f90f 457.5px,#f7d925 461.5px,#ffc337 464.5px,#fbbc40 465.5px,#ccbb5b 469.5px,#77bf7e 475.5px,#23b4ab 480.5px,#08abc0 482.5px,#0899d1 484.5px,#128cd2 485.5px,#1480d6 486.5px,#0269e1 489.5px,#0269e1 491.5px,#137dd8 494.5px,#1487d3 495.5px,#079cd0 497.5px,#0aacbe 501.5px,#22b4ac 517.5px,#2eb7a4 546.5px,#2db7a4 606.5px)"></i>
<i style="top:61px;background:linear-gradient(90deg,#a8be69 0.5px,#acbe68 20.5px,#c8bc5d 28.5px,#f9bb43 38.5px,#fec733 42.5px,#f5e21f 53.5px,#f5e71b 74.5px,#f9fb0e 80.5px,#f9fa0e 156.5px,#f5df20 160.5px,#fec239 165.5px,#f9bb44 166.5px,#e7b94f 167.5px,#cfbb5a 168.5px,#afbe67 169.5px,#83bf79 170.5px,#4abc93 171.5px,#1db3af 172.5px,#07a9c3 173.5px,#069fce 174.5px,#0f90d2 176.5px,#0a96d1 178.5px,#06a0cd 179.5px,#09abbf 180.5px,#28b6a8 181.5px,#61be87 182.5px,#9fbe6d 183.5px,#cdbb5b 184.5px,#f2b949 185.5px,#fec734 186.5px,#f5ea19 189.5px,#f9fa0e 191.5px,#f9fb0e 276.5px,#f7da24 277.5px,#f1b949 278.5px,#b6bd64 279.5px,#81bf7a 280.5px,#5ebe89 281.5px,#54bd8e 282.5px,#54bd8e 299.5px,#5fbe89 300.5px,#81bf79 301.5px,#b6bd64 302.5px,#f2b949 303.5px,#f7da24 304.5px,#f9fb0e 305.5px,#f9fb0e 389.5px,#f5ea19 390.5px,#fec13a 392.5px,#ecb94c 393.5px,#c6bc5e 395.5px,#aebe67 397.5px,#aebe67 400.5px,#c0bc60 403.5px,#edb94c 407.5px,#fec13a 409.5px,#f5e919 414.5px,#f9fb0e 416.5px,#f9fa0e 459.5px,#f5df21 462.5px,#febf3c 466.5px,#e9b94e 468.5px,#61be87 478.5px,#13b0b6 483.5px,#07aac1 484.5px,#06a2cc 485.5px,#1486d4 487.5px,#036ae1 490.5px,#0266e1 491.5px,#066fdf 493.5px,#1480d6 495.5px,#128bd3 496.5px,#06a0cd 498.5px,#0badbc 502.5px,#23b4ab 519.5px,#2eb7a4 550.5px,#2db7a4 606.5px)"></i>
<i style="top:62px;background:linear-gradient(90deg,#b1bd66 0.5px,#b4bd65 20.5px,#cfbb5a 28.5px,#fbbc41 37.5px,#fec932 41.5px,#f5e81a 53.5px,#f5ed17 74.5px,#f9fb0e 79.5px,#f9fb0e 155.5px,#f5de21 159.5px,#fec03b 164.5px,#f8ba44 165.5px,#d7ba57 167.5px,#bcbd62 168.5px,#97bf70 169.5px,#65be86 170.5px,#2fb7a3 171.5px,#0cadbc 172.5px,#06a1cc 173.5px,#138ad3 175.5px,#1486d4 177.5px,#128ad3 178.5px,#0b95d2 179.5px,#06a3ca 180.5px,#12b0b6 181.5px,#42bb98 182.5px,#85bf78 183.5px,#babd62 184.5px,#e2b951 185.5px,#fdbe3d 186.5px,#fccd2e 187.5px,#f5eb18 190.5px,#f9fb0e 192.5px,#f9fb0e 276.5px,#f7da24 277.5px,#f1b94a 278.5px,#b5bd64 279.5px,#80bf7a 280.5px,#5ebe89 281.5px,#53bd8e 282.5px,#53bd8e 299.5px,#5ebe89 300.5px,#81bf7a 301.5px,#b6bd64 302.5px,#f1b949 303.5px,#f7da24 304.5px,#f9fb0e 305.5px,#f9fb0e 389.5px,#f5e81a 390.5px,#fec03b 392.5px,#ecb94c 393.5px,#c9bb5c 395.5px,#b3bd65 397.5px,#b4bd65 400.5px,#c8bc5d 403.5px,#f6ba46 407.5px,#fec03b 408.5px,#f5eb19 413.5px,#f9fb0e 415.5px,#f9fb0e 460.5px,#f5e020 463.5px,#fdbe3d 467.5px,#e7b94f 469.5px,#63be86 479.5px,#2db7a5 483.5px,#0daeba 485.5px,#06a6c6 486.5px,#079bd0 487.5px,#138ad3 488.5px,#127cd8 489.5px,#026ae1 491.5px,#0266e1 492.5px,#0871de 494.5px,#1484d4 496.5px,#079ccf 498.5px,#08aac0 501.5px,#1db3af 513.5px,#2cb7a5 537.5px,#2db7a4 606.5px)"></i>
<i style="top:63px;background:linear-gradient(90deg,#b9bd63 0.5px,#bdbd61 20.5px,#d7ba56 28.5px,#fcbd3f 36.5px,#fcce2e 41.5px,#f5eb18 51.5px,#f6f214 59.5px,#f7f412 74.5px,#f9fb0e 79.5px,#f9fb0e 154.5px,#f5de21 158.5px,#fdbe3d 163.5px,#eab94d 165.5px,#c6bc5e 167.5px,#a9be69 168.5px,#80bf7a 169.5px,#4abc93 170.5px,#1cb3b0 171.5px,#06a7c5 172.5px,#0899d1 173.5px,#128bd2 174.5px,#1480d6 176.5px,#1483d5 178.5px,#118cd2 179.5px,#079cd0 180.5px,#08aac1 181.5px,#2cb7a5 182.5px,#6cbf82 183.5px,#a8be6a 184.5px,#d3bb58 185.5px,#f4ba47 186.5px,#fec635 187.5px,#f5e41d 190.5px,#f9fb0e 193.5px,#f9fb0e 276.5px,#f7da24 277.5px,#f1b94a 278.5px,#b5bd64 279.5px,#80bf7a 280.5px,#5ebe89 281.5px,#53bd8e 282.5px,#53bd8e 299.5px,#5ebe89 300.5px,#80bf7a 301.5px,#b5bd64 302.5px,#f1b94a 303.5px,#f7da24 304.5px,#f9fb0e 305.5px,#f9fb0e 389.5px,#f5e61b 390.5px,#febf3c 392.5px,#edb94c 393.5px,#c0bc60 396.5px,#b8bd63 397.5px,#b9bd63 400.5px,#cdbb5b 403.5px,#f1b94a 406.5px,#fcbd3f 407.5px,#fcce2e 409.5px,#f5e91a 412.5px,#f9fb0e 414.5px,#f9fb0e 461.5px,#f5de21 464.5px,#ffc436 467.5px,#fbbc41 468.5px,#c5bc5e 472.5px,#6abe83 479.5px,#32b8a1 484.5px,#06a8c4 487.5px,#079dcf 488.5px,#128bd2 489.5px,#127bd9 490.5px,#0269e1 492.5px,#0267e1 493.5px,#046ce0 494.5px,#1480d6 496.5px,#118cd2 497.5px,#0899d1 498.5px,#07aac1 501.5px,#1bb2b0 512.5px,#2bb6a6 535.5px,#2db7a4 606.5px)"></i>
<i style="top:64px;background:linear-gradient(90deg,#c2bc5f 0.5px,#c5bc5e 20.5px,#dfba53 28.5px,#fdbe3d 35.5px,#f5ea19 48.5px,#f9f90f 56.5px,#f9fb0e 153.5px,#f5df21 157.5px,#ffc337 161.5px,#f4ba47 163.5px,#cbbb5b 166.5px,#b5bd64 167.5px,#96bf71 168.5px,#6abe83 169.5px,#36b99f 170.5px,#10afb8 171.5px,#06a3cb 172.5px,#1486d4 174.5px,#137dd8 176.5px,#1480d6 178.5px,#1487d3 179.5px,#0b96d1 180.5px,#06a6c7 181.5px,#1db3af 182.5px,#57bd8d 183.5px,#97bf71 184.5px,#c5bc5e 185.5px,#e8b94f 186.5px,#febf3d 187.5px,#f9d528 189.5px,#f5ee16 192.5px,#f9fb0e 194.5px,#f9fb0e 276.5px,#f7da24 277.5px,#f1b94a 278.5px,#b5bd64 279.5px,#80bf7a 280.5px,#5ebe89 281.5px,#53bd8e 282.5px,#53bd8e 299.5px,#5ebe89 300.5px,#80bf7a 301.5px,#b5bd65 302.5px,#f1b94a 303.5px,#f7da25 304.5px,#f9fb0e 305.5px,#f9fb0e 389.5px,#f5e51c 390.5px,#febf3c 392.5px,#edb94c 393.5px,#c2bc5f 396.5px,#bbbd62 397.5px,#bcbd62 400.5px,#d1bb59 403.5px,#f6ba46 406.5px,#fec03b 407.5px,#f5ee16 412.5px,#f8f90f 413.5px,#f8f80f 462.5px,#f7da25 465.5px,#febf3d 468.5px,#e5b950 470.5px,#6cbf83 479.5px,#31b8a2 485.5px,#06a8c5 488.5px,#089bd0 489.5px,#1486d3 490.5px,#046ce0 492.5px,#0266e1 493.5px,#0269e1 494.5px,#127cd8 496.5px,#1388d3 497.5px,#06a1cd 499.5px,#0cadbc 503.5px,#23b5ab 520.5px,#2db7a4 552.5px,#2db7a4 606.5px)"></i>
<i style="top:65px;background:linear-gradient(90deg,#cabb5c 0.5px,#cdbb5b 20.5px,#e7b94f 28.5px,#fec03b 34.5px,#f5ed17 47.5px,#f9fb0e 52.5px,#f8f90f 153.5px,#f5e020 156.5px,#ffc337 160.5px,#f2b949 162.5px,#cdbb5b 165.5px,#a4be6b 167.5px,#84bf78 168.5px,#28b6a7 170.5px,#09acbe 171.5px,#069fce 172.5px,#1484d4 174.5px,#127cd8 176.5px,#137ed7 178.5px,#1484d4 179.5px,#06a3cb 181.5px,#14b0b5 182.5px,#47bb95 183.5px,#88bf77 184.5px,#b8bd63 185.5px,#dcba54 186.5px,#f6ba46 187.5px,#ffc536 188.5px,#f5e81a 192.5px,#f8f90f 194.5px,#f9fb0e 276.5px,#f7da24 277.5px,#f1b94a 278.5px,#b5bd64 279.5px,#80bf7a 280.5px,#5ebe89 281.5px,#53bd8e 282.5px,#53bd8e 299.5px,#5dbe89 300.5px,#80bf7a 301.5px,#b5bd65 302.5px,#f0b94a 303.5px,#f7da25 304.5px,#f9fb0e 305.5px,#f9fb0e 389.5px,#f5e51d 390.5px,#febf3d 392.5px,#ecb94c 393.5px,#c3bc5f 396.5px,#bbbd62 397.5px,#bdbd61 400.5px,#d2bb58 403.5px,#f7ba45 406.5px,#fec13a 407.5px,#f5e61c 411.5px,#f9fb0e 413.5px,#f9fb0e 462.5px,#f6db23 465.5px,#fec03b 468.5px,#e7b94f 470.5px,#6bbe83 479.5px,#47bb95 483.5px,#2db7a5 486.5px,#0cadbc 488.5px,#06a3ca 489.5px,#137ed7 491.5px,#0268e1 493.5px,#0268e1 494.5px,#1486d4 497.5px,#06a0cd 499.5px,#0badbc 503.5px,#23b5ab 520.5px,#2db7a4 552.5px,#2db7a4 606.5px)"></i>
<i style="top:66px;background:linear-gradient(90deg,#0998d1 0.5px,#079cd0 42.5px,#08aac1 52.5px,#1cb3af 57.5px,#45bb96 62.5px,#98bf70 70.5px,#b2bd66 73.5px,#f7ba45 78.5px,#fec13a 79.5px,#f5e81a 83.5px,#f9fb0e 85.5px,#f8f90f 152.5px,#f5e020 155.5px,#fec239 159.5px,#efb94b 161.5px,#bcbd62 165.5px,#aabe69 166.5px,#92bf73 167.5px,#6fbf81 168.5px,#1eb3ae 170.5px,#07a9c2 171.5px,#079dcf 172.5px,#118dd2 173.5px,#137ed7 175.5px,#137ed7 178.5px,#1484d4 179.5px,#06a1cc 181.5px,#0faeb9 182.5px,#3bb99c 183.5px,#79bf7d 184.5px,#abbe68 185.5px,#cfbb5a 186.5px,#eab94d 187.5px,#fcbd3f 188.5px,#fbd12c 190.5px,#f5e91a 193.5px,#f9fa0e 195.5px,#f9fb0e 276.5px,#f8f611 277.5px,#fbcf2d 278.5px,#e0ba52 279.5px,#a9be69 280.5px,#7bbf7c 281.5px,#5fbe88 282.5px,#56bd8d 283.5px,#53bd8e 299.5px,#60be88 300.5px,#86bf77 301.5px,#bdbd61 302.5px,#f9bb43 303.5px,#f5e020 304.5px,#f9fb0e 305.5px,#f8f810 390.5px,#f7d925 392.5px,#fec139 395.5px,#f8ba44 398.5px,#fbbc41 403.5px,#fec833 406.5px,#f5eb18 411.5px,#f9fb0e 413.5px,#f9fb0e 461.5px,#f8f611 462.5px,#f8d727 465.5px,#ffc436 467.5px,#fabb42 468.5px,#aebe67 473.5px,#55bd8e 479.5px,#3bb99c 482.5px,#22b4ab 486.5px,#0aacbd 488.5px,#06a4ca 489.5px,#1480d6 491.5px,#0269e1 493.5px,#0267e1 494.5px,#056ee0 495.5px,#1484d4 497.5px,#079dcf 499.5px,#07aac1 502.5px,#21b4ac 520.5px,#30b7a3 548.5px,#33b8a1 606.5px)"></i>
<i style="top:67px;background:linear-gradient(90deg,#079cd0 0.5px,#06a0cd 42.5px,#09acbe 51.5px,#20b4ad 56.5px,#4abc94 61.5px,#9cbf6e 69.5px,#c8bc5d 74.5px,#f9bb43 78.5px,#fec239 79.5px,#f5ec18 84.5px,#f9fb0e 86.5px,#f8f90f 148.5px,#f7da24 153.5px,#febf3d 157.5px,#dfba53 160.5px,#9ebe6e 165.5px,#8bbf75 166.5px,#72bf80 167.5px,#2eb7a3 169.5px,#12afb7 170.5px,#06a6c7 171.5px,#089ad0 172.5px,#118dd2 173.5px,#137fd7 175.5px,#137fd7 178.5px,#0f8fd2 180.5px,#069fce 181.5px,#0aacbe 182.5px,#2cb7a5 183.5px,#61be88 184.5px,#93bf72 185.5px,#b8bd63 186.5px,#d2bb59 187.5px,#f7ba45 189.5px,#fec13a 190.5px,#f5e81a 195.5px,#f8f80f 197.5px,#f9fb0e 276.5px,#f5eb18 277.5px,#fdcb30 278.5px,#e0ba53 279.5px,#aebe67 280.5px,#83bf79 281.5px,#67be85 282.5px,#5bbd8b 283.5px,#4ebc91 294.5px,#4fbc91 299.5px,#5cbe8a 300.5px,#7ebf7b 301.5px,#e8b94f 303.5px,#fbcf2c 304.5px,#f5ea19 305.5px,#f9fb0e 306.5px,#f9fb0e 389.5px,#f7f412 390.5px,#f7d925 392.5px,#ffc337 395.5px,#fabc41 398.5px,#fcbd3f 403.5px,#fccd2e 407.5px,#f5e919 411.5px,#f9fb0e 413.5px,#f9fb0e 461.5px,#f6dd22 464.5px,#fec13a 467.5px,#f6ba46 468.5px,#5dbe89 478.5px,#3fba9a 481.5px,#21b4ac 486.5px,#0aacbe 488.5px,#06a3ca 489.5px,#1480d6 491.5px,#0269e1 493.5px,#0267e1 494.5px,#056ee0 495.5px,#1484d4 497.5px,#079dcf 499.5px,#07a9c2 502.5px,#21b4ac 520.5px,#30b7a3 548.5px,#33b8a1 606.5px)"></i>
<i style="top:68px;background:linear-gradient(90deg,#069fce 0.5px,#06a5c8 43.5px,#0dadbb 50.5px,#24b5aa 55.5px,#4ebc91 60.5px,#a0be6d 68.5px,#d9ba55 75.5px,#f8ba44 78.5px,#fec634 80.5px,#f5eb18 86.5px,#f9fb0e 89.5px,#f8f710 128.5px,#f5e91a 142.5px,#fbd02c 150.5px,#fec03b 153.5px,#f1b94a 155.5px,#9fbe6d 162.5px,#73bf7f 165.5px,#32b8a2 168.5px,#09abbf 170.5px,#06a3cb 171.5px,#118cd2 173.5px,#1480d6 175.5px,#1480d6 178.5px,#0f8fd2 180.5px,#079dcf 181.5px,#07a9c2 182.5px,#1db3af 183.5px,#44bb97 184.5px,#72bf80 185.5px,#97bf70 186.5px,#b2bd66 187.5px,#d7ba57 189.5px,#fcbd3f 192.5px,#fdcc2f 194.5px,#f5e919 198.5px,#f9f90f 200.5px,#f9fb0e 275.5px,#f5ee16 276.5px,#f6dc23 277.5px,#ffc337 278.5px,#deba54 279.5px,#8ebf74 281.5px,#73bf7f 282.5px,#64be86 283.5px,#48bb94 290.5px,#42bb98 297.5px,#46bb96 299.5px,#52bd8f 300.5px,#70bf81 301.5px,#f4ba47 304.5px,#fdca31 305.5px,#f5e31e 307.5px,#f9fb0e 313.5px,#f9fb0e 389.5px,#f5e21f 391.5px,#fec932 394.5px,#fcbd3f 398.5px,#fcbd3f 403.5px,#fdcb30 407.5px,#f5ed17 412.5px,#f9fb0e 414.5px,#f9fb0e 460.5px,#f7f611 461.5px,#f8d726 464.5px,#fec536 466.5px,#fbbc41 467.5px,#d0bb5a 470.5px,#56bd8d 478.5px,#3ab99c 481.5px,#1bb2b0 486.5px,#07a9c3 488.5px,#069fce 489.5px,#118dd2 490.5px,#127cd8 491.5px,#076fdf 492.5px,#0268e1 493.5px,#0268e1 494.5px,#1484d4 497.5px,#079dcf 499.5px,#07a9c2 502.5px,#21b4ac 521.5px,#30b7a2 550.5px,#33b8a1 606.5px)"></i>
<i style="top:69px;background:linear-gradient(90deg,#06a2cb 0.5px,#06a7c5 42.5px,#0dadbb 48.5px,#29b6a7 54.5px,#53bd8e 59.5px,#a3be6c 67.5px,#eeb94b 77.5px,#fec13a 80.5px,#f5df21 88.5px,#f5e31e 95.5px,#f9d528 134.5px,#fec536 145.5px,#fbbc41 148.5px,#e1ba52 152.5px,#a4be6b 158.5px,#45bb96 165.5px,#0cadbb 169.5px,#06a7c5 170.5px,#0a96d1 172.5px,#1486d4 174.5px,#1480d6 177.5px,#1487d3 179.5px,#079cd0 181.5px,#06a6c7 182.5px,#11afb8 183.5px,#2bb6a5 184.5px,#6fbf81 186.5px,#8bbf75 187.5px,#b2bd66 189.5px,#f6ba46 194.5px,#febf3c 195.5px,#f5ee16 201.5px,#f9fb0e 203.5px,#f9fb0e 272.5px,#f5e51d 275.5px,#fccd2e 277.5px,#f9bb43 278.5px,#b8bd63 280.5px,#80bf7a 282.5px,#6fbf81 283.5px,#49bc94 288.5px,#36b99f 293.5px,#33b8a1 298.5px,#37b99e 299.5px,#42bb98 300.5px,#58bd8c 301.5px,#c2bc5f 304.5px,#dbba55 305.5px,#efb94b 306.5px,#fabc41 307.5px,#fec931 310.5px,#f5e81a 315.5px,#f8f90f 317.5px,#f9fb0e 388.5px,#f7f611 389.5px,#f5df21 391.5px,#fec536 395.5px,#fabc41 402.5px,#ffc337 406.5px,#f5e51c 412.5px,#f9fb0e 415.5px,#f9fb0e 459.5px,#f5e11f 462.5px,#fec635 465.5px,#fcbd3f 466.5px,#e2b952 468.5px,#67be85 476.5px,#43bb97 479.5px,#1bb2b0 485.5px,#08aac0 487.5px,#06a3cb 488.5px,#1483d5 490.5px,#036be0 492.5px,#0266e1 493.5px,#0269e1 494.5px,#117bd9 496.5px,#1486d3 497.5px,#079ecf 499.5px,#08aac0 503.5px,#25b5aa 526.5px,#31b8a2 559.5px,#33b8a1 606.5px)"></i>
<i style="top:70px;background:linear-gradient(90deg,#06a4c9 0.5px,#07aac2 41.5px,#15b0b5 48.5px,#35b8a0 54.5px,#6dbf82 60.5px,#adbe67 67.5px,#f8ba44 79.5px,#fec635 84.5px,#fbcf2d 92.5px,#ffc238 128.5px,#f6ba46 139.5px,#deba53 146.5px,#b6bd64 152.5px,#81bf79 157.5px,#36b99f 163.5px,#0bacbd 168.5px,#06a3ca 170.5px,#1487d3 174.5px,#1483d5 177.5px,#0f90d2 180.5px,#06a4ca 182.5px,#09abbf 183.5px,#19b2b2 184.5px,#62be87 187.5px,#9dbf6e 190.5px,#f3b948 196.5px,#fdbe3e 197.5px,#f8d727 200.5px,#f7f313 203.5px,#f9fb0e 204.5px,#f9fb0e 270.5px,#f5e21f 273.5px,#fdc931 276.5px,#febf3d 277.5px,#ecb94c 278.5px,#8dbf75 282.5px,#6ebf81 284.5px,#44bb97 288.5px,#2cb7a5 292.5px,#22b4ac 297.5px,#25b5a9 299.5px,#39b99d 301.5px,#4dbc92 302.5px,#9abf6f 305.5px,#babd63 307.5px,#efb94b 312.5px,#fabc42 313.5px,#ffc338 314.5px,#f5e61c 318.5px,#f9fb0e 320.5px,#f9fb0e 388.5px,#f6dd22 391.5px,#fec635 395.5px,#f9bb43 403.5px,#fec634 408.5px,#f5e919 414.5px,#f9fa0e 416.5px,#f9fa0e 458.5px,#f6dd22 461.5px,#ffc437 464.5px,#fabc41 465.5px,#c3bc5f 469.5px,#59bd8b 476.5px,#3ab99c 479.5px,#0eaeba 485.5px,#07a9c2 486.5px,#0a96d1 488.5px,#1486d4 489.5px,#1079da 490.5px,#0268e1 492.5px,#0267e1 493.5px,#046ce0 494.5px,#137ed7 496.5px,#1389d3 497.5px,#069ece 499.5px,#08aac1 503.5px,#25b5aa 527.5px,#31b8a2 560.5px,#33b8a1 606.5px)"></i>
<i style="top:71px;background:linear-gradient(90deg,#06a6c6 0.5px,#0aacbe 40.5px,#19b2b1 47.5px,#3ab99d 53.5px,#a0be6d 64.5px,#d1bb59 71.5px,#f5ba46 79.5px,#fec03b 89.5px,#f8ba45 117.5px,#e2b952 135.5px,#c7bc5d 144.5px,#a2be6c 150.5px,#6ebf81 155.5px,#35b8a0 160.5px,#11afb7 165.5px,#06a8c4 168.5px,#0c94d2 172.5px,#1486d4 175.5px,#1487d3 178.5px,#06a1cc 182.5px,#06a8c4 183.5px,#0eaeba 184.5px,#54bd8e 188.5px,#aebe67 193.5px,#f9bb43 198.5px,#ffc338 199.5px,#f5ea19 203.5px,#f8f710 204.5px,#f9fb0e 208.5px,#f9fb0e 269.5px,#f6de22 272.5px,#fec635 275.5px,#fcbd3f 276.5px,#e0ba52 278.5px,#86bf77 283.5px,#4cbc92 287.5px,#2fb7a3 290.5px,#1ab2b1 294.5px,#16b1b4 299.5px,#27b5a8 302.5px,#4ebc91 305.5px,#bbbd62 312.5px,#fabb42 316.5px,#ffc536 317.5px,#f5e51d 320.5px,#f9fb0e 322.5px,#f9fa0e 388.5px,#f6dc23 391.5px,#fec733 395.5px,#f8ba45 402.5px,#f9bb43 406.5px,#fec734 410.5px,#f5e31e 415.5px,#f8f90f 418.5px,#f8f90f 456.5px,#f5df21 459.5px,#febf3c 463.5px,#e8b94f 465.5px,#64be86 474.5px,#3fba99 477.5px,#09abbf 484.5px,#069fce 486.5px,#1484d4 488.5px,#0269e1 491.5px,#0266e1 492.5px,#0770df 494.5px,#1482d5 496.5px,#06a0cd 499.5px,#09abbf 504.5px,#27b5a8 530.5px,#32b8a1 566.5px,#33b8a1 606.5px)"></i>
<i style="top:72px;background:linear-gradient(90deg,#06a8c4 0.5px,#0dadbb 38.5px,#1eb3ae 46.5px,#3fba9a 52.5px,#aabe69 64.5px,#deba54 72.5px,#f6ba46 79.5px,#f7ba45 97.5px,#e2b952 125.5px,#cabb5c 138.5px,#aebe67 145.5px,#8abf76 150.5px,#2ab6a6 159.5px,#0dadbb 164.5px,#06a2cb 169.5px,#1389d3 175.5px,#138ad3 178.5px,#06a1cd 182.5px,#09acbe 184.5px,#2fb7a3 187.5px,#77bf7e 191.5px,#dfba53 197.5px,#fcbd40 199.5px,#fec634 200.5px,#f5e61c 203.5px,#f9fb0e 205.5px,#f9f90f 269.5px,#f7d925 272.5px,#febf3c 275.5px,#e8b94f 277.5px,#7ebf7b 284.5px,#3fba99 288.5px,#23b4ab 291.5px,#10afb8 295.5px,#0dadbb 300.5px,#1ab2b1 304.5px,#33b8a1 307.5px,#50bc90 309.5px,#c7bc5d 315.5px,#ecb94c 317.5px,#fcbd40 318.5px,#fec833 319.5px,#f5eb18 322.5px,#f9fa0e 323.5px,#f9fa0e 388.5px,#f6de22 391.5px,#fec734 396.5px,#f8bb44 401.5px,#f0b94a 406.5px,#fdbe3e 411.5px,#fec832 414.5px,#f9d528 415.5px,#f6f313 420.5px,#f9fb0e 422.5px,#f8f90f 453.5px,#f6db23 457.5px,#fdbe3d 461.5px,#dcba54 464.5px,#5bbd8b 473.5px,#2eb7a4 477.5px,#09abbf 482.5px,#0998d1 485.5px,#128bd2 486.5px,#1480d6 487.5px,#0269e1 490.5px,#0268e1 492.5px,#137dd7 495.5px,#1487d3 496.5px,#079bd0 498.5px,#07a9c3 502.5px,#23b5ab 527.5px,#31b8a2 558.5px,#33b8a1 606.5px)"></i>
<i style="top:73px;background:linear-gradient(90deg,#07aac1 0.5px,#0faeb9 34.5px,#1db3af 43.5px,#37b99e 49.5px,#66be85 55.5px,#b4bd65 64.5px,#e5b950 72.5px,#f8bb44 78.5px,#fabb42 93.5px,#e7b94f 120.5px,#cebb5a 136.5px,#b1bd66 144.5px,#8fbf74 149.5px,#41ba98 156.5px,#1db3af 160.5px,#0aacbe 164.5px,#089ad0 171.5px,#128bd2 176.5px,#0e91d2 179.5px,#06a2cc 182.5px,#09abbf 184.5px,#2ab6a6 187.5px,#5cbe8a 190.5px,#bbbd62 195.5px,#ecb94c 198.5px,#fbbc41 199.5px,#fec635 200.5px,#f5e61b 203.5px,#f7f412 204.5px,#f9fb0e 205.5px,#f9fb0e 269.5px,#f7d925 272.5px,#fec03c 275.5px,#e9b94e 277.5px,#92bf72 283.5px,#40ba99 288.5px,#22b4ac 291.5px,#0eaeba 295.5px,#0aacbe 301.5px,#14b0b5 305.5px,#2cb7a5 308.5px,#49bc94 310.5px,#b1bd66 315.5px,#eab94d 318.5px,#fbbc41 319.5px,#fec734 320.5px,#f5ea19 323.5px,#f8f90f 324.5px,#f9fb0e 388.5px,#f5e11f 391.5px,#fec932 396.5px,#fbbc41 400.5px,#e6b950 405.5px,#e6b950 410.5px,#f4ba47 415.5px,#fdca30 416.5px,#f5e81a 422.5px,#f9fb0e 426.5px,#f9f90f 448.5px,#f6de22 453.5px,#febf3c 458.5px,#edb94c 460.5px,#94bf72 467.5px,#3eba9a 473.5px,#12afb7 478.5px,#07a9c2 480.5px,#0998d1 483.5px,#1483d5 485.5px,#0268e1 489.5px,#0268e1 491.5px,#1483d5 495.5px,#079dcf 498.5px,#07aac1 503.5px,#26b5a9 531.5px,#32b8a1 566.5px,#33b8a1 606.5px)"></i>
<i style="top:74px;background:linear-gradient(90deg,#09abbf 0.5px,#12b0b7 32.5px,#22b4ac 42.5px,#3cba9b 48.5px,#6bbe83 54.5px,#bebc61 64.5px,#ecb94c 72.5px,#fcbd3f 78.5px,#fcbd3f 95.5px,#ebb94d 119.5px,#cfbb5a 136.5px,#b1bd66 144.5px,#8dbf74 149.5px,#3eba9a 156.5px,#1ab2b1 160.5px,#08abc0 164.5px,#0998d1 172.5px,#108fd2 176.5px,#0899d1 180.5px,#09abbf 184.5px,#26b5a9 187.5px,#57bd8d 190.5px,#b9bd63 195.5px,#ecb94d 198.5px,#fabc41 199.5px,#fec635 200.5px,#f5e71b 203.5px,#f7f512 204.5px,#f9fb0e 206.5px,#f9fb0e 269.5px,#f6db24 272.5px,#fec13a 275.5px,#f8ba44 276.5px,#95bf71 283.5px,#42bb98 288.5px,#22b4ac 291.5px,#0dadbb 295.5px,#08abc0 302.5px,#12b0b6 306.5px,#2ab6a6 309.5px,#48bb95 311.5px,#b2bd66 316.5px,#ebb94d 319.5px,#fbbc41 320.5px,#fec734 321.5px,#f5ea19 324.5px,#f8f810 325.5px,#f9fb0e 388.5px,#f6dd22 392.5px,#ffc338 398.5px,#f4ba47 401.5px,#d8ba56 406.5px,#d0bb5a 411.5px,#d3bb58 416.5px,#fdbe3d 417.5px,#f5e61c 427.5px,#f6f214 435.5px,#f5e61b 443.5px,#fec833 452.5px,#fdbe3e 454.5px,#dbba55 458.5px,#94bf72 464.5px,#3eba9a 470.5px,#17b1b3 474.5px,#07a9c2 477.5px,#079cd0 480.5px,#1483d5 483.5px,#036ae1 487.5px,#0266e1 489.5px,#056de0 491.5px,#1481d5 494.5px,#06a0cd 498.5px,#09abbf 505.5px,#29b6a7 536.5px,#32b8a1 577.5px,#33b8a1 606.5px)"></i>
<i style="top:75px;background:linear-gradient(90deg,#0badbc 0.5px,#16b1b4 30.5px,#27b5a8 41.5px,#42bb98 47.5px,#81bf79 55.5px,#cebb5a 65.5px,#f8ba44 73.5px,#ffc437 80.5px,#f9bb43 108.5px,#ddba54 130.5px,#c2bc5f 140.5px,#a3be6c 146.5px,#75bf7e 151.5px,#2fb7a3 157.5px,#11afb8 161.5px,#06a8c4 165.5px,#0b95d2 174.5px,#0b95d2 178.5px,#06a3ca 182.5px,#08abc0 184.5px,#23b4ab 187.5px,#52bd8f 190.5px,#b7bd64 195.5px,#fabc42 199.5px,#fec535 200.5px,#f5e71b 203.5px,#f7f611 204.5px,#f9fb0e 206.5px,#f9fb0e 269.5px,#f6dc23 272.5px,#ffc238 275.5px,#f9bb43 276.5px,#a8be6a 282.5px,#44bb96 288.5px,#22b4ab 291.5px,#0cadbc 295.5px,#07a9c2 302.5px,#0cadbb 306.5px,#1fb3ae 309.5px,#36b99f 311.5px,#5bbd8a 313.5px,#c6bc5e 318.5px,#fbbc41 321.5px,#fec734 322.5px,#f5e91a 325.5px,#f8f611 326.5px,#f9fb0e 329.5px,#f9fb0e 388.5px,#f5df20 392.5px,#fdbe3d 399.5px,#e2b952 403.5px,#c2bc5f 408.5px,#b1bd66 415.5px,#acbe68 418.5px,#f0b94a 419.5px,#fec13a 423.5px,#fec932 431.5px,#fec139 442.5px,#f4ba47 448.5px,#cebb5a 454.5px,#9dbf6e 459.5px,#3fba9a 466.5px,#18b1b3 470.5px,#07aac2 473.5px,#089ad0 477.5px,#1485d4 480.5px,#0c74dd 483.5px,#0268e1 486.5px,#036ae1 489.5px,#1481d6 493.5px,#0e91d2 495.5px,#06a2cc 498.5px,#0eaeba 510.5px,#2ab6a6 539.5px,#33b8a1 585.5px,#33b8a1 606.5px)"></i>
<i style="top:76px;background:linear-gradient(90deg,#0eaeba 0.5px,#19b2b2 28.5px,#2cb7a5 40.5px,#47bb95 46.5px,#96bf71 56.5px,#dfba53 66.5px,#fcbd3f 72.5px,#fec931 79.5px,#fec13a 102.5px,#f1b94a 119.5px,#d2bb59 135.5px,#b3bd65 143.5px,#90bf73 148.5px,#58bd8c 153.5px,#22b4ab 158.5px,#0aacbd 162.5px,#069ece 170.5px,#0a96d1 177.5px,#06a4c9 182.5px,#0daeba 185.5px,#2db7a5 188.5px,#62be87 191.5px,#c7bc5d 196.5px,#fabb42 199.5px,#fec535 200.5px,#f5e81b 203.5px,#f8f611 204.5px,#f9fb0e 207.5px,#f9fb0e 269.5px,#f6dd22 272.5px,#ffc337 275.5px,#fabc41 276.5px,#c8bc5d 280.5px,#7bbf7c 285.5px,#39b99d 289.5px,#1bb2b0 292.5px,#09abbf 296.5px,#06a8c4 303.5px,#0faeb9 308.5px,#28b6a8 311.5px,#46bb96 313.5px,#b2bd66 318.5px,#ebb94d 321.5px,#fabc41 322.5px,#fec635 323.5px,#f5e71b 326.5px,#f7f412 327.5px,#f9fb0e 328.5px,#f9fb0e 388.5px,#f6db24 393.5px,#ffc338 398.5px,#f7ba45 400.5px,#bcbd62 407.5px,#99bf70 413.5px,#7abf7c 420.5px,#d7ba56 421.5px,#d4bb58 426.5px,#bcbd61 439.5px,#b4bd65 447.5px,#9abf6f 452.5px,#6abe83 457.5px,#27b5a8 463.5px,#0aacbd 467.5px,#079dcf 472.5px,#1482d5 477.5px,#0269e1 483.5px,#0266e1 486.5px,#0871de 489.5px,#1482d5 492.5px,#079dcf 496.5px,#07a9c3 502.5px,#28b6a8 536.5px,#32b8a1 575.5px,#33b8a1 606.5px)"></i>
<i style="top:77px;background:linear-gradient(90deg,#10afb8 0.5px,#1cb3b0 26.5px,#32b8a1 39.5px,#4dbc92 45.5px,#c0bc60 60.5px,#fabb42 69.5px,#fec932 74.5px,#fad22a 82.5px,#fec13a 109.5px,#f0b94a 122.5px,#cbbb5c 137.5px,#aabe69 144.5px,#82bf79 149.5px,#27b5a8 157.5px,#0cadbc 161.5px,#06a4c9 166.5px,#0998d1 176.5px,#06a4c9 182.5px,#0cadbc 185.5px,#29b6a7 188.5px,#4abc94 190.5px,#b2bd66 195.5px,#f9bb43 199.5px,#ffc536 200.5px,#f5e81b 203.5px,#f8f611 204.5px,#f9fb0e 207.5px,#f9fb0e 269.5px,#f6de21 272.5px,#ffc436 275.5px,#fbbd40 276.5px,#d7ba56 279.5px,#8fbf74 284.5px,#3cba9c 289.5px,#1cb3b0 292.5px,#0badbc 295.5px,#06a7c6 302.5px,#0aacbe 308.5px,#1cb3af 311.5px,#35b8a0 313.5px,#5abd8b 315.5px,#b2bd66 319.5px,#fabb42 323.5px,#fec535 324.5px,#f5e51c 327.5px,#f9fb0e 329.5px,#f9fa0e 388.5px,#f6db24 393.5px,#fec238 398.5px,#f6ba46 400.5px,#98bf70 410.5px,#53bd8f 419.5px,#30b7a2 422.5px,#9ebe6e 423.5px,#55bd8d 432.5px,#44bb97 437.5px,#46bb95 442.5px,#4fbc91 446.5px,#40ba99 451.5px,#0badbc 460.5px,#06a0cd 465.5px,#1483d5 472.5px,#0267e1 480.5px,#0365e1 484.5px,#066fdf 487.5px,#1484d4 491.5px,#06a0cd 496.5px,#0aacbe 507.5px,#2bb6a6 541.5px,#33b8a1 589.5px,#33b8a1 606.5px)"></i>
<i style="top:78px;background:linear-gradient(90deg,#13b0b6 0.5px,#1fb4ad 25.5px,#37b99e 38.5px,#52bd8f 44.5px,#ccbb5b 60.5px,#fabc42 67.5px,#fec931 71.5px,#f6dc23 80.5px,#fad32a 98.5px,#fdbe3e 117.5px,#e1b952 130.5px,#b8bd63 141.5px,#90bf73 147.5px,#5abd8b 152.5px,#23b5ab 157.5px,#0aacbd 161.5px,#069fce 169.5px,#089ad0 177.5px,#06a7c6 183.5px,#12afb7 186.5px,#35b8a0 189.5px,#71bf80 192.5px,#c3bc5f 196.5px,#f8bb44 199.5px,#ffc436 200.5px,#f5e71b 203.5px,#f8f611 204.5px,#f9fb0e 207.5px,#f9fb0e 269.5px,#f5e91a 271.5px,#fec536 275.5px,#fcbd3f 276.5px,#d9ba56 279.5px,#92bf72 284.5px,#3eba9a 289.5px,#1db3af 292.5px,#0badbc 295.5px,#06a5c8 302.5px,#07aac1 308.5px,#13b0b6 311.5px,#34b8a0 314.5px,#5abd8b 316.5px,#b2bd66 320.5px,#f9bb43 324.5px,#ffc437 325.5px,#f5ee17 329.5px,#f9fa0e 330.5px,#f9fa0e 387.5px,#f7da24 393.5px,#fec139 398.5px,#f4ba47 400.5px,#59bd8b 415.5px,#10afb8 422.5px,#06a7c6 424.5px,#06a2cb 425.5px,#2fb7a3 426.5px,#10afb8 429.5px,#06a7c6 432.5px,#069ece 438.5px,#06a7c5 449.5px,#089ad0 458.5px,#1483d5 465.5px,#0266e1 475.5px,#0e5dde 480.5px,#0269e1 484.5px,#1481d6 489.5px,#06a0cd 495.5px,#0bacbd 508.5px,#2bb6a6 542.5px,#33b8a1 591.5px,#33b8a1 606.5px)"></i>
<i style="top:79px;background:linear-gradient(90deg,#16b1b4 0.5px,#23b4ab 24.5px,#3dba9b 37.5px,#58bd8c 43.5px,#d0bb5a 59.5px,#fabc42 65.5px,#fec733 68.5px,#f5e71b 78.5px,#f5ea19 87.5px,#fdcc2f 112.5px,#fcbd3f 121.5px,#d9ba56 133.5px,#b1bd66 142.5px,#8dbf75 147.5px,#49bc94 153.5px,#19b2b2 158.5px,#07a9c2 162.5px,#079dcf 170.5px,#079cd0 178.5px,#07a9c2 184.5px,#10afb8 186.5px,#32b8a2 189.5px,#57bd8c 191.5px,#aebe67 195.5px,#f7ba45 199.5px,#ffc437 200.5px,#f5e71b 203.5px,#f7f611 204.5px,#f9fb0e 206.5px,#f9fb0e 269.5px,#f7f512 270.5px,#f8d627 273.5px,#fec535 275.5px,#fdbe3e 276.5px,#dbba55 279.5px,#85bf78 285.5px,#41bb98 289.5px,#1fb3ae 292.5px,#0cadbc 295.5px,#06a5c8 301.5px,#06a8c4 308.5px,#0dadbb 311.5px,#26b5a9 314.5px,#46bb96 316.5px,#b2bd66 321.5px,#f7ba45 325.5px,#ffc238 326.5px,#f5ea19 330.5px,#f9fb0e 332.5px,#f9fa0e 385.5px,#f6dd22 392.5px,#fec03b 398.5px,#f2b949 400.5px,#90bf73 409.5px,#30b7a2 417.5px,#09acbe 421.5px,#079dcf 424.5px,#1486d4 427.5px,#1480d6 428.5px,#0899d1 429.5px,#1484d4 432.5px,#0d75dc 437.5px,#127dd8 443.5px,#1483d5 451.5px,#0d75dc 461.5px,#0267e1 467.5px,#0c5ede 470.5px,#1f53d4 474.5px,#2053d4 477.5px,#0363e1 481.5px,#0871de 484.5px,#1484d4 488.5px,#079dcf 493.5px,#07aac1 503.5px,#2ab6a6 542.5px,#33b8a1 590.5px,#33b8a1 606.5px)"></i>
<i style="top:80px;background:linear-gradient(90deg,#18b2b2 0.5px,#26b5a9 23.5px,#3fba9a 35.5px,#5dbe89 42.5px,#d4bb58 58.5px,#f9bb43 63.5px,#fec833 66.5px,#f5eb18 74.5px,#f9fb0e 79.5px,#f8f80f 94.5px,#f7da25 110.5px,#febf3d 123.5px,#e0ba53 132.5px,#afbe67 142.5px,#8abf76 147.5px,#3ab99c 154.5px,#16b1b3 158.5px,#08abc0 161.5px,#069fce 168.5px,#079ccf 178.5px,#06a9c3 184.5px,#17b1b3 187.5px,#2fb7a3 189.5px,#54bd8e 191.5px,#adbe68 195.5px,#f6ba45 199.5px,#ffc337 200.5px,#f5e71b 203.5px,#f7f611 204.5px,#f9fb0e 206.5px,#f9fb0e 269.5px,#f7f512 270.5px,#f8d627 273.5px,#fdbe3e 276.5px,#dcba54 279.5px,#89bf76 285.5px,#37b99e 290.5px,#18b1b2 293.5px,#09abbf 296.5px,#06a4ca 303.5px,#07a9c3 310.5px,#12b0b7 313.5px,#34b8a0 316.5px,#72bf80 319.5px,#c3bc5f 323.5px,#f5ba47 326.5px,#fec03b 327.5px,#f6f015 332.5px,#f9fa0e 333.5px,#f8f810 379.5px,#f5ed17 387.5px,#fad22a 394.5px,#febf3d 398.5px,#e6b94f 401.5px,#8cbf75 409.5px,#26b5a9 417.5px,#0aacbd 420.5px,#069ece 423.5px,#1486d3 426.5px,#0b74dd 429.5px,#0269e1 431.5px,#0363e1 432.5px,#046ce0 433.5px,#0266e1 434.5px,#2152d3 438.5px,#1e54d5 440.5px,#0661e0 444.5px,#0268e1 453.5px,#0860e0 459.5px,#2251d1 464.5px,#2e48c2 469.5px,#2e48c2 473.5px,#2251d2 476.5px,#0462e1 479.5px,#046ce0 481.5px,#137ed7 485.5px,#108ed2 488.5px,#069ece 492.5px,#08abc0 505.5px,#2bb6a6 543.5px,#33b8a1 592.5px,#33b8a1 606.5px)"></i>
<i style="top:81px;background:linear-gradient(90deg,#1bb2b0 0.5px,#2ab6a7 22.5px,#44bb97 34.5px,#62be87 41.5px,#c8bc5d 55.5px,#f6ba45 61.5px,#fec239 63.5px,#f5eb18 71.5px,#f9fb0e 74.5px,#f8f810 105.5px,#f6db24 115.5px,#fec03b 125.5px,#e4b951 132.5px,#a8be6a 143.5px,#7ebf7b 148.5px,#2eb7a4 155.5px,#0faeb9 159.5px,#06a6c7 163.5px,#079bd0 173.5px,#06a1cc 181.5px,#08abc0 185.5px,#20b4ad 188.5px,#3eba9a 190.5px,#abbe68 195.5px,#f5ba46 199.5px,#ffc238 200.5px,#f5e61c 203.5px,#f7f512 204.5px,#f9fb0e 206.5px,#f9fb0e 269.5px,#f5e91a 271.5px,#fdbe3d 276.5px,#ddba54 279.5px,#8cbf75 285.5px,#3ab99c 290.5px,#1ab2b1 293.5px,#09abbf 296.5px,#06a3ca 303.5px,#06a7c6 310.5px,#0cadbc 313.5px,#26b5a9 316.5px,#46bb96 318.5px,#b0bd66 323.5px,#f2b949 327.5px,#fdbe3d 328.5px,#f5ea19 333.5px,#f9fb0e 335.5px,#f9f90f 369.5px,#f5ee16 380.5px,#f5e41d 388.5px,#fec734 396.5px,#fcbd3f 398.5px,#daba55 402.5px,#89bf76 409.5px,#2eb7a4 416.5px,#09acbe 420.5px,#079ecf 423.5px,#1487d3 426.5px,#0b74dd 429.5px,#0268e1 431.5px,#0760e0 432.5px,#254fce 434.5px,#3144bb 436.5px,#343fb0 438.5px,#2d49c4 451.5px,#3244ba 460.5px,#343fb1 467.5px,#2d49c4 472.5px,#2152d3 474.5px,#0364e1 477.5px,#0a72de 480.5px,#1484d4 484.5px,#079dcf 490.5px,#07a9c2 502.5px,#2ab6a6 543.5px,#33b8a1 591.5px,#33b8a1 606.5px)"></i>
<i style="top:82px;background:linear-gradient(90deg,#1eb3ae 0.5px,#2cb7a5 21.5px,#45bb96 32.5px,#67be85 40.5px,#c3bc5f 53.5px,#fabb42 60.5px,#fdca31 63.5px,#f5ed17 69.5px,#f9fb0e 71.5px,#f8f90f 111.5px,#f7da24 119.5px,#febf3c 127.5px,#e4b951 133.5px,#a9be69 143.5px,#7dbf7b 148.5px,#2cb7a5 155.5px,#0eaeba 159.5px,#06a6c7 163.5px,#079bd0 173.5px,#06a3ca 182.5px,#0dadbb 186.5px,#2cb6a5 189.5px,#50bc90 191.5px,#aabe69 195.5px,#f4ba47 199.5px,#fec239 200.5px,#f5e51c 203.5px,#f7f413 204.5px,#f9fb0e 205.5px,#f9fb0e 269.5px,#f5de21 272.5px,#fec635 275.5px,#fdbe3d 276.5px,#ddba54 279.5px,#8fbf74 285.5px,#3eba9a 290.5px,#1cb3af 293.5px,#0aacbe 296.5px,#06a2cb 303.5px,#06a7c6 311.5px,#0cadbc 314.5px,#26b5a9 317.5px,#46bb95 319.5px,#afbe67 324.5px,#efb94b 328.5px,#fbbc40 329.5px,#fccd2f 331.5px,#f5ed17 335.5px,#f9fb0e 337.5px,#f9fb0e 366.5px,#f5e91a 375.5px,#f5df21 388.5px,#ffc436 396.5px,#fabc41 398.5px,#cebb5a 403.5px,#7bbf7c 410.5px,#2fb7a3 416.5px,#0badbc 420.5px,#06a1cc 423.5px,#1486d4 427.5px,#0c74dd 430.5px,#0269e1 432.5px,#0363e1 433.5px,#2052d3 435.5px,#2e47c1 437.5px,#3440b3 441.5px,#353dae 456.5px,#3341b5 465.5px,#2c4ac6 469.5px,#1e54d5 471.5px,#0365e1 474.5px,#0971de 477.5px,#1481d6 481.5px,#069fce 489.5px,#0cadbc 509.5px,#2cb6a5 546.5px,#33b8a1 604.5px,#33b8a1 606.5px)"></i>
<i style="top:83px;background:linear-gradient(90deg,#20b4ad 0.5px,#2fb7a3 20.5px,#49bc94 31.5px,#72bf80 40.5px,#cebb5a 53.5px,#f6ba46 58.5px,#fec239 60.5px,#f5ed17 67.5px,#f9fb0e 69.5px,#f9fa0e 115.5px,#f6dd22 121.5px,#fec239 128.5px,#efb94b 132.5px,#aabe69 143.5px,#7dbf7b 148.5px,#2cb7a5 155.5px,#0eaeba 159.5px,#06a5c8 163.5px,#079bd0 173.5px,#06a3ca 182.5px,#0cadbc 186.5px,#2bb6a6 189.5px,#4ebc91 191.5px,#a8be6a 195.5px,#f3ba48 199.5px,#fec13a 200.5px,#f5e41d 203.5px,#f6f313 204.5px,#f9fb0e 205.5px,#f9fb0e 269.5px,#f6de22 272.5px,#fec535 275.5px,#fdbe3e 276.5px,#deba54 279.5px,#92bf73 285.5px,#34b8a0 291.5px,#16b1b4 294.5px,#08aac1 297.5px,#06a2cc 304.5px,#06a6c6 312.5px,#0cadbc 315.5px,#27b5a8 318.5px,#47bb95 320.5px,#adbe68 325.5px,#ebb94d 329.5px,#f8ba44 330.5px,#fec13a 331.5px,#f5e71b 336.5px,#f9fb0e 339.5px,#f9fb0e 364.5px,#f5e51c 372.5px,#f8d826 389.5px,#fec239 396.5px,#f1b94a 399.5px,#adbe68 406.5px,#47bb95 414.5px,#17b1b3 419.5px,#07a9c3 422.5px,#0997d1 426.5px,#1484d4 429.5px,#0871df 433.5px,#0363e1 436.5px,#2450cf 441.5px,#3046be 447.5px,#3145bc 456.5px,#294cc9 463.5px,#1d54d6 466.5px,#0661e0 469.5px,#046ce0 472.5px,#1481d6 478.5px,#069fce 487.5px,#0cadbc 509.5px,#2cb6a5 546.5px,#33b8a1 603.5px,#33b8a1 606.5px)"></i>
<i style="top:84px;background:linear-gradient(90deg,#23b4ab 0.5px,#32b8a2 19.5px,#4cbc92 30.5px,#76bf7e 39.5px,#c8bc5d 51.5px,#f8ba44 57.5px,#ffc436 59.5px,#f5e919 65.5px,#f9fa0e 67.5px,#f9f90f 118.5px,#f6dd22 123.5px,#febf3c 130.5px,#e3b951 135.5px,#a5be6b 144.5px,#74bf7f 149.5px,#2cb7a5 155.5px,#0eaeba 159.5px,#06a5c8 163.5px,#079bd0 173.5px,#06a3cb 182.5px,#0cadbc 186.5px,#2ab6a6 189.5px,#4dbc91 191.5px,#a7be6a 195.5px,#f2b949 199.5px,#fec03b 200.5px,#f5e31e 203.5px,#f9fb0e 205.5px,#f9fb0e 269.5px,#f6dd22 272.5px,#fec536 275.5px,#fdbe3e 276.5px,#deba53 279.5px,#94bf72 285.5px,#38b99e 291.5px,#19b2b2 294.5px,#08abc0 297.5px,#06a1cc 304.5px,#06a6c6 313.5px,#0cadbc 316.5px,#28b6a8 319.5px,#5cbe8a 322.5px,#abbe68 326.5px,#f4ba47 331.5px,#fdbe3e 332.5px,#fad32a 335.5px,#f5ee16 339.5px,#f9fb0e 341.5px,#f8f810 363.5px,#f5e020 372.5px,#fad12b 390.5px,#febf3c 396.5px,#eeb94b 399.5px,#acbe68 406.5px,#4abc93 414.5px,#1cb3af 419.5px,#07a9c2 423.5px,#0a97d1 428.5px,#1483d5 432.5px,#0267e1 442.5px,#135adb 453.5px,#0267e1 464.5px,#1483d5 475.5px,#069fce 485.5px,#0badbc 508.5px,#2cb7a5 547.5px,#33b8a1 606.5px)"></i>
<i style="top:85px;background:linear-gradient(90deg,#25b5aa 0.5px,#36b89f 19.5px,#4fbc91 29.5px,#7fbf7a 39.5px,#d2bb59 51.5px,#fabb42 56.5px,#fec535 58.5px,#f5ed17 64.5px,#f9fb0e 66.5px,#f9fa0e 120.5px,#f6dc23 125.5px,#fec03b 131.5px,#e9b94e 135.5px,#a0be6d 145.5px,#69be84 150.5px,#2db7a4 155.5px,#0eaeba 159.5px,#06a5c8 163.5px,#079cd0 172.5px,#06a3cb 182.5px,#0cadbc 186.5px,#2ab6a7 189.5px,#4dbc92 191.5px,#a7be6a 195.5px,#f1b949 199.5px,#febf3c 200.5px,#f6f015 204.5px,#f9fb0e 205.5px,#f9fb0e 269.5px,#f6dc23 272.5px,#ffc436 275.5px,#fcbd3f 276.5px,#d2bb58 280.5px,#88bf76 286.5px,#3cba9b 291.5px,#1bb2b0 294.5px,#09abbf 297.5px,#06a1cc 304.5px,#06a5c9 313.5px,#0cadbb 317.5px,#28b6a7 320.5px,#5cbe8a 323.5px,#a9be69 327.5px,#efb94b 332.5px,#fec13a 334.5px,#f5ec17 341.5px,#f9fb0e 344.5px,#f8f90f 361.5px,#f6dc23 371.5px,#fdcb30 391.5px,#fcbd3f 396.5px,#e3b951 400.5px,#a1be6c 407.5px,#39b99d 416.5px,#15b0b5 421.5px,#06a8c3 425.5px,#0a97d1 431.5px,#1484d4 436.5px,#0871de 448.5px,#0a73dd 460.5px,#1388d3 472.5px,#069fce 482.5px,#0cadbc 508.5px,#2cb7a5 547.5px,#33b8a1 606.5px)"></i>
<i style="top:86px;background:linear-gradient(90deg,#27b5a8 0.5px,#37b99e 18.5px,#52bd8f 28.5px,#82bf79 38.5px,#d4bb58 50.5px,#fbbc41 55.5px,#fccd2f 58.5px,#f5e71b 62.5px,#f8f80f 64.5px,#f8f810 122.5px,#f6dd22 126.5px,#fec03b 132.5px,#e8b94f 136.5px,#a3be6c 145.5px,#6cbf82 150.5px,#2eb7a4 155.5px,#0eaeb9 159.5px,#06a6c7 163.5px,#079cd0 172.5px,#06a3ca 182.5px,#0cadbc 186.5px,#2ab6a6 189.5px,#4dbc92 191.5px,#babd63 196.5px,#f0b94a 199.5px,#febf3d 200.5px,#f5ee16 204.5px,#f9fb0e 205.5px,#f9fa0e 269.5px,#f7da24 272.5px,#ffc337 275.5px,#f2b948 277.5px,#98bf70 285.5px,#33b8a1 292.5px,#16b1b4 295.5px,#07aac1 298.5px,#06a0cd 305.5px,#06a5c8 314.5px,#0dadbb 318.5px,#29b6a7 321.5px,#5cbe8a 324.5px,#a7be6a 328.5px,#e9b94e 333.5px,#fcbd3f 335.5px,#fbcf2d 338.5px,#f5e919 343.5px,#f9fb0e 347.5px,#f8f80f 359.5px,#f7da25 370.5px,#fec536 392.5px,#f9bb43 396.5px,#d1bb59 402.5px,#8cbf75 409.5px,#3dba9b 416.5px,#1ab2b1 421.5px,#08aac0 426.5px,#0998d1 435.5px,#1485d4 444.5px,#1480d6 457.5px,#108fd2 469.5px,#06a1cd 480.5px,#0badbc 507.5px,#2cb7a5 548.5px,#33b8a1 606.5px)"></i>
<i style="top:87px;background:linear-gradient(90deg,#29b6a7 0.5px,#39b99d 17.5px,#54bd8e 27.5px,#8abf76 38.5px,#ddba54 50.5px,#fbbd40 54.5px,#fccd2e 57.5px,#f5e81a 61.5px,#f9fa0e 63.5px,#f9fa0e 123.5px,#f5de21 127.5px,#fec03b 133.5px,#e6b94f 137.5px,#9ebe6e 146.5px,#62be87 151.5px,#26b5a9 156.5px,#0aacbd 160.5px,#069fce 167.5px,#079dcf 178.5px,#06a8c4 184.5px,#14b0b5 187.5px,#3ab99c 190.5px,#a6be6b 195.5px,#efb94b 199.5px,#fdbe3e 200.5px,#f9d429 202.5px,#f5ec18 204.5px,#f9fb0e 205.5px,#f9fb0e 268.5px,#f8f810 269.5px,#f7d925 272.5px,#fec238 275.5px,#f1b949 277.5px,#8dbf74 286.5px,#37b99e 292.5px,#11afb7 296.5px,#07a9c3 299.5px,#06a0cd 307.5px,#06a5c8 315.5px,#09abbf 318.5px,#1eb3ae 321.5px,#49bc94 324.5px,#a4be6b 329.5px,#e3b951 334.5px,#fdbe3d 337.5px,#f6dd22 343.5px,#f7f611 350.5px,#f8f710 356.5px,#f7da25 368.5px,#fdcb30 381.5px,#fec139 392.5px,#f6ba46 396.5px,#d0bb5a 402.5px,#8ebf74 409.5px,#41ba98 416.5px,#1fb3ad 421.5px,#0aacbe 427.5px,#079cd0 439.5px,#108ed2 453.5px,#079bd0 470.5px,#07aac1 499.5px,#2cb7a5 548.5px,#33b8a1 606.5px)"></i>
<i style="top:88px;background:linear-gradient(90deg,#2bb6a6 0.5px,#3dba9b 17.5px,#59bd8b 27.5px,#97bf70 39.5px,#eeb94c 51.5px,#fec239 54.5px,#f5e919 60.5px,#f9fb0e 62.5px,#f9fb0e 124.5px,#f5de21 128.5px,#febf3c 134.5px,#e4b951 138.5px,#a1be6c 146.5px,#66be85 151.5px,#28b6a7 156.5px,#0badbc 160.5px,#06a3cb 165.5px,#079dcf 176.5px,#06a6c7 183.5px,#0dadbb 186.5px,#2cb6a5 189.5px,#4fbc91 191.5px,#b9bd63 196.5px,#eeb94b 199.5px,#fcbd3f 200.5px,#fad32a 202.5px,#f5ea19 204.5px,#f8f90f 205.5px,#f9fb0e 268.5px,#f5ea19 270.5px,#fec13a 275.5px,#f0b94a 277.5px,#8fbf74 286.5px,#2fb7a3 293.5px,#0eaeba 297.5px,#06a5c7 301.5px,#06a0cd 311.5px,#07a9c2 318.5px,#16b1b4 321.5px,#39b99d 324.5px,#91bf73 329.5px,#c7bc5d 333.5px,#f9bb44 338.5px,#ffc437 340.5px,#f5e71b 349.5px,#f5ee16 355.5px,#fbd12b 371.5px,#fdbe3d 392.5px,#eeb94b 397.5px,#bfbc61 404.5px,#7abf7c 411.5px,#3dba9b 417.5px,#1bb2b0 423.5px,#08aac0 431.5px,#079dcf 449.5px,#06a1cc 471.5px,#0bacbd 505.5px,#2cb7a5 548.5px,#33b8a1 606.5px)"></i>
<i style="top:89px;background:linear-gradient(90deg,#2db7a4 0.5px,#3eba9a 16.5px,#5abd8b 26.5px,#98bf70 38.5px,#e6b950 49.5px,#fcbd3f 52.5px,#fcce2e 55.5px,#f5ea19 59.5px,#f9fb0e 61.5px,#f9fb0e 125.5px,#f6de22 129.5px,#ffc238 134.5px,#f0b94a 137.5px,#a5be6b 146.5px,#6abe84 151.5px,#2bb6a6 156.5px,#0dadbb 160.5px,#06a5c8 164.5px,#079dcf 174.5px,#06a4c9 182.5px,#09abbf 185.5px,#20b4ad 188.5px,#3dba9b 190.5px,#a6be6b 195.5px,#edb94c 199.5px,#fcbd40 200.5px,#fec734 201.5px,#f5e81a 204.5px,#f7f611 205.5px,#f9fb0e 207.5px,#f9fb0e 268.5px,#f6de22 271.5px,#fec03c 275.5px,#eeb94b 277.5px,#90bf73 286.5px,#33b8a1 293.5px,#10afb8 297.5px,#06a8c4 300.5px,#069fce 308.5px,#06a5c8 317.5px,#0aacbe 320.5px,#21b4ac 323.5px,#49bc94 326.5px,#9dbe6e 331.5px,#d7ba57 336.5px,#f9bb44 340.5px,#fec733 343.5px,#f5e11f 351.5px,#f5e41d 358.5px,#fec635 378.5px,#fbbc41 392.5px,#e6b950 398.5px,#b6bd64 405.5px,#68be84 413.5px,#3ab99d 418.5px,#1bb2b0 424.5px,#09abbf 433.5px,#06a2cb 455.5px,#0aacbd 503.5px,#2db7a5 549.5px,#33b8a1 606.5px)"></i>
<i style="top:90px;background:linear-gradient(90deg,#2fb7a3 0.5px,#41ba98 16.5px,#5fbe88 26.5px,#9fbe6d 38.5px,#edb94c 49.5px,#fec239 52.5px,#f5e919 58.5px,#f9fb0e 60.5px,#f9fa0e 126.5px,#f6dc23 130.5px,#fec13a 135.5px,#eeb94c 138.5px,#a9be69 146.5px,#6ebf82 151.5px,#2db7a4 156.5px,#0eaeba 160.5px,#06a6c7 164.5px,#079dcf 174.5px,#06a5c8 182.5px,#0aacbe 185.5px,#22b4ab 188.5px,#3fba9a 190.5px,#a6be6a 195.5px,#ecb94c 199.5px,#fbbc41 200.5px,#fec635 201.5px,#f5e61c 204.5px,#f9fb0e 206.5px,#f9fa0e 268.5px,#f6dc23 271.5px,#fdbe3d 275.5px,#e2b952 278.5px,#86bf78 287.5px,#2cb7a5 294.5px,#0dadbb 298.5px,#06a5c8 302.5px,#069fce 312.5px,#06a8c5 319.5px,#10afb8 322.5px,#2db7a4 325.5px,#6bbf83 329.5px,#a6be6a 333.5px,#e2b952 339.5px,#fcbd3f 343.5px,#fad32a 349.5px,#f6dd22 357.5px,#fec13a 382.5px,#f6ba46 393.5px,#d9ba56 400.5px,#a6be6a 407.5px,#46bb96 417.5px,#27b5a8 422.5px,#10afb8 430.5px,#06a8c4 444.5px,#06a7c6 479.5px,#0faeb9 508.5px,#2db7a5 549.5px,#33b8a1 606.5px)"></i>
<i style="top:91px;background:linear-gradient(90deg,#31b8a2 0.5px,#42bb98 15.5px,#60be88 25.5px,#9fbe6d 37.5px,#edb94c 48.5px,#fec139 51.5px,#f5e91a 57.5px,#f9fb0e 59.5px,#f8f90f 127.5px,#f7db24 131.5px,#febf3c 136.5px,#e2b952 140.5px,#a2be6c 147.5px,#64be86 152.5px,#30b7a2 156.5px,#10afb9 160.5px,#06a7c6 164.5px,#079ecf 173.5px,#06a6c7 182.5px,#0badbc 185.5px,#24b5aa 188.5px,#54bd8e 191.5px,#b9bd63 196.5px,#fabb42 200.5px,#ffc436 201.5px,#f5e41d 204.5px,#f9fb0e 206.5px,#f9fb0e 267.5px,#f8f710 268.5px,#f7d925 271.5px,#ffc337 274.5px,#f4ba48 276.5px,#87bf77 287.5px,#30b7a2 294.5px,#0faeb9 298.5px,#06a6c7 302.5px,#069fce 311.5px,#06a6c7 319.5px,#0cadbc 322.5px,#23b4ab 325.5px,#4abc94 328.5px,#95bf71 333.5px,#c9bb5c 338.5px,#f6ba46 344.5px,#ffc338 347.5px,#f9d528 355.5px,#fad12b 365.5px,#fdbe3e 383.5px,#f3ba48 393.5px,#d8ba56 400.5px,#a7be6a 407.5px,#42bb98 418.5px,#23b4ab 424.5px,#0eaeba 433.5px,#06a8c4 455.5px,#08abc0 495.5px,#2db7a4 550.5px,#33b8a1 606.5px)"></i>
<i style="top:92px;background:linear-gradient(90deg,#33b8a1 0.5px,#45bb96 15.5px,#64be86 25.5px,#abbe69 38.5px,#f3ba48 48.5px,#fec03b 50.5px,#f5e71b 56.5px,#f9fa0e 58.5px,#f9fb0e 127.5px,#f5df21 131.5px,#fec239 136.5px,#eeb94b 139.5px,#a6be6a 147.5px,#68be84 152.5px,#34b8a0 156.5px,#12afb7 160.5px,#07a9c2 163.5px,#069fce 171.5px,#06a5c8 181.5px,#0dadbb 185.5px,#27b5a8 188.5px,#57bd8c 191.5px,#b9bd63 196.5px,#f9bb44 200.5px,#ffc337 201.5px,#f5ed17 205.5px,#f9fa0e 206.5px,#f9fb0e 267.5px,#f5df21 270.5px,#fec139 274.5px,#f1b949 276.5px,#7dbf7b 288.5px,#2ab6a6 295.5px,#0cadbb 299.5px,#06a5c8 303.5px,#069fce 313.5px,#06a7c6 320.5px,#0dadbb 323.5px,#24b5aa 326.5px,#58bd8c 330.5px,#91bf73 334.5px,#cbbb5c 340.5px,#f9bb43 347.5px,#fec634 351.5px,#fbd12b 359.5px,#fdbe3e 381.5px,#f0b94a 393.5px,#d7ba57 400.5px,#a9be69 407.5px,#3fba99 419.5px,#22b4ab 425.5px,#0eaeb9 435.5px,#06a8c3 463.5px,#0badbc 500.5px,#2db7a4 550.5px,#33b8a1 606.5px)"></i>
<i style="top:93px;background:linear-gradient(90deg,#34b8a0 0.5px,#47bb95 15.5px,#68be84 25.5px,#b0bd66 38.5px,#f2b949 47.5px,#febf3c 49.5px,#f5ee16 56.5px,#f8f810 57.5px,#f9fb0e 128.5px,#f6dc23 132.5px,#febf3c 137.5px,#eab94e 140.5px,#9fbe6d 148.5px,#43bb97 155.5px,#1bb2b0 159.5px,#08aac0 163.5px,#06a0cd 171.5px,#06a6c7 181.5px,#0aacbd 184.5px,#1fb3ae 187.5px,#47bb95 190.5px,#a8be6a 195.5px,#f7ba45 200.5px,#fec239 201.5px,#f5ea19 205.5px,#f8f710 206.5px,#f9fb0e 209.5px,#f9fa0e 267.5px,#f6dc23 270.5px,#febf3c 274.5px,#e5b950 277.5px,#73bf7f 289.5px,#25b5aa 296.5px,#0aacbd 300.5px,#06a0cd 307.5px,#06a2cb 318.5px,#09abbe 323.5px,#1cb3af 326.5px,#49bc94 330.5px,#8cbf75 335.5px,#c4bc5f 341.5px,#f6ba46 349.5px,#ffc338 353.5px,#fdcc30 362.5px,#fbbd40 381.5px,#eeb94b 393.5px,#d6ba57 400.5px,#aabe69 407.5px,#44bb97 419.5px,#26b5a9 425.5px,#11afb8 435.5px,#07aac1 459.5px,#0aacbd 496.5px,#2db7a4 551.5px,#33b8a1 606.5px)"></i>
<i style="top:94px;background:linear-gradient(90deg,#36b99f 0.5px,#49bc94 15.5px,#6cbf83 25.5px,#b5bd64 38.5px,#efb94b 46.5px,#fdbe3e 48.5px,#f9d528 52.5px,#f5ec18 55.5px,#f9fb0e 57.5px,#f8f810 129.5px,#f7d925 133.5px,#fec239 137.5px,#edb94c 140.5px,#a3be6c 148.5px,#55bd8d 154.5px,#27b5a8 158.5px,#0dadbb 162.5px,#06a5c8 167.5px,#06a2cb 177.5px,#09abbf 183.5px,#19b2b2 186.5px,#3bb99c 189.5px,#97bf70 194.5px,#f6ba46 200.5px,#fec03a 201.5px,#f5e71b 205.5px,#f9fb0e 207.5px,#f9fb0e 266.5px,#f5eb19 268.5px,#ffc437 273.5px,#f5ba47 275.5px,#a4be6b 284.5px,#5ebe89 291.5px,#20b4ad 297.5px,#09abbf 301.5px,#06a0cd 308.5px,#06a3cb 319.5px,#0aacbd 324.5px,#27b5a8 328.5px,#88bf77 336.5px,#bcbd61 342.5px,#f3b948 351.5px,#fec13a 356.5px,#fec734 365.5px,#f8ba45 385.5px,#e8b94f 395.5px,#cbbb5b 402.5px,#94bf72 410.5px,#48bb95 419.5px,#29b6a7 425.5px,#14b0b5 434.5px,#09abbf 457.5px,#0badbc 495.5px,#2eb7a4 551.5px,#33b8a1 606.5px)"></i>
<i style="top:95px;background:linear-gradient(90deg,#37b99e 0.5px,#49bc94 14.5px,#6abe83 24.5px,#b3bd65 37.5px,#f4ba47 46.5px,#fec13a 48.5px,#f5e91a 54.5px,#f9fb0e 56.5px,#f9fb0e 129.5px,#f6dc23 133.5px,#febf3d 138.5px,#dfba53 142.5px,#9bbf6f 149.5px,#35b89f 157.5px,#14b0b5 161.5px,#07a9c2 165.5px,#06a3cb 174.5px,#08aac0 182.5px,#15b0b5 185.5px,#31b8a2 188.5px,#61be88 191.5px,#b9bd63 196.5px,#f4ba47 200.5px,#febf3c 201.5px,#f6ef16 206.5px,#f9fb0e 207.5px,#f9fb0e 266.5px,#f6de22 269.5px,#fec139 273.5px,#f2b949 275.5px,#6bbf83 290.5px,#24b5aa 297.5px,#0aacbd 301.5px,#06a0cd 308.5px,#06a2cc 319.5px,#08aac0 324.5px,#1fb3ae 328.5px,#55bd8e 333.5px,#8dbf75 338.5px,#cabb5c 346.5px,#f3ba48 354.5px,#fec13a 360.5px,#fec13a 371.5px,#f1b94a 390.5px,#daba55 399.5px,#adbe68 407.5px,#45bb96 420.5px,#25b5aa 427.5px,#12afb7 438.5px,#09abbf 470.5px,#10afb8 502.5px,#2db7a4 550.5px,#33b8a1 606.5px)"></i>
<i style="top:96px;background:linear-gradient(90deg,#38b99d 0.5px,#4bbc93 14.5px,#6ebf82 24.5px,#b0bd66 36.5px,#f1b949 45.5px,#febf3c 47.5px,#f5e51c 53.5px,#f8f810 55.5px,#f9fb0e 129.5px,#f8f810 130.5px,#f5df21 133.5px,#fec13a 138.5px,#ebb94d 141.5px,#9fbe6d 149.5px,#3ab99d 157.5px,#18b1b2 161.5px,#08aac0 165.5px,#06a4c9 174.5px,#09acbe 182.5px,#20b4ad 186.5px,#43bb97 189.5px,#aabe69 195.5px,#f2b949 200.5px,#fdbe3e 201.5px,#fbcf2d 203.5px,#f5eb19 206.5px,#f7f611 207.5px,#f9fb0e 209.5px,#f9fb0e 265.5px,#f5ec18 267.5px,#febf3c 273.5px,#e5b950 276.5px,#63be87 291.5px,#20b4ad 298.5px,#09abbf 302.5px,#06a0cd 309.5px,#06a2cb 320.5px,#09abbf 325.5px,#20b4ad 329.5px,#5fbe89 335.5px,#98bf70 341.5px,#d9ba55 351.5px,#f7ba45 358.5px,#fec03b 366.5px,#f4ba47 387.5px,#e1ba52 397.5px,#bcbd62 405.5px,#79bf7d 414.5px,#43bb97 421.5px,#25b5aa 428.5px,#13b0b6 439.5px,#09acbe 474.5px,#15b1b4 508.5px,#2eb7a4 551.5px,#33b8a1 606.5px)"></i>
<i style="top:97px;background:linear-gradient(90deg,#3ab99d 0.5px,#4dbc91 14.5px,#70bf81 24.5px,#b4bd65 36.5px,#f5ba46 45.5px,#fec239 47.5px,#f5ea19 53.5px,#f9fb0e 55.5px,#f9fb0e 130.5px,#f5e11f 133.5px,#ffc238 138.5px,#f6ba46 140.5px,#a2be6c 149.5px,#4abc93 156.5px,#23b4ab 160.5px,#0dadbb 164.5px,#06a7c6 170.5px,#07a9c3 179.5px,#10afb8 183.5px,#2eb7a4 187.5px,#57bd8d 190.5px,#b9bd63 196.5px,#f0b94a 200.5px,#fbbc40 201.5px,#fccc2f 203.5px,#f5e71b 206.5px,#f9fb0e 208.5px,#f9fb0e 265.5px,#f5de21 268.5px,#ffc338 272.5px,#f4ba47 274.5px,#a7be6a 283.5px,#5bbd8b 292.5px,#1cb3af 299.5px,#08aac0 303.5px,#06a0cd 310.5px,#06a3ca 321.5px,#0aacbe 326.5px,#22b4ac 330.5px,#7abf7c 339.5px,#b5bd64 347.5px,#e6b950 356.5px,#f9bb43 363.5px,#fcbd3f 374.5px,#efb94b 391.5px,#d6ba57 400.5px,#aabe69 408.5px,#46bb95 421.5px,#27b6a8 428.5px,#15b0b5 439.5px,#0bacbd 473.5px,#16b1b4 507.5px,#2eb7a4 551.5px,#33b8a1 606.5px)"></i>
<i style="top:98px;background:linear-gradient(90deg,#3bb99c 0.5px,#4fbc91 14.5px,#73bf7f 24.5px,#b7bd64 36.5px,#f1b949 44.5px,#febf3c 46.5px,#f5e51c 52.5px,#f8f810 54.5px,#f9fb0e 130.5px,#f6dc23 134.5px,#fdbe3d 139.5px,#deba53 143.5px,#8fbf73 151.5px,#39b99d 158.5px,#1ab2b1 162.5px,#08abc0 167.5px,#06a8c4 176.5px,#0faeb9 182.5px,#28b6a7 186.5px,#4cbc93 189.5px,#b9bd63 196.5px,#f9bb43 201.5px,#fec239 202.5px,#f5ec17 207.5px,#f8f710 208.5px,#f9fb0e 213.5px,#f9fb0e 264.5px,#f7db24 268.5px,#fec03b 272.5px,#e7b94f 275.5px,#5dbe8a 292.5px,#19b2b2 300.5px,#07aac1 304.5px,#069fce 312.5px,#06a4ca 322.5px,#0badbc 327.5px,#2bb6a5 332.5px,#7dbf7b 341.5px,#c1bc60 351.5px,#ebb94d 360.5px,#fabc42 368.5px,#f5ba46 386.5px,#e2b952 397.5px,#bfbc60 405.5px,#80bf7a 414.5px,#44bb97 422.5px,#27b5a8 429.5px,#15b1b4 441.5px,#0dadbb 477.5px,#1bb2b0 512.5px,#2fb7a3 555.5px,#33b8a1 606.5px)"></i>
<i style="top:99px;background:linear-gradient(90deg,#3cba9b 0.5px,#51bc90 14.5px,#75bf7e 24.5px,#babd62 36.5px,#f4ba47 44.5px,#fec13a 46.5px,#f5e91a 52.5px,#f9fb0e 54.5px,#f9fb0e 130.5px,#f8f810 131.5px,#f5de21 134.5px,#fec03b 139.5px,#e9b94e 142.5px,#93bf72 151.5px,#35b8a0 159.5px,#14b0b5 164.5px,#08aac0 169.5px,#08abc0 178.5px,#17b1b3 183.5px,#37b99e 187.5px,#6fbf81 191.5px,#c6bc5e 197.5px,#f7ba45 201.5px,#fec03b 202.5px,#f5e81b 207.5px,#f9fb0e 209.5px,#f9fa0e 264.5px,#f5de21 267.5px,#ffc337 271.5px,#f5ba46 273.5px,#b2bd66 281.5px,#4dbc92 294.5px,#16b1b4 301.5px,#07a9c2 305.5px,#069fce 313.5px,#06a4c9 323.5px,#09abbf 327.5px,#25b5aa 332.5px,#79bf7d 342.5px,#c6bc5e 354.5px,#ecb94c 363.5px,#f9bb43 371.5px,#f4ba47 388.5px,#e0ba53 398.5px,#bbbd62 406.5px,#73bf7f 416.5px,#41ba98 423.5px,#27b5a8 430.5px,#16b1b4 443.5px,#0faeb9 480.5px,#23b4ab 523.5px,#31b8a2 567.5px,#33b8a1 606.5px)"></i>
<i style="top:100px;background:linear-gradient(90deg,#3dba9b 0.5px,#52bd8f 14.5px,#77bf7e 24.5px,#bcbd61 36.5px,#f7ba45 44.5px,#ffc337 46.5px,#f5ec18 52.5px,#f9fb0e 54.5px,#f9fa0e 131.5px,#f5e020 134.5px,#fec13a 139.5px,#ebb94d 142.5px,#97bf71 151.5px,#3ab99c 159.5px,#18b1b2 164.5px,#09abbf 170.5px,#0bacbd 178.5px,#1cb3b0 183.5px,#3cba9b 187.5px,#82bf79 192.5px,#ddba54 199.5px,#fdbe3e 202.5px,#f9d329 205.5px,#f5ec18 208.5px,#f9fb0e 210.5px,#f9fb0e 263.5px,#f5e11f 266.5px,#fec03b 271.5px,#e8b94f 274.5px,#92bf72 285.5px,#47bb95 295.5px,#14b0b5 302.5px,#06a8c3 306.5px,#069fce 314.5px,#06a5c8 324.5px,#0aacbd 328.5px,#2eb7a4 334.5px,#7bbf7c 344.5px,#cbbb5c 357.5px,#eeb94b 366.5px,#f9bb43 375.5px,#f2b949 390.5px,#deba54 399.5px,#b7bd64 407.5px,#67be85 418.5px,#3fba99 424.5px,#24b5aa 432.5px,#15b1b4 447.5px,#11afb7 485.5px,#2fb7a3 555.5px,#33b8a1 606.5px)"></i>
<i style="top:101px;background:linear-gradient(90deg,#3eba9a 0.5px,#51bd90 13.5px,#74bf7f 23.5px,#b8bd63 35.5px,#f2b949 43.5px,#febf3c 45.5px,#f5e61c 51.5px,#f8f80f 53.5px,#f9fb0e 131.5px,#f5e11f 134.5px,#fec239 139.5px,#f5ba47 141.5px,#9abf6f 151.5px,#40ba99 159.5px,#1db3af 164.5px,#0cadbc 170.5px,#0eaeba 178.5px,#20b4ad 183.5px,#41ba98 187.5px,#abbe68 195.5px,#f1b949 201.5px,#fec239 203.5px,#f5e71b 208.5px,#f9f90f 210.5px,#f9fb0e 262.5px,#f5ed17 264.5px,#ffc338 270.5px,#f5ba46 272.5px,#acbe68 281.5px,#4abc93 295.5px,#12afb7 303.5px,#06a8c4 307.5px,#069fce 316.5px,#06a6c7 325.5px,#0cadbc 329.5px,#36b99f 336.5px,#8abf76 348.5px,#d0bb59 360.5px,#f0b94a 369.5px,#f9bb43 379.5px,#efb94b 393.5px,#d4bb58 402.5px,#a0be6d 411.5px,#48bb95 423.5px,#2bb6a5 430.5px,#1ab2b1 442.5px,#12b0b6 479.5px,#30b7a3 559.5px,#33b8a1 606.5px)"></i>
<i style="top:102px;background:linear-gradient(90deg,#3fba9a 0.5px,#52bd8f 13.5px,#76bf7e 23.5px,#babd63 35.5px,#f4ba48 43.5px,#fec13a 45.5px,#f5e81b 51.5px,#f9fb0e 53.5px,#f9fb0e 131.5px,#f5e21f 134.5px,#ffc238 139.5px,#f6ba46 141.5px,#93bf72 152.5px,#3dba9b 160.5px,#1db3af 165.5px,#0faeb9 171.5px,#12b0b7 178.5px,#25b5a9 183.5px,#46bb96 187.5px,#b7bd64 196.5px,#f8ba44 202.5px,#fec635 204.5px,#f5ea19 209.5px,#f9fb0e 211.5px,#f8f90f 262.5px,#f5df21 265.5px,#febf3c 270.5px,#e8b94f 273.5px,#94bf72 284.5px,#3eba9a 297.5px,#10afb8 304.5px,#06a8c5 308.5px,#06a0cd 317.5px,#06a7c6 326.5px,#0eaeba 330.5px,#44bb97 339.5px,#abbe68 355.5px,#deba53 365.5px,#f4ba47 373.5px,#f8ba44 385.5px,#eab94e 396.5px,#ccbb5b 404.5px,#95bf71 413.5px,#4bbc93 423.5px,#2eb7a4 430.5px,#1db3af 441.5px,#14b0b5 477.5px,#29b6a7 531.5px,#32b8a1 594.5px,#33b8a1 606.5px)"></i>
<i style="top:103px;background:linear-gradient(90deg,#3fba99 0.5px,#53bd8e 13.5px,#77bf7e 23.5px,#bbbd62 35.5px,#f5ba46 43.5px,#fec239 45.5px,#f5e91a 51.5px,#f9fb0e 53.5px,#f9fb0e 131.5px,#f6db24 135.5px,#ffc338 139.5px,#f6ba45 141.5px,#8cbf75 153.5px,#43bb97 160.5px,#23b4ab 165.5px,#13b0b6 171.5px,#17b1b3 178.5px,#2bb6a6 183.5px,#4bbc93 187.5px,#b6bd64 196.5px,#f4ba47 202.5px,#ffc338 204.5px,#f5ec18 210.5px,#f9fb0e 212.5px,#f9fa0e 261.5px,#f5e11f 264.5px,#fec139 269.5px,#ecb94d 272.5px,#98bf70 283.5px,#40ba99 297.5px,#0faeb9 305.5px,#06a6c7 310.5px,#06a1cd 320.5px,#07aac2 328.5px,#19b2b1 333.5px,#75bf7f 348.5px,#cebb5a 363.5px,#efb94a 372.5px,#f9bb43 381.5px,#f0b94a 394.5px,#d3bb58 403.5px,#9fbe6d 412.5px,#48bb94 424.5px,#2db7a4 431.5px,#1db3af 443.5px,#17b1b3 482.5px,#30b7a2 560.5px,#33b8a1 606.5px)"></i>
<i style="top:104px;background:linear-gradient(90deg,#40ba99 0.5px,#54bd8e 13.5px,#78bf7d 23.5px,#bcbd62 35.5px,#f6ba46 43.5px,#ffc238 45.5px,#f5ea19 51.5px,#f9fb0e 53.5px,#f9fb0e 131.5px,#f6db23 135.5px,#ffc337 139.5px,#f7ba45 141.5px,#8fbf74 153.5px,#41ba99 161.5px,#24b5aa 166.5px,#17b1b3 172.5px,#1eb3ae 179.5px,#36b99f 184.5px,#5abd8b 188.5px,#c9bb5c 198.5px,#f9bb43 203.5px,#fec635 205.5px,#f5ee16 211.5px,#f9fb0e 213.5px,#f9fb0e 260.5px,#f6dc23 264.5px,#ffc337 268.5px,#f7ba45 270.5px,#b8bd63 278.5px,#6cbf82 290.5px,#29b6a7 301.5px,#0aacbe 307.5px,#06a1cc 315.5px,#06a5c8 325.5px,#0aacbd 330.5px,#37b99e 339.5px,#9dbe6e 356.5px,#daba55 367.5px,#f3ba48 375.5px,#f9bb43 385.5px,#edb94c 396.5px,#d1bb59 404.5px,#9bbf6f 413.5px,#4bbc93 424.5px,#2fb7a3 431.5px,#1fb3ae 443.5px,#18b2b2 482.5px,#31b8a2 561.5px,#33b8a1 606.5px)"></i>
<i style="top:105px;background:linear-gradient(90deg,#40ba99 0.5px,#55bd8e 13.5px,#79bf7d 23.5px,#bdbd61 35.5px,#f7ba45 43.5px,#ffc338 45.5px,#f5ea19 51.5px,#f9fb0e 53.5px,#f9fb0e 131.5px,#f6db24 135.5px,#ffc338 139.5px,#f7ba45 141.5px,#88bf76 154.5px,#46bb95 161.5px,#2ab6a7 166.5px,#1cb3af 172.5px,#21b4ac 178.5px,#35b89f 183.5px,#5fbe89 188.5px,#d0bb59 199.5px,#fcbd40 204.5px,#fcce2e 207.5px,#f6ef16 212.5px,#f9fb0e 214.5px,#f9fb0e 259.5px,#f6dd22 263.5px,#fec03c 268.5px,#eab94e 271.5px,#93bf72 283.5px,#39b99d 299.5px,#0cadbb 307.5px,#06a4c9 313.5px,#06a3ca 324.5px,#0cadbc 331.5px,#62be87 348.5px,#cfbb5a 366.5px,#f0b94a 375.5px,#f9bb43 384.5px,#f1b94a 395.5px,#d8ba56 403.5px,#a5be6b 412.5px,#4fbc91 424.5px,#31b8a2 431.5px,#21b4ac 442.5px,#1ab2b1 480.5px,#31b8a2 564.5px,#33b8a1 606.5px)"></i>
<i style="top:106px;background:linear-gradient(90deg,#41ba98 0.5px,#55bd8d 13.5px,#79bf7d 23.5px,#bdbd61 35.5px,#f7ba45 43.5px,#ffc338 45.5px,#f5ea19 51.5px,#f9fb0e 53.5px,#f9fb0e 131.5px,#f5e11f 134.5px,#ffc338 139.5px,#f6ba45 141.5px,#79bf7d 156.5px,#45bb96 162.5px,#2cb6a5 167.5px,#21b4ac 173.5px,#29b6a7 179.5px,#41ba98 184.5px,#77bf7e 190.5px,#e7b94f 202.5px,#fdbe3d 205.5px,#f6ef16 213.5px,#f9fb0e 215.5px,#f9fb0e 258.5px,#f6de22 262.5px,#fec13a 267.5px,#edb94c 270.5px,#96bf71 282.5px,#36b99f 300.5px,#0cadbc 308.5px,#06a3ca 315.5px,#06a5c8 326.5px,#0bacbd 331.5px,#60be88 349.5px,#d2bb59 368.5px,#f0b94a 376.5px,#f9bb43 385.5px,#f1b94a 396.5px,#d6ba57 404.5px,#a2be6c 413.5px,#4cbc92 425.5px,#31b8a2 432.5px,#21b4ac 444.5px,#1db3af 485.5px,#31b8a2 564.5px,#33b8a1 606.5px)"></i>
<i style="top:107px;background:linear-gradient(90deg,#41ba98 0.5px,#56bd8d 13.5px,#79bf7d 23.5px,#bdbd61 35.5px,#f7ba45 43.5px,#ffc338 45.5px,#f5ea19 51.5px,#f9fb0e 53.5px,#f9fa0e 131.5px,#f5e020 134.5px,#fec239 139.5px,#eeb94b 142.5px,#62be87 159.5px,#3ab99d 165.5px,#28b6a7 171.5px,#2ab6a6 177.5px,#40ba99 183.5px,#66be85 188.5px,#e3b951 202.5px,#fabc42 205.5px,#fdcb30 208.5px,#f5e81a 213.5px,#f9fb0e 216.5px,#f9fb0e 257.5px,#f5de21 261.5px,#fec238 266.5px,#efb94b 269.5px,#99bf70 281.5px,#5fbe88 292.5px,#22b4ab 304.5px,#09abbf 310.5px,#06a2cb 319.5px,#07a9c3 329.5px,#18b1b2 335.5px,#69be84 352.5px,#d1bb59 369.5px,#f0b94a 377.5px,#f9bb43 385.5px,#f2b949 396.5px,#d9ba56 404.5px,#a5be6b 413.5px,#4fbc91 425.5px,#33b8a1 432.5px,#23b5ab 443.5px,#1eb3ae 483.5px,#31b8a2 568.5px,#33b8a1 606.5px)"></i>
<i style="top:108px;background:linear-gradient(90deg,#42bb98 0.5px,#56bd8d 13.5px,#79bf7d 23.5px,#bdbd61 35.5px,#f6ba46 43.5px,#fec238 45.5px,#f5e91a 51.5px,#f9fb0e 53.5px,#f8f80f 131.5px,#f5df21 134.5px,#fec13a 139.5px,#edb94c 142.5px,#5fbe89 160.5px,#3bb99c 166.5px,#2db7a4 172.5px,#32b8a2 178.5px,#4bbc93 184.5px,#9dbe6e 194.5px,#f5ba46 205.5px,#fec13a 207.5px,#f5ee16 215.5px,#f9fb0e 217.5px,#f8f90f 256.5px,#f5de21 260.5px,#ffc337 265.5px,#f8ba44 267.5px,#b6bd64 276.5px,#74bf7f 287.5px,#31b8a2 302.5px,#0aacbd 310.5px,#06a3ca 319.5px,#07a9c3 329.5px,#16b1b4 335.5px,#67be85 353.5px,#d0bb59 370.5px,#efb94a 378.5px,#f9bb43 386.5px,#f3ba48 396.5px,#dbba55 404.5px,#a8be6a 413.5px,#4dbc92 426.5px,#32b8a1 433.5px,#24b5aa 445.5px,#21b4ac 489.5px,#31b8a2 570.5px,#33b8a1 606.5px)"></i>
<i style="top:109px;background:linear-gradient(90deg,#42bb98 0.5px,#56bd8d 13.5px,#79bf7d 23.5px,#bcbd62 35.5px,#f5ba46 43.5px,#fec139 45.5px,#f5e71b 51.5px,#f9fa0e 53.5px,#f9fb0e 130.5px,#f6dd22 134.5px,#fec03b 139.5px,#ecb94d 142.5px,#5cbe8a 161.5px,#3dba9b 167.5px,#32b8a1 173.5px,#3ab99d 179.5px,#56bd8d 185.5px,#d2bb59 201.5px,#f7ba45 206.5px,#fec734 209.5px,#f5ec17 216.5px,#f9fa0f 218.5px,#f9fb0e 254.5px,#f6dd22 259.5px,#febe3d 265.5px,#e3b951 269.5px,#8cbf75 282.5px,#5dbe89 292.5px,#2fb7a3 303.5px,#0aacbd 311.5px,#06a4ca 320.5px,#07aac1 330.5px,#1db3af 337.5px,#60be88 353.5px,#cfbb5a 371.5px,#efb94b 379.5px,#f9bb43 387.5px,#f3b948 397.5px,#d9ba56 405.5px,#a4be6b 414.5px,#50bc90 426.5px,#34b8a0 433.5px,#25b5aa 445.5px,#22b4ab 490.5px,#32b8a1 574.5px,#33b8a1 606.5px)"></i>
<i style="top:110px;background:linear-gradient(90deg,#42bb98 0.5px,#56bd8d 13.5px,#79bf7d 23.5px,#bbbd62 35.5px,#f4ba47 43.5px,#fec03b 45.5px,#f5ee16 52.5px,#f8f710 53.5px,#f9fb0e 62.5px,#f9fb0e 130.5px,#f6db23 134.5px,#febf3d 139.5px,#e3b951 143.5px,#61be88 161.5px,#42bb98 167.5px,#38b99e 174.5px,#42bb98 180.5px,#60be88 186.5px,#f1b949 206.5px,#fec238 209.5px,#f5ea19 217.5px,#f9fb0e 220.5px,#f9fa0e 253.5px,#f6dc23 258.5px,#febf3c 264.5px,#e4b950 268.5px,#8fbf74 281.5px,#60be88 291.5px,#32b8a2 303.5px,#0aacbe 312.5px,#06a4c9 321.5px,#08abc0 331.5px,#27b5a8 340.5px,#5fbe89 354.5px,#cfbb5a 372.5px,#efb94b 380.5px,#f9bb43 388.5px,#f2b949 398.5px,#d6ba57 406.5px,#99bf6f 416.5px,#4dbc92 427.5px,#34b8a0 434.5px,#26b5a9 446.5px,#24b5aa 494.5px,#32b8a1 579.5px,#33b8a1 606.5px)"></i>
<i style="top:111px;background:linear-gradient(90deg,#42bb98 0.5px,#59bd8c 14.5px,#7dbf7b 24.5px,#c0bc60 36.5px,#f2b949 43.5px,#febf3c 45.5px,#f5eb18 52.5px,#f9fb0e 54.5px,#f8f90f 130.5px,#f5e020 133.5px,#ffc238 138.5px,#f0b94a 141.5px,#5fbe89 162.5px,#45bb96 168.5px,#3dba9b 175.5px,#4abc93 181.5px,#6fbf81 188.5px,#f2b949 207.5px,#fec239 210.5px,#f5ed17 219.5px,#f9fb0e 222.5px,#f9fb0e 251.5px,#f6db24 257.5px,#febf3c 263.5px,#e5b950 267.5px,#8bbf75 281.5px,#5ebe89 291.5px,#34b8a0 303.5px,#0aacbe 313.5px,#06a5c8 322.5px,#0aacbe 332.5px,#59bd8c 354.5px,#d3bb58 374.5px,#f1b949 382.5px,#f9bb43 391.5px,#eeb94b 400.5px,#cfbb5a 408.5px,#87bf77 419.5px,#50bc90 427.5px,#36b99f 434.5px,#27b5a8 446.5px,#26b5a9 495.5px,#32b8a1 585.5px,#33b8a1 606.5px)"></i>
<i style="top:112px;background:linear-gradient(90deg,#43bb97 0.5px,#58bd8c 14.5px,#7cbf7b 24.5px,#bfbc60 36.5px,#f7ba45 44.5px,#ffc338 46.5px,#f5e81a 52.5px,#f9fa0e 54.5px,#f9fb0e 129.5px,#f6dd22 133.5px,#fec13a 138.5px,#edb94c 141.5px,#68be84 161.5px,#4abc94 168.5px,#42bb98 175.5px,#52bd8f 182.5px,#7dbf7b 190.5px,#f2b949 208.5px,#fec239 211.5px,#f5ee16 221.5px,#f9fb0e 224.5px,#f9fb0e 249.5px,#f6dd22 255.5px,#fdbe3d 262.5px,#dfba53 267.5px,#88bf77 281.5px,#5dbe89 291.5px,#33b8a1 304.5px,#0aacbe 314.5px,#06a6c7 323.5px,#0cadbc 333.5px,#58bd8c 355.5px,#d3bb58 375.5px,#f1b94a 383.5px,#f9bb43 392.5px,#ecb94c 401.5px,#cbbb5b 409.5px,#83bf79 420.5px,#4ebc91 428.5px,#35b89f 435.5px,#28b6a8 447.5px,#28b6a8 499.5px,#32b8a1 595.5px,#33b8a1 606.5px)"></i>
<i style="top:113px;background:linear-gradient(90deg,#43bb97 0.5px,#58bd8c 14.5px,#7bbf7c 24.5px,#bdbd61 36.5px,#f5ba47 44.5px,#fec13a 46.5px,#f5ed17 53.5px,#f9fb0e 55.5px,#f9fa0e 129.5px,#f7da24 133.5px,#febf3d 138.5px,#e3b951 142.5px,#70bf81 160.5px,#51bc90 167.5px,#47bb95 174.5px,#52bd8f 181.5px,#77bf7e 189.5px,#f2b949 209.5px,#fec13a 212.5px,#f5ee16 223.5px,#f9fb0e 227.5px,#f8f90f 247.5px,#f6db24 254.5px,#fec239 260.5px,#f3ba48 263.5px,#8fbf74 279.5px,#62be87 289.5px,#31b8a2 305.5px,#0aacbd 315.5px,#06a6c6 324.5px,#0badbc 333.5px,#53bd8e 355.5px,#89bf76 364.5px,#d3bb58 376.5px,#f0b94a 384.5px,#f8ba44 393.5px,#edb94c 401.5px,#cdbb5b 409.5px,#86bf77 420.5px,#51bc90 428.5px,#37b99e 435.5px,#29b6a7 447.5px,#29b6a7 501.5px,#33b8a1 606.5px)"></i>
<i style="top:114px;background:linear-gradient(90deg,#43bb97 0.5px,#58bd8c 14.5px,#7abf7c 24.5px,#bbbd62 36.5px,#f2b949 44.5px,#febf3c 46.5px,#f5e91a 53.5px,#f9fb0e 55.5px,#f9fb0e 128.5px,#f6dd22 132.5px,#fec139 137.5px,#efb94b 140.5px,#8ebf74 155.5px,#5bbd8a 165.5px,#4bbc93 172.5px,#50bc90 179.5px,#6dbf82 187.5px,#f1b949 210.5px,#fec03b 213.5px,#f5ec17 225.5px,#f9fb0e 230.5px,#f8f810 244.5px,#f6dc23 252.5px,#fec13a 259.5px,#ecb94d 263.5px,#86bf77 280.5px,#5dbe89 290.5px,#33b8a0 305.5px,#0dadbb 315.5px,#06a7c5 324.5px,#0badbc 333.5px,#53bd8f 356.5px,#88bf76 365.5px,#d2bb59 377.5px,#efb94a 385.5px,#f7ba45 394.5px,#ebb94d 402.5px,#cabb5c 410.5px,#7bbf7c 422.5px,#4abc94 430.5px,#32b8a1 438.5px,#28b6a8 454.5px,#33b8a1 606.5px)"></i>
<i style="top:115px;background:linear-gradient(90deg,#43bb97 0.5px,#57bd8c 14.5px,#79bf7d 24.5px,#b9bd63 36.5px,#f6ba46 45.5px,#fec734 48.5px,#f5ec17 54.5px,#f9fb0e 56.5px,#f8f810 128.5px,#f7da24 132.5px,#febf3d 137.5px,#e4b950 141.5px,#88bf76 156.5px,#5ebe89 165.5px,#4fbc91 172.5px,#53bd8e 179.5px,#6dbf82 187.5px,#d9ba56 207.5px,#fabc42 213.5px,#fec931 217.5px,#f5e91a 227.5px,#f8f710 235.5px,#f6f015 243.5px,#f9d528 252.5px,#febf3c 258.5px,#e5b950 263.5px,#83bf79 280.5px,#5bbe8a 290.5px,#32b8a1 306.5px,#0dadbb 316.5px,#06a8c4 325.5px,#0daeba 334.5px,#53bd8f 357.5px,#88bf76 366.5px,#d2bb59 378.5px,#efb94b 386.5px,#f6ba46 395.5px,#e9b94e 403.5px,#c6bc5d 411.5px,#51bd90 429.5px,#38b99e 436.5px,#2ab6a6 448.5px,#2cb7a5 512.5px,#33b8a1 606.5px)"></i>
<i style="top:116px;background:linear-gradient(90deg,#42bb98 0.5px,#56bd8d 14.5px,#77bf7d 24.5px,#b6bd64 36.5px,#f3b948 45.5px,#ffc436 48.5px,#f5e81b 54.5px,#f8f80f 56.5px,#f9fb0e 127.5px,#f6dc23 131.5px,#fec13a 136.5px,#e8b94f 140.5px,#92bf72 154.5px,#60be88 165.5px,#52bd8f 173.5px,#5abd8b 181.5px,#7fbf7a 191.5px,#eeb94b 212.5px,#fec03b 216.5px,#f5e020 227.5px,#f5ec17 236.5px,#f5e11f 245.5px,#fec13a 256.5px,#efb94b 260.5px,#7fbf7a 280.5px,#5abd8b 290.5px,#34b8a0 306.5px,#0daebb 317.5px,#07a9c3 327.5px,#10afb9 335.5px,#53bd8f 358.5px,#88bf76 367.5px,#d1bb59 379.5px,#edb94c 387.5px,#f5ba47 395.5px,#e9b94e 403.5px,#c8bc5d 411.5px,#73bf7f 424.5px,#4abc93 431.5px,#33b8a0 439.5px,#2ab6a7 455.5px,#33b8a1 606.5px)"></i>
<i style="top:117px;background:linear-gradient(90deg,#42bb98 0.5px,#56bd8d 14.5px,#76bf7e 24.5px,#b3bd65 36.5px,#f6ba46 46.5px,#fec634 49.5px,#f5ea19 55.5px,#f9fb0e 57.5px,#f9fb0e 126.5px,#f6de22 130.5px,#ffc338 135.5px,#f2b949 138.5px,#a1be6c 151.5px,#69be84 163.5px,#56bd8d 171.5px,#58bd8c 179.5px,#71bf80 188.5px,#c2bc5f 205.5px,#fabc42 216.5px,#fdca31 221.5px,#f5e11f 233.5px,#f5df21 242.5px,#fec535 253.5px,#f7ba45 257.5px,#8fbf74 276.5px,#61be88 287.5px,#33b8a1 307.5px,#0eaeba 318.5px,#07aac1 328.5px,#12afb7 336.5px,#4fbc91 358.5px,#7bbf7c 366.5px,#cbbb5b 379.5px,#eab94e 387.5px,#f3ba48 395.5px,#e9b94e 403.5px,#c9bc5c 411.5px,#7dbf7b 423.5px,#4cbc92 431.5px,#35b8a0 439.5px,#2bb6a6 454.5px,#33b8a1 606.5px)"></i>
<i style="top:118px;background:linear-gradient(90deg,#42bb98 0.5px,#57bd8c 15.5px,#7dbf7b 26.5px,#c2bc5f 39.5px,#f8ba44 47.5px,#fec833 50.5px,#f5eb18 56.5px,#f9fb0e 58.5px,#f9fb0e 125.5px,#f5df20 129.5px,#febf3c 135.5px,#e6b94f 139.5px,#99bf6f 152.5px,#66be85 164.5px,#57bd8c 172.5px,#5dbe8a 181.5px,#7cbf7c 191.5px,#d5ba57 210.5px,#fbbc41 218.5px,#fdcb30 224.5px,#f7da24 235.5px,#fad22a 245.5px,#febf3c 253.5px,#e5b950 259.5px,#78bf7d 280.5px,#57bd8d 290.5px,#35b89f 307.5px,#0cadbb 320.5px,#09abbf 330.5px,#1ab2b1 339.5px,#4fbc91 359.5px,#7bbf7c 367.5px,#cabb5c 380.5px,#e8b94e 388.5px,#f1b949 396.5px,#e5b950 404.5px,#c5bc5e 412.5px,#4fbc91 431.5px,#36b99f 439.5px,#2bb6a6 454.5px,#33b8a1 606.5px)"></i>
<i style="top:119px;background:linear-gradient(90deg,#42bb98 0.5px,#56bd8d 15.5px,#7abf7c 26.5px,#bfbc61 39.5px,#f4ba48 47.5px,#ffc436 50.5px,#f5ec17 57.5px,#f9fb0e 59.5px,#f9fb0e 124.5px,#f7da24 129.5px,#fec13a 134.5px,#e9b94e 138.5px,#9cbf6e 151.5px,#6abe83 163.5px,#59bd8c 172.5px,#5ebe89 181.5px,#7dbf7b 192.5px,#ddba54 213.5px,#fdbe3e 221.5px,#fbd02c 231.5px,#fbd12b 241.5px,#febe3d 251.5px,#e2b951 258.5px,#75bf7f 280.5px,#53bd8e 291.5px,#34b8a0 308.5px,#0daebb 321.5px,#0aacbd 331.5px,#20b4ad 341.5px,#4bbc93 359.5px,#74bf7f 367.5px,#c4bc5e 380.5px,#e4b951 388.5px,#efb94b 396.5px,#e5b950 404.5px,#c6bc5e 412.5px,#7bbf7c 424.5px,#4cbc92 432.5px,#36b99f 440.5px,#2cb6a5 456.5px,#33b8a1 606.5px)"></i>
<i style="top:120px;background:linear-gradient(90deg,#42bb98 0.5px,#55bd8d 15.5px,#78bf7d 26.5px,#bbbd62 39.5px,#f5ba46 48.5px,#fec535 51.5px,#f5ed17 58.5px,#f9fb0e 60.5px,#f9fb0e 123.5px,#f7db24 128.5px,#fec139 133.5px,#f1b94a 136.5px,#a3be6b 149.5px,#70bf81 161.5px,#5cbe8a 170.5px,#5cbe8a 179.5px,#74bf7f 190.5px,#b5bd64 206.5px,#f7ba45 221.5px,#ffc436 227.5px,#fdcc2f 238.5px,#febf3c 248.5px,#ecb94c 254.5px,#72bf80 280.5px,#52bd8f 291.5px,#33b8a1 309.5px,#0eaeba 322.5px,#0badbc 331.5px,#1fb3ad 341.5px,#4cbc92 360.5px,#74bf7f 368.5px,#c3bc5f 381.5px,#e2b951 389.5px,#ecb94c 397.5px,#e1b952 405.5px,#c1bc5f 413.5px,#4ebc91 432.5px,#37b99e 440.5px,#2cb7a5 455.5px,#33b8a1 606.5px)"></i>
<i style="top:121px;background:linear-gradient(90deg,#41bb98 0.5px,#54bd8e 15.5px,#76bf7e 26.5px,#b7bd64 39.5px,#f6ba45 49.5px,#fec635 52.5px,#f5ec17 59.5px,#f9fb0e 61.5px,#f9fb0e 122.5px,#f7db24 127.5px,#fec239 132.5px,#f2b949 135.5px,#a5be6b 148.5px,#72bf80 160.5px,#5cbe8a 170.5px,#5dbe89 180.5px,#75bf7e 191.5px,#b9bd63 208.5px,#f5ba46 223.5px,#fec239 230.5px,#ffc337 241.5px,#f9bb44 248.5px,#cabb5c 260.5px,#6ebf81 280.5px,#51bc90 291.5px,#32b8a1 310.5px,#0faeb9 323.5px,#0daebb 332.5px,#49bb94 360.5px,#68be84 367.5px,#c2bc5f 382.5px,#e0ba52 390.5px,#e9b94e 398.5px,#ddba54 406.5px,#b8bd63 415.5px,#50bc90 432.5px,#38b99e 440.5px,#2db7a4 455.5px,#33b8a1 606.5px)"></i>
<i style="top:122px;background:linear-gradient(90deg,#41ba98 0.5px,#55bd8d 16.5px,#78bf7d 27.5px,#b8bd63 40.5px,#f7ba45 50.5px,#fec635 53.5px,#f5eb18 60.5px,#f9fa0e 62.5px,#f9fa0e 121.5px,#f5e020 125.5px,#fec238 131.5px,#f3b948 134.5px,#a7be6a 147.5px,#74bf7f 159.5px,#5ebe89 169.5px,#5cbe8a 179.5px,#70bf80 190.5px,#a6be6a 205.5px,#edb94c 223.5px,#fcbd3f 231.5px,#fcbd3f 241.5px,#edb94c 249.5px,#b0bd66 264.5px,#68be84 281.5px,#4cbc92 293.5px,#34b8a0 310.5px,#10afb8 324.5px,#0faeb9 333.5px,#49bc94 361.5px,#6ebf81 369.5px,#c1bc60 383.5px,#deba54 391.5px,#e6b950 399.5px,#d9ba56 407.5px,#b3bd65 416.5px,#52bd8f 432.5px,#39b99d 440.5px,#2eb7a4 454.5px,#33b8a1 606.5px)"></i>
<i style="top:123px;background:linear-gradient(90deg,#41ba98 0.5px,#54bd8e 16.5px,#75bf7f 27.5px,#babd63 41.5px,#f7ba45 51.5px,#fec635 54.5px,#f5e919 61.5px,#f9fb0e 64.5px,#f9fb0e 119.5px,#f5de21 124.5px,#fec239 130.5px,#f3b948 133.5px,#a3be6c 147.5px,#72bf80 159.5px,#5dbe8a 170.5px,#5ebe89 181.5px,#76bf7e 193.5px,#c5bc5e 214.5px,#eeb94b 227.5px,#f7ba45 237.5px,#eab94e 247.5px,#bcbd62 260.5px,#68be84 280.5px,#4dbc92 292.5px,#33b8a1 311.5px,#12afb7 325.5px,#12afb7 334.5px,#49bc94 362.5px,#6ebf82 370.5px,#bfbc60 384.5px,#dbba55 392.5px,#e3b951 400.5px,#d5ba57 408.5px,#aebe67 417.5px,#50bc90 433.5px,#38b99d 441.5px,#2eb7a4 456.5px,#33b8a1 606.5px)"></i>
<i style="top:124px;background:linear-gradient(90deg,#40ba99 0.5px,#53bd8f 16.5px,#72bf80 27.5px,#b5bd64 41.5px,#f7ba45 52.5px,#fec535 55.5px,#f5ed17 63.5px,#f9fa0e 65.5px,#f9fa0e 118.5px,#f6dd22 123.5px,#fec139 129.5px,#f2b949 132.5px,#a4be6b 146.5px,#74bf7f 158.5px,#5dbe89 169.5px,#5dbe89 181.5px,#76bf7e 194.5px,#deba53 224.5px,#eeb94b 234.5px,#e7b94f 244.5px,#c4bc5e 256.5px,#66be85 280.5px,#4abc93 293.5px,#33b8a1 312.5px,#13b0b6 326.5px,#14b0b5 335.5px,#49bc94 363.5px,#6ebf82 371.5px,#bdbd61 385.5px,#d8ba56 393.5px,#dfba53 401.5px,#d0bb59 409.5px,#a9be69 418.5px,#51bd8f 433.5px,#39b99d 441.5px,#2eb7a4 456.5px,#33b8a1 606.5px)"></i>
<i style="top:125px;background:linear-gradient(90deg,#40ba99 0.5px,#53bd8e 17.5px,#73bf7f 28.5px,#b5bd64 42.5px,#f6ba46 53.5px,#ffc436 56.5px,#f5ea19 64.5px,#f9fb0e 67.5px,#f9fb0e 116.5px,#f5df21 121.5px,#fec03b 128.5px,#ebb94d 132.5px,#9bbf6f 147.5px,#6fbf81 159.5px,#5cbe8a 170.5px,#5ebe89 182.5px,#76bf7e 195.5px,#d6ba57 224.5px,#e5b950 234.5px,#deba53 244.5px,#bdbd61 256.5px,#63be87 280.5px,#4abc94 293.5px,#32b8a1 313.5px,#14b0b5 327.5px,#16b1b4 336.5px,#46bb96 363.5px,#68be84 371.5px,#bbbd62 386.5px,#d5ba57 394.5px,#dbba55 402.5px,#cbbb5b 410.5px,#a3be6c 419.5px,#53bd8f 433.5px,#3ab99c 441.5px,#2fb7a3 455.5px,#33b8a1 606.5px)"></i>
<i style="top:126px;background:linear-gradient(90deg,#40ba99 0.5px,#52bd8f 17.5px,#70bf81 28.5px,#b0bd66 42.5px,#f5ba47 54.5px,#ffc338 57.5px,#f5eb18 66.5px,#f9fb0e 69.5px,#f9fb0e 114.5px,#f6dc23 120.5px,#febf3c 127.5px,#e4b950 132.5px,#96bf71 147.5px,#6cbf82 159.5px,#5abd8b 171.5px,#5fbe89 184.5px,#78bf7d 197.5px,#cebb5b 224.5px,#dcba54 235.5px,#d4bb58 245.5px,#afbe67 258.5px,#63be87 279.5px,#49bc94 293.5px,#32b8a2 314.5px,#16b1b4 328.5px,#19b2b2 337.5px,#46bb95 364.5px,#67be85 372.5px,#b9bd63 387.5px,#d2bb59 395.5px,#d7ba57 403.5px,#c6bc5d 411.5px,#98bf70 421.5px,#50bc90 434.5px,#39b99d 442.5px,#2fb7a3 457.5px,#33b8a1 606.5px)"></i>
<i style="top:127px;background:linear-gradient(90deg,#3fba99 0.5px,#53bd8f 18.5px,#75bf7f 30.5px,#bbbd62 45.5px,#f8bb44 56.5px,#fec536 59.5px,#f5eb18 68.5px,#f9fb0e 71.5px,#f9fb0e 112.5px,#f6dd22 118.5px,#fec139 125.5px,#eeb94b 129.5px,#9bbf6f 145.5px,#6fbf81 157.5px,#5bbd8b 169.5px,#5cbe8a 183.5px,#75bf7e 197.5px,#c6bc5e 224.5px,#d3bb58 235.5px,#cabb5c 246.5px,#a1be6c 260.5px,#60be88 279.5px,#48bb95 293.5px,#31b8a2 315.5px,#18b1b3 329.5px,#1cb3af 339.5px,#46bb95 365.5px,#67be85 373.5px,#b6bd64 388.5px,#cfbb5a 396.5px,#d2bb59 404.5px,#c1bc60 412.5px,#93bf72 422.5px,#51bd8f 434.5px,#39b99d 443.5px,#2fb7a3 460.5px,#33b8a1 606.5px)"></i>
<i style="top:128px;background:linear-gradient(90deg,#3fba9a 0.5px,#51bd90 18.5px,#71bf80 30.5px,#b5bd65 45.5px,#f6ba46 57.5px,#ffc238 60.5px,#f5ea19 70.5px,#f9fb0e 74.5px,#f9fb0e 109.5px,#f6dd22 116.5px,#febf3c 124.5px,#e6b94f 129.5px,#92bf72 146.5px,#6abe83 158.5px,#59bd8c 170.5px,#5cbe8a 184.5px,#74bf7f 198.5px,#bebc61 224.5px,#cbbb5c 235.5px,#c1bc5f 246.5px,#9bbf6f 260.5px,#5ebe89 279.5px,#46bb96 294.5px,#31b8a2 316.5px,#19b2b1 330.5px,#1fb3ae 340.5px,#46bb95 366.5px,#66be85 374.5px,#b0bd67 388.5px,#cbbb5c 397.5px,#cebb5b 405.5px,#bcbd62 413.5px,#8dbf74 423.5px,#4ebc91 435.5px,#38b99e 444.5px,#2fb7a3 463.5px,#33b8a1 606.5px)"></i>
<i style="top:129px;background:linear-gradient(90deg,#3fba9a 0.5px,#50bc90 18.5px,#6ebf82 30.5px,#afbe67 45.5px,#f3ba48 58.5px,#ffc337 62.5px,#f5eb18 73.5px,#f9fb0e 77.5px,#f9fb0e 106.5px,#f6dc23 114.5px,#fec03b 122.5px,#e9b94e 127.5px,#92bf73 145.5px,#6abe83 157.5px,#58bd8c 169.5px,#5bbd8b 184.5px,#73bf7f 199.5px,#b8bd63 225.5px,#c3bc5f 236.5px,#b8bd63 247.5px,#8bbf75 263.5px,#59bd8b 280.5px,#43bb97 297.5px,#31b8a2 317.5px,#1bb2b0 331.5px,#22b4ab 342.5px,#43bb97 366.5px,#61be88 374.5px,#adbe68 389.5px,#c7bc5d 398.5px,#c9bc5d 406.5px,#b2bd65 415.5px,#77bf7e 427.5px,#4cbc92 436.5px,#37b99e 445.5px,#2fb7a3 466.5px,#33b8a1 606.5px)"></i>
<i style="top:130px;background:linear-gradient(90deg,#3eba9a 0.5px,#50bc90 19.5px,#6ebf82 31.5px,#b3bd65 47.5px,#f5ba47 60.5px,#ffc437 64.5px,#f5ea19 76.5px,#f9fb0e 82.5px,#f9f90f 102.5px,#f7da24 112.5px,#fec03a 120.5px,#ebb94d 125.5px,#8dbf74 145.5px,#67be85 157.5px,#56bd8d 170.5px,#5bbd8b 186.5px,#75bf7f 201.5px,#b1bd66 225.5px,#bbbd62 237.5px,#acbe68 249.5px,#57bd8c 280.5px,#41ba98 298.5px,#30b7a2 318.5px,#1db3af 332.5px,#26b5a9 344.5px,#43bb97 367.5px,#60be88 375.5px,#aabe69 390.5px,#c3bc5f 399.5px,#c4bc5f 407.5px,#adbe68 416.5px,#6dbf82 429.5px,#46bb95 438.5px,#35b8a0 448.5px,#30b7a3 483.5px,#33b8a1 606.5px)"></i>
<i style="top:131px;background:linear-gradient(90deg,#3eba9a 0.5px,#4ebc91 19.5px,#6abe83 31.5px,#acbe68 47.5px,#f5ba47 62.5px,#ffc337 66.5px,#f5ec18 81.5px,#f8f90f 91.5px,#f5ee16 101.5px,#fad22b 112.5px,#fcbd3f 119.5px,#ddba54 126.5px,#88bf76 145.5px,#65be86 157.5px,#55bd8d 170.5px,#5abd8b 187.5px,#76bf7e 203.5px,#aabe69 225.5px,#b3bd65 237.5px,#a5be6b 249.5px,#57bd8c 279.5px,#41ba98 298.5px,#30b7a2 319.5px,#1eb3ae 333.5px,#29b6a7 346.5px,#41ba98 367.5px,#5fbe88 376.5px,#a7be6a 391.5px,#bebc61 400.5px,#bebc61 408.5px,#a7be6a 417.5px,#4dbc91 436.5px,#37b99e 446.5px,#30b7a3 468.5px,#33b8a1 606.5px)"></i>
<i style="top:132px;background:linear-gradient(90deg,#3dba9b 0.5px,#4ebc91 20.5px,#6dbf82 33.5px,#b8bd63 51.5px,#f9bb44 65.5px,#fec733 70.5px,#f5e81a 86.5px,#f5e91a 96.5px,#fccc2f 111.5px,#fcbd40 117.5px,#d5ba57 126.5px,#80bf7a 146.5px,#60be88 158.5px,#53bd8e 172.5px,#5cbe8a 190.5px,#7bbf7c 207.5px,#a6be6b 227.5px,#abbe69 239.5px,#98bf70 252.5px,#55bd8e 279.5px,#40ba99 299.5px,#2fb7a3 321.5px,#20b4ad 335.5px,#41ba98 368.5px,#5ebe89 377.5px,#a4be6b 392.5px,#babd63 401.5px,#b9bd63 409.5px,#a1be6c 418.5px,#4bbc93 437.5px,#36b99f 447.5px,#30b7a2 473.5px,#33b8a1 606.5px)"></i>
<i style="top:133px;background:linear-gradient(90deg,#3dba9b 0.5px,#4ebc91 21.5px,#6dbf82 34.5px,#babd62 53.5px,#fabc42 68.5px,#fec932 74.5px,#f6de22 88.5px,#f7d925 100.5px,#fec238 112.5px,#f3ba48 117.5px,#7fbf7a 145.5px,#5fbe88 157.5px,#52bd8f 172.5px,#5bbd8b 191.5px,#7bbf7c 209.5px,#9fbe6d 227.5px,#a3be6c 239.5px,#92bf73 252.5px,#53bd8f 279.5px,#3eba9a 301.5px,#2fb7a3 322.5px,#22b4ac 336.5px,#3fba9a 368.5px,#59bd8b 377.5px,#a0be6d 393.5px,#b5bd64 402.5px,#b3bd65 410.5px,#9bbf6f 419.5px,#4bbc93 437.5px,#37b99e 447.5px,#30b7a2 472.5px,#33b8a1 606.5px)"></i>
<i style="top:134px;background:linear-gradient(90deg,#3cba9b 0.5px,#4cbc92 21.5px,#68be84 34.5px,#b2bd66 53.5px,#fabb42 71.5px,#fec832 78.5px,#f9d429 91.5px,#fdca31 104.5px,#fcbd3f 111.5px,#d4bb58 122.5px,#79bf7d 145.5px,#5cbe8a 157.5px,#50bc90 173.5px,#59bd8b 192.5px,#7abf7c 211.5px,#98bf70 228.5px,#9abf6f 241.5px,#82bf79 256.5px,#51bc90 279.5px,#3dba9b 302.5px,#2db7a4 324.5px,#23b4ab 337.5px,#3eba9a 369.5px,#57bd8c 378.5px,#9fbe6d 395.5px,#b0bd67 404.5px,#a9be69 413.5px,#88bf77 423.5px,#4bbc93 437.5px,#37b99e 447.5px,#30b7a2 471.5px,#32b8a1 606.5px)"></i>
<i style="top:135px;background:linear-gradient(90deg,#39b99d 0.5px,#4abc93 23.5px,#66be85 36.5px,#efb94a 72.5px,#febf3c 79.5px,#fec932 92.5px,#febf3c 104.5px,#ecb94c 112.5px,#6dbf82 146.5px,#54bd8e 158.5px,#4bbc93 175.5px,#58bd8c 196.5px,#8fbf74 228.5px,#91bf73 241.5px,#7abf7c 256.5px,#4dbc92 279.5px,#3ab99d 303.5px,#2bb6a6 326.5px,#24b5aa 339.5px,#3cba9b 370.5px,#57bd8d 380.5px,#96bf71 396.5px,#a6be6b 405.5px,#9ebe6d 414.5px,#7ebf7b 424.5px,#4abc94 437.5px,#35b89f 448.5px,#30b7a3 479.5px,#32b8a1 606.5px)"></i>
<i style="top:136px;background:linear-gradient(90deg,#32b8a1 0.5px,#41ba98 25.5px,#59bd8b 37.5px,#9fbe6d 55.5px,#ddba54 73.5px,#f4ba47 85.5px,#f5ba46 97.5px,#e0ba53 109.5px,#a0be6d 128.5px,#60be88 145.5px,#4abc94 156.5px,#41ba98 175.5px,#4dbc91 198.5px,#7fbf7a 227.5px,#82bf79 241.5px,#69be84 258.5px,#42bb98 281.5px,#33b8a1 306.5px,#23b4ab 340.5px,#37b99f 372.5px,#51bd8f 383.5px,#84bf78 398.5px,#91bf73 408.5px,#86bf77 417.5px,#3fba99 439.5px,#30b7a2 452.5px,#30b7a3 606.5px)"></i>
<i style="top:137px;background:linear-gradient(90deg,#26b5a9 0.5px,#34b8a0 30.5px,#4fbc91 42.5px,#9cbf6e 61.5px,#c7bc5d 77.5px,#d6ba57 90.5px,#ccbb5b 103.5px,#a6be6a 119.5px,#82bf79 129.5px,#4ebc91 142.5px,#37b99e 153.5px,#31b8a2 179.5px,#3dba9b 203.5px,#66be85 225.5px,#6bbe83 240.5px,#52bd8f 261.5px,#30b7a3 286.5px,#1eb3ae 342.5px,#2cb7a5 375.5px,#49bc94 390.5px,#68be84 406.5px,#67be85 416.5px,#33b8a0 441.5px,#2bb6a6 459.5px,#2cb7a5 606.5px)"></i>
<i style="top:138px;background:linear-gradient(90deg,#1ab2b1 0.5px,#24b5aa 33.5px,#3fba99 45.5px,#6abe83 55.5px,#8bbf75 65.5px,#acbe68 81.5px,#b2bd66 95.5px,#a0be6d 109.5px,#70bf80 127.5px,#44bb97 137.5px,#27b5a8 149.5px,#21b4ac 171.5px,#29b6a7 203.5px,#4fbc91 224.5px,#52bd8f 242.5px,#34b8a0 271.5px,#1fb3ad 293.5px,#1ab2b1 350.5px,#23b5ab 381.5px,#44bb97 414.5px,#37b99e 430.5px,#27b5a8 449.5px,#28b6a8 606.5px)"></i>
<i style="top:139px;background:linear-gradient(90deg,#12afb7 0.5px,#19b2b2 45.5px,#20b4ad 72.5px,#1cb3af 134.5px,#15b0b4 166.5px,#19b2b1 211.5px,#1db3af 267.5px,#15b1b4 312.5px,#12afb7 487.5px,#0eaeba 606.5px)"></i>
<i style="top:140px;background:linear-gradient(90deg,#1ab2b1 0.5px,#27b5a9 37.5px,#3fba99 62.5px,#3dba9b 129.5px,#28b6a8 156.5px,#26b5a9 196.5px,#38b99e 226.5px,#35b89f 271.5px,#28b6a8 298.5px,#27b5a9 418.5px,#10afb8 541.5px,#0faeb9 606.5px)"></i>
<i style="top:141px;background:linear-gradient(90deg,#31b8a2 0.5px,#4ebc91 36.5px,#75bf7e 61.5px,#72bf80 130.5px,#55bd8e 168.5px,#4dbc92 186.5px,#5cbe8a 207.5px,#6abe83 225.5px,#67be85 271.5px,#57bd8d 299.5px,#49bc94 426.5px,#2eb7a4 465.5px,#14b0b5 529.5px,#10afb9 606.5px)"></i>
<i style="top:142px;background:linear-gradient(90deg,#58bd8c 0.5px,#afbe67 62.5px,#abbe68 136.5px,#9ebe6d 160.5px,#89bf76 185.5px,#a3be6c 219.5px,#a0be6d 280.5px,#91bf73 338.5px,#87bf77 406.5px,#7fbf7a 424.5px,#4ebc91 456.5px,#19b2b2 521.5px,#11afb8 606.5px)"></i>
<i style="top:143px;background:linear-gradient(90deg,#82bf79 0.5px,#dbba55 57.5px,#e1b952 66.5px,#ddba54 153.5px,#bcbd62 185.5px,#d4bb58 215.5px,#d0bb59 289.5px,#c3bc5f 342.5px,#babd62 401.5px,#adbe68 424.5px,#6dbf82 457.5px,#29b6a7 510.5px,#1db3af 526.5px,#13b0b6 606.5px)"></i>
<i style="top:144px;background:linear-gradient(90deg,#a2be6c 0.5px,#f9bb43 50.5px,#fec634 64.5px,#ffc437 154.5px,#f5ba47 169.5px,#e2b952 184.5px,#fbbd40 213.5px,#f9bb43 291.5px,#ecb94c 341.5px,#e2b951 399.5px,#d3bb58 423.5px,#8bbf75 456.5px,#2ab6a7 516.5px,#22b4ac 527.5px,#14b0b5 606.5px)"></i>
<i style="top:145px;background:linear-gradient(90deg,#b3bd65 0.5px,#fabb42 37.5px,#fdca31 50.5px,#f7d826 64.5px,#f9d528 154.5px,#fdbe3d 177.5px,#f8ba44 185.5px,#fec734 204.5px,#fccd2f 221.5px,#fec932 294.5px,#febf3d 351.5px,#f7ba45 401.5px,#e8b94f 423.5px,#9dbf6e 455.5px,#40ba99 505.5px,#25b5a9 524.5px,#15b1b4 606.5px)"></i>
<i style="top:146px;background:linear-gradient(90deg,#b9bd63 0.5px,#f9bb43 32.5px,#fec932 44.5px,#f5df20 64.5px,#f6dc23 154.5px,#febf3d 182.5px,#fad32a 216.5px,#fbcf2c 293.5px,#ffc536 349.5px,#fdbe3e 401.5px,#f0b94a 423.5px,#a2be6c 455.5px,#49bc94 502.5px,#27b5a8 523.5px,#16b1b4 606.5px)"></i>
<i style="top:147px;background:linear-gradient(90deg,#bfbc60 0.5px,#fabc41 29.5px,#fdca30 41.5px,#f5e81a 64.5px,#f5e61c 153.5px,#ffc437 185.5px,#f7d925 215.5px,#f8d627 292.5px,#fdcb30 345.5px,#ffc238 402.5px,#f7ba45 423.5px,#a8be6a 455.5px,#5bbd8b 495.5px,#29b6a7 522.5px,#16b1b3 606.5px)"></i>
<i style="top:148px;height:2px;background:linear-gradient(90deg,#c6bc5e 0.5px,#fabc42 25.5px,#fdca31 36.5px,#f5ed17 59.5px,#f6f214 66.5px,#f6ef16 153.5px,#fcce2d 178.5px,#fec931 185.5px,#f5e11f 215.5px,#f6dd22 290.5px,#fad12b 340.5px,#fec832 402.5px,#fdbe3e 423.5px,#dcba55 437.5px,#aebe67 455.5px,#64be86 493.5px,#2ab6a6 522.5px,#17b1b3 606.5px)"></i>
<i style="top:150px;background:linear-gradient(90deg,#c1bc60 0.5px,#fabc41 28.5px,#fdcb30 40.5px,#f5ea19 63.5px,#f5e81a 153.5px,#fec535 185.5px,#f6db23 215.5px,#f7d826 291.5px,#fccd2f 344.5px,#ffc436 402.5px,#f9bb43 423.5px,#aebe67 453.5px,#63be87 492.5px,#29b6a7 522.5px,#17b1b3 606.5px)"></i>
<i style="top:151px;background:linear-gradient(90deg,#bcbd61 0.5px,#fabc41 31.5px,#fdca31 43.5px,#f5e31d 64.5px,#f5e21f 153.5px,#fec13a 185.5px,#f8d627 215.5px,#fad22a 293.5px,#fec833 347.5px,#fec03b 401.5px,#f4ba47 423.5px,#a6be6a 455.5px,#55bd8e 497.5px,#28b6a8 522.5px,#16b1b4 606.5px)"></i>
<i style="top:152px;background:linear-gradient(90deg,#b8bd63 0.5px,#fabc42 34.5px,#fec931 46.5px,#f6dd22 64.5px,#f7da24 154.5px,#febf3c 180.5px,#fdbe3e 186.5px,#fad12b 216.5px,#fcce2e 293.5px,#ffc337 349.5px,#fcbd3f 400.5px,#eeb94b 423.5px,#a1be6c 455.5px,#46bb95 503.5px,#27b5a8 523.5px,#16b1b4 606.5px)"></i>
<i style="top:153px;background:linear-gradient(90deg,#b3bd65 0.5px,#f9bb43 37.5px,#fec931 50.5px,#f8d726 64.5px,#f9d528 154.5px,#fdbe3e 177.5px,#f7ba45 185.5px,#fec635 203.5px,#fdcc2f 219.5px,#fec832 294.5px,#febe3d 351.5px,#f7ba45 401.5px,#e8b94f 423.5px,#9dbf6e 455.5px,#42bb98 504.5px,#26b5a9 523.5px,#15b1b4 606.5px)"></i>
<i style="top:154px;background:linear-gradient(90deg,#adbe68 0.5px,#f9bb43 41.5px,#fec832 54.5px,#fad12b 65.5px,#fbcf2d 154.5px,#fdbe3e 172.5px,#f1b94a 185.5px,#ffc238 206.5px,#fec634 230.5px,#ffc338 295.5px,#f9bb43 346.5px,#f1b94a 399.5px,#e1b952 423.5px,#96bf71 456.5px,#31b8a2 513.5px,#24b5aa 525.5px,#15b1b4 606.5px)"></i>
<i style="top:155px;background:linear-gradient(90deg,#a7be6a 0.5px,#f9bb43 46.5px,#fec833 59.5px,#fec832 154.5px,#f9bb43 170.5px,#e7b94f 184.5px,#fec03b 211.5px,#fdbe3e 292.5px,#f2b949 343.5px,#e9b94e 399.5px,#d9ba55 423.5px,#90bf73 456.5px,#2bb6a6 516.5px,#23b4ab 527.5px,#15b0b5 606.5px)"></i>
<i style="top:156px;background:linear-gradient(90deg,#a0be6d 0.5px,#f8ba44 51.5px,#ffc437 64.5px,#fec139 154.5px,#eeb94b 172.5px,#dfba53 184.5px,#f9bb43 214.5px,#f6ba46 292.5px,#e9b94e 340.5px,#e0ba53 400.5px,#d2bb59 423.5px,#8abf76 456.5px,#2bb6a6 515.5px,#22b4ac 526.5px,#14b0b5 606.5px)"></i>
<i style="top:157px;background:linear-gradient(90deg,#99bf70 0.5px,#f1b94a 52.5px,#fcbd3f 64.5px,#fabc41 154.5px,#d6ba57 184.5px,#f1b94a 215.5px,#edb94c 291.5px,#e1ba52 339.5px,#d7ba56 400.5px,#cabb5c 423.5px,#84bf78 456.5px,#2ab6a6 514.5px,#20b4ad 526.5px,#14b0b5 606.5px)"></i>
<i style="top:158px;background:linear-gradient(90deg,#92bf72 0.5px,#e4b950 50.5px,#f5ba47 64.5px,#f2b949 154.5px,#cebb5a 184.5px,#e7b94f 215.5px,#e4b951 291.5px,#d8ba56 340.5px,#cfbb5a 400.5px,#c2bc5f 423.5px,#7dbf7b 456.5px,#2bb6a6 512.5px,#1fb4ad 526.5px,#13b0b6 606.5px)"></i>
<i style="top:159px;background:linear-gradient(90deg,#8cbf75 0.5px,#d9ba56 48.5px,#ecb94d 64.5px,#e9b94e 154.5px,#c7bc5d 185.5px,#dfba53 215.5px,#dbba55 292.5px,#cfbb5a 342.5px,#c7bc5d 401.5px,#babd62 423.5px,#75bf7e 457.5px,#2ab6a6 511.5px,#1eb3ae 526.5px,#13b0b6 606.5px)"></i>
<i style="top:160px;background:linear-gradient(90deg,#85bf78 0.5px,#cfbb5a 47.5px,#e3b951 64.5px,#e0ba52 154.5px,#bfbc60 185.5px,#d7ba57 215.5px,#d3bb58 292.5px,#c8bc5d 343.5px,#bfbc60 401.5px,#b3bd65 423.5px,#70bf81 457.5px,#2ab6a7 510.5px,#1db3af 526.5px,#13b0b6 606.5px)"></i>
<i style="top:161px;background:linear-gradient(90deg,#7fbf7a 0.5px,#c6bc5e 46.5px,#dbba55 64.5px,#d8ba56 154.5px,#b8bd63 185.5px,#cebb5a 215.5px,#cbbb5c 292.5px,#c0bc60 344.5px,#b7bd64 402.5px,#aabe69 424.5px,#6abe83 457.5px,#28b6a8 510.5px,#1cb3af 527.5px,#12b0b6 606.5px)"></i>
<i style="top:162px;background:linear-gradient(90deg,#79bf7d 0.5px,#bdbd61 45.5px,#d2bb59 64.5px,#cfbb5a 154.5px,#b0bd66 185.5px,#c6bc5e 215.5px,#c2bc5f 293.5px,#b8bd63 346.5px,#b0be67 402.5px,#a3be6c 424.5px,#65be85 456.5px,#25b5a9 511.5px,#1bb2b0 528.5px,#12afb7 606.5px)"></i>
<i style="top:163px;background:linear-gradient(90deg,#72bf80 0.5px,#b6bd64 46.5px,#c9bc5c 64.5px,#c6bc5d 154.5px,#a8be6a 185.5px,#bdbc61 215.5px,#babd62 293.5px,#b0be67 347.5px,#a8be6a 402.5px,#9bbf6f 424.5px,#5fbe88 456.5px,#23b4ab 512.5px,#1ab2b1 529.5px,#12afb7 606.5px)"></i>
<i style="top:164px;background:linear-gradient(90deg,#6bbe83 0.5px,#aebe67 47.5px,#c0bc60 64.5px,#bdbc61 154.5px,#a0be6d 185.5px,#b5bd65 216.5px,#b1bd66 294.5px,#a7be6a 350.5px,#9fbe6d 403.5px,#93bf72 424.5px,#5abd8b 456.5px,#20b4ad 514.5px,#19b2b2 534.5px,#11afb7 606.5px)"></i>
<i style="top:165px;background:linear-gradient(90deg,#65be85 0.5px,#a9be69 48.5px,#b8bd63 64.5px,#b6bd64 154.5px,#99bf6f 185.5px,#aebe67 216.5px,#aabe69 294.5px,#a0be6d 351.5px,#98bf70 403.5px,#8dbf75 424.5px,#55bd8e 456.5px,#1db3af 516.5px,#13b0b6 582.5px,#11afb7 606.5px)"></i>
<i style="top:166px;background:linear-gradient(90deg,#61be87 0.5px,#a7be6a 51.5px,#b3bd65 65.5px,#b0bd66 154.5px,#94bf72 185.5px,#a8be6a 216.5px,#a5be6b 294.5px,#9bbf6f 352.5px,#93bf72 404.5px,#88bf77 424.5px,#51bd8f 456.5px,#1bb2b0 518.5px,#11afb8 606.5px)"></i>
<i style="top:167px;background:linear-gradient(90deg,#5dbe89 0.5px,#a5be6b 54.5px,#adbe68 66.5px,#abbe69 154.5px,#8fbf74 185.5px,#a2be6c 216.5px,#9fbe6d 295.5px,#95bf71 355.5px,#8ebf74 404.5px,#83bf79 424.5px,#4ebc91 456.5px,#19b2b2 521.5px,#11afb8 606.5px)"></i>
<i style="top:168px;background:linear-gradient(90deg,#59bd8c 0.5px,#a2be6c 57.5px,#a7be6a 69.5px,#a5be6b 154.5px,#89bf76 185.5px,#9dbf6e 216.5px,#99bf70 295.5px,#8fbf73 357.5px,#88bf77 405.5px,#7dbf7b 424.5px,#4bbc93 456.5px,#18b1b2 521.5px,#11afb8 606.5px)"></i>
<i style="top:169px;background:linear-gradient(90deg,#55bd8e 0.5px,#a0be6d 61.5px,#9ebe6e 155.5px,#84bf78 185.5px,#97bf70 216.5px,#93bf72 295.5px,#8abf76 357.5px,#82bf79 405.5px,#78bf7d 424.5px,#47bb95 456.5px,#17b1b3 522.5px,#10afb8 606.5px)"></i>
<i style="top:170px;background:linear-gradient(90deg,#51bc90 0.5px,#9bbf6f 62.5px,#98bf70 155.5px,#7ebf7b 185.5px,#91bf73 216.5px,#8dbf74 295.5px,#84bf78 360.5px,#7cbf7b 406.5px,#73bf80 424.5px,#44bb97 456.5px,#16b1b3 523.5px,#10afb8 606.5px)"></i>
<i style="top:171px;background:linear-gradient(90deg,#4dbc92 0.5px,#94bf71 62.5px,#91bf73 155.5px,#78bf7d 185.5px,#8bbf75 216.5px,#87bf77 296.5px,#7ebf7b 361.5px,#76bf7e 406.5px,#6dbf82 424.5px,#41ba99 456.5px,#16b1b4 524.5px,#10afb8 606.5px)"></i>
<i style="top:172px;background:linear-gradient(90deg,#49bc94 0.5px,#8ebf74 63.5px,#8bbf75 155.5px,#72bf80 185.5px,#84bf78 216.5px,#81bf7a 296.5px,#77bf7e 366.5px,#6fbf81 409.5px,#66be85 425.5px,#3eba9a 456.5px,#15b1b4 525.5px,#10afb8 606.5px)"></i>
<i style="top:173px;background:linear-gradient(90deg,#45bb96 0.5px,#88bf76 64.5px,#85bf78 155.5px,#6dbf82 185.5px,#7fbf7a 217.5px,#7bbf7c 297.5px,#72bf80 368.5px,#6abe84 411.5px,#61be88 425.5px,#3ab99c 457.5px,#15b0b5 526.5px,#10afb9 606.5px)"></i>
<i style="top:174px;background:linear-gradient(90deg,#43bb97 0.5px,#83bf79 64.5px,#80bf7a 155.5px,#69be84 185.5px,#7abf7c 217.5px,#76bf7e 297.5px,#6dbf82 375.5px,#62be87 421.5px,#38b99e 457.5px,#14b0b5 526.5px,#0faeb9 606.5px)"></i>
<i style="top:175px;background:linear-gradient(90deg,#40ba99 0.5px,#7ebf7b 64.5px,#7bbf7c 155.5px,#64be86 185.5px,#75bf7e 217.5px,#71bf80 297.5px,#68be84 375.5px,#5dbe89 422.5px,#36b99f 457.5px,#14b0b5 527.5px,#0faeb9 606.5px)"></i>
<i style="top:176px;background:linear-gradient(90deg,#3eba9a 0.5px,#79bf7d 64.5px,#76bf7e 155.5px,#60be88 185.5px,#70bf81 217.5px,#6dbf82 297.5px,#64be86 381.5px,#57bd8d 424.5px,#34b8a0 458.5px,#14b0b5 527.5px,#0faeb9 606.5px)"></i>
<i style="top:177px;background:linear-gradient(90deg,#3bb99c 0.5px,#74bf7f 64.5px,#71bf80 155.5px,#5cbe8a 185.5px,#6bbf83 217.5px,#68be84 298.5px,#59bd8b 409.5px,#50bc90 426.5px,#31b8a2 459.5px,#13b0b6 528.5px,#0faeb9 606.5px)"></i>
<i style="top:178px;background:linear-gradient(90deg,#39b99d 0.5px,#6fbf81 65.5px,#6cbf82 155.5px,#58bd8c 186.5px,#66be85 218.5px,#63be87 299.5px,#54bd8e 411.5px,#4cbc93 427.5px,#2fb7a3 460.5px,#13b0b6 529.5px,#0faeb9 606.5px)"></i>
<i style="top:179px;background:linear-gradient(90deg,#36b99f 0.5px,#69be84 65.5px,#67be85 155.5px,#54bd8e 186.5px,#61be87 218.5px,#5dbe89 300.5px,#50bc90 412.5px,#46bb96 429.5px,#2cb7a5 461.5px,#13b0b6 530.5px,#0faeb9 606.5px)"></i>
<i style="top:180px;background:linear-gradient(90deg,#34b8a0 0.5px,#64be86 65.5px,#61be88 156.5px,#4fbc91 186.5px,#5cbe8a 219.5px,#58bd8c 302.5px,#4cbc92 413.5px,#42bb98 430.5px,#2ab6a6 462.5px,#12b0b7 531.5px,#0faeb9 606.5px)"></i>
<i style="top:181px;background:linear-gradient(90deg,#31b8a2 0.5px,#5fbe89 65.5px,#5cbe8a 156.5px,#4bbc93 186.5px,#57bd8c 220.5px,#53bd8e 304.5px,#47bb95 416.5px,#28b6a8 464.5px,#12afb7 532.5px,#0faeb9 606.5px)"></i>
<i style="top:182px;background:linear-gradient(90deg,#2fb7a3 0.5px,#59bd8b 66.5px,#56bd8d 156.5px,#47bb95 186.5px,#52bd8f 220.5px,#4ebc91 305.5px,#43bb97 417.5px,#25b5a9 466.5px,#12afb7 533.5px,#0eaeba 606.5px)"></i>
<i style="top:183px;background:linear-gradient(90deg,#2eb7a4 0.5px,#57bd8d 66.5px,#54bd8e 156.5px,#45bb96 186.5px,#50bc90 221.5px,#4cbc92 307.5px,#41ba98 418.5px,#24b5aa 466.5px,#11afb7 534.5px,#0eaeba 606.5px)"></i>
</div>
<svg width="685" height="543" viewBox="0 0 685 543">
<rect x="78.5" y="0.5" width="606" height="184" fill="none" stroke="#000" stroke-opacity="0.38" stroke-width="1"/>
<rect x="78.5" y="279.5" width="606" height="183" fill="none" stroke="#000" stroke-opacity="0.38" stroke-width="1"/>
<!-- panel a ticks -->
<g class="t" text-anchor="middle">
<text x="78" y="215">300</text><text x="149.3" y="215">400</text><text x="220.6" y="215">500</text><text x="291.9" y="215">600</text><text x="363.2" y="215">700</text><text x="434.5" y="215">800</text><text x="505.8" y="215">900</text><text x="577.1" y="215">1000</text><text x="648.4" y="215">1100</text>
</g>
<g class="t" text-anchor="end">
<text x="70" y="55">200</text><text x="70" y="103.3">0</text><text x="70" y="148.8">-200</text>
</g>
<text class="l" x="380.7" y="246.7" text-anchor="middle">z (nm)</text>
<text class="l b" x="381.2" y="265" text-anchor="middle">(a)</text>
<text class="l" transform="translate(16.5,94) rotate(-90)" text-anchor="middle">x (nm)</text>
<!-- panel b ticks -->
<g class="t" text-anchor="middle">
<text x="78" y="493.3">300</text><text x="149.3" y="493.3">400</text><text x="220.6" y="493.3">500</text><text x="291.9" y="493.3">600</text><text x="363.2" y="493.3">700</text><text x="434.5" y="493.3">800</text><text x="505.8" y="493.3">900</text><text x="577.1" y="493.3">1000</text><text x="648.4" y="493.3">1100</text>
</g>
<g class="t" text-anchor="end">
<text x="70" y="292.3">400</text><text x="70" y="363">200</text><text x="70" y="435.5">0</text>
</g>
<text class="l" x="380.7" y="514.9" text-anchor="middle">z (nm)</text>
<text class="l b" x="381.2" y="538.4" text-anchor="middle">(b)</text>
<text class="l" transform="translate(25,373) rotate(-90)" text-anchor="middle">y (nm)</text>
<!-- annotations -->
<text class="ann" x="578" y="108.6" style="font-size:19px">Taper Tip</text>
<text class="ann" x="109" y="299.6" style="font-size:18.1px">Dielectric</text>
<text class="ann" x="109.5" y="322.5" style="font-size:18px">Waveguide</text>
<text class="ann" x="239" y="303.6" style="font-size:18.2px">Coupler - Mode Transformation</text>
<text class="ann" x="484.5" y="415.8">SiO<tspan dy="7.8" font-size="14.5px">2</tspan></text>
<text class="ann" x="484.5" y="447">Layer</text>
<text class="ann" x="583" y="420.4">Metal</text>
<text class="ann" x="583" y="442.5">Layer</text>
<g fill="#000">
<line x1="571.7" y1="99.5" x2="547.1" y2="96.6" stroke="#000" stroke-width="1.8"/>
<path d="M531.2,94.8 L553.9,89.8 L547.6,96.7 L552.2,104.9 Z"/>
<line x1="105.2" y1="334.5" x2="188.7" y2="334.7" stroke="#000" stroke-width="1.8"/>
<path d="M204.7,334.8 L182.7,342.3 L188.2,334.7 L182.7,327.1 Z"/>
<path d="M89.2,334.4 L111.2,326.9 L105.7,334.5 L111.2,342.1 Z"/>
<line x1="229.2" y1="313.2" x2="524.1" y2="311.5" stroke="#000" stroke-width="1.8"/>
<path d="M540.1,311.4 L518.1,319.1 L523.6,311.5 L518.1,303.9 Z"/>
<path d="M213.2,313.3 L235.2,305.6 L229.7,313.2 L235.2,320.8 Z"/>
<line x1="476.3" y1="420.5" x2="366.3" y2="347.7" stroke="#000" stroke-width="1.8"/>
<path d="M353.0,338.9 L375.5,344.7 L366.8,348.0 L367.2,357.4 Z"/>
<line x1="576.9" y1="411.3" x2="467.1" y2="338.2" stroke="#000" stroke-width="1.8"/>
<path d="M453.8,329.3 L476.3,335.2 L467.5,338.4 L467.9,347.8 Z"/>
</g>
</svg>
</body></html>
